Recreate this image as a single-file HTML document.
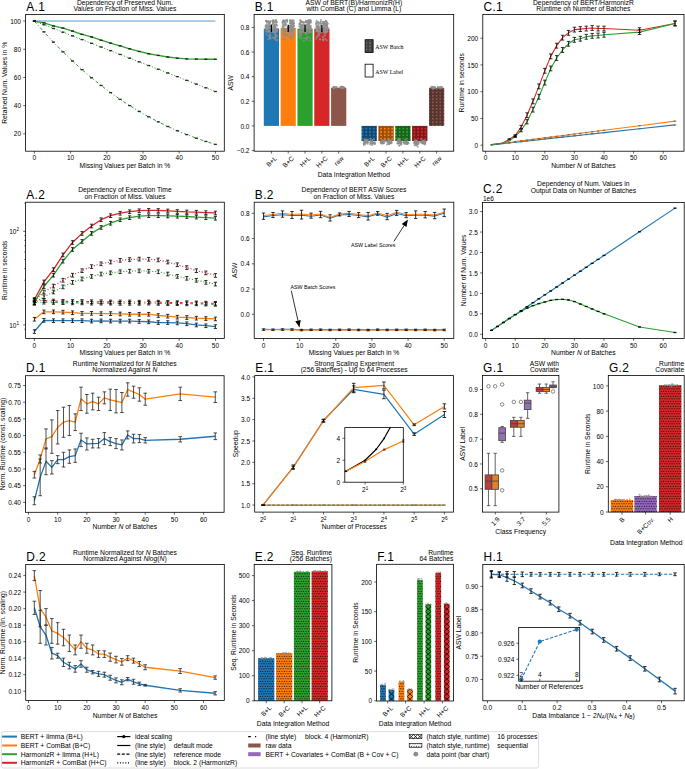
<!DOCTYPE html>
<html><head><meta charset="utf-8"><style>
html,body{margin:0;padding:0;background:#fff;}
svg{display:block;}
text{font-family:"Liberation Sans", sans-serif;}
</style></head><body>
<svg width="685" height="769" viewBox="0 0 685 769">
<defs><clipPath id="c1"><rect x="25.6" y="14.4" width="198.7" height="136.8"/></clipPath><pattern id="ho" patternUnits="userSpaceOnUse" width="3.7" height="3.3"><circle cx="1.85" cy="1.65" r="1.15" fill="none" stroke="#000" stroke-width="0.55"/></pattern><pattern id="hd" patternUnits="userSpaceOnUse" width="2.4" height="5.0"><circle cx="1.2" cy="1.25" r="0.6" fill="#000"/><circle cx="0" cy="3.75" r="0.6" fill="#000"/><circle cx="2.4" cy="3.75" r="0.6" fill="#000"/></pattern><pattern id="hx" patternUnits="userSpaceOnUse" width="2.8" height="2.8"><path d="M0,0L2.8,2.8M2.8,0L0,2.8M-1,1.7999999999999998L1,3.8M1.7999999999999998,-1L3.8,1" stroke="#000" stroke-width="0.45"/></pattern><clipPath id="c2"><rect x="254.1" y="14.4" width="199.6" height="136.8"/></clipPath><clipPath id="c3"><rect x="482.8" y="14.4" width="201.2" height="136.8"/></clipPath><clipPath id="c4"><rect x="25.6" y="202.2" width="198.7" height="136.3"/></clipPath><clipPath id="c5"><rect x="254.2" y="202.2" width="199.6" height="136.3"/></clipPath><clipPath id="c6"><rect x="482.5" y="202.4" width="201.7" height="136"/></clipPath><clipPath id="c7"><rect x="25.5" y="375.7" width="198.6" height="136.6"/></clipPath><clipPath id="c8"><rect x="254.7" y="375.6" width="198.8" height="136.5"/></clipPath><clipPath id="c9"><rect x="344.8" y="427.6" width="58.5" height="54.6"/></clipPath><clipPath id="c10"><rect x="482.5" y="375.5" width="76.4" height="136.6"/></clipPath><clipPath id="c11"><rect x="608.3" y="375.5" width="75.9" height="136.6"/></clipPath><clipPath id="c12"><rect x="25.7" y="564.5" width="198.6" height="136.1"/></clipPath><clipPath id="c13"><rect x="254.2" y="564.4" width="77.7" height="136.4"/></clipPath><clipPath id="c14"><rect x="376.6" y="564.3" width="76.8" height="136.7"/></clipPath><clipPath id="fx1"><rect x="388.6" y="689.81" width="5.7" height="10.99"/></clipPath><clipPath id="fx3"><rect x="407.1" y="689.22" width="5.7" height="11.58"/></clipPath><clipPath id="fx5"><rect x="425.5" y="604.27" width="5.7" height="96.52"/></clipPath><clipPath id="fx7"><rect x="443.9" y="603.8" width="5.7" height="97"/></clipPath><clipPath id="c15"><rect x="482.8" y="564.4" width="201.4" height="136.4"/></clipPath><clipPath id="c16"><rect x="518.7" y="627.5" width="61" height="53.7"/></clipPath></defs>
<rect width="685" height="769" fill="#fff"/>
<polyline points="34.4,21.05 43.93,21.05 53.45,21.05 62.98,21.05 72.51,21.05 82.03,21.05 91.56,21.05 101.08,21.05 110.61,21.05 120.14,21.05 129.66,21.05 139.19,21.05 148.72,21.05 158.24,21.05 167.77,21.05 177.29,21.05 186.82,21.05 196.35,21.05 205.87,21.05 215.4,21.05" fill="none" stroke="#1f77b4" stroke-width="1.5" stroke-opacity="0.5" clip-path="url(#c1)" stroke-linejoin="round" stroke-linecap="butt"/>
<polyline points="34.4,21.05 43.93,22.88 53.45,25.98 62.98,28.1 72.51,31.06 82.03,34.3 91.56,36.98 101.08,40.22 110.61,43.18 120.14,45.85 129.66,48.81 139.19,51.49 148.72,53.75 158.24,55.44 167.77,56.99 177.29,58.12 186.82,58.96 196.35,59.1 205.87,59.24 215.4,59.24" fill="none" stroke="#2ca02c" stroke-width="1.3" clip-path="url(#c1)" stroke-linejoin="round" stroke-linecap="butt"/>
<polyline points="34.4,21.05 43.93,24.76 53.45,28.47 62.98,32.18 72.51,35.89 82.03,39.59 91.56,43.3 101.08,47.01 110.61,50.72 120.14,54.43 129.66,58.14 139.19,61.85 148.72,65.56 158.24,69.27 167.77,72.97 177.29,76.68 186.82,80.39 196.35,84.1 205.87,87.81 215.4,91.52" fill="none" stroke="#2ca02c" stroke-width="1.0" stroke-dasharray="1.1,1.9" clip-path="url(#c1)" stroke-linejoin="round" stroke-linecap="butt"/>
<polyline points="34.4,21.05 43.93,31.89 53.45,42.15 62.98,51.86 72.51,61.04 82.03,69.68 91.56,77.82 101.08,85.47 110.61,92.64 120.14,99.34 129.66,105.6 139.19,111.43 148.72,116.84 158.24,121.86 167.77,126.48 177.29,130.74 186.82,134.64 196.35,138.2 205.87,141.44 215.4,144.37" fill="none" stroke="#2ca02c" stroke-width="1.0" stroke-dasharray="3.2,2.2,1,2.2" clip-path="url(#c1)" stroke-linejoin="round" stroke-linecap="butt"/>
<path d="M34.4,21.22V20.88M32.9,21.22H35.9M32.9,20.88H35.9M43.93,23.05V22.71M42.43,23.05H45.43M42.43,22.71H45.43M53.45,26.15V25.81M51.95,26.15H54.95M51.95,25.81H54.95M62.98,28.27V27.93M61.48,28.27H64.48M61.48,27.93H64.48M72.51,31.23V30.89M71.01,31.23H74.01M71.01,30.89H74.01M82.03,34.47V34.13M80.53,34.47H83.53M80.53,34.13H83.53M91.56,37.15V36.81M90.06,37.15H93.06M90.06,36.81H93.06M101.08,40.39V40.05M99.58,40.39H102.58M99.58,40.05H102.58M110.61,43.35V43.01M109.11,43.35H112.11M109.11,43.01H112.11M120.14,46.02V45.69M118.64,46.02H121.64M118.64,45.69H121.64M129.66,48.98V48.65M128.16,48.98H131.16M128.16,48.65H131.16M139.19,51.66V51.32M137.69,51.66H140.69M137.69,51.32H140.69M148.72,53.92V53.58M147.22,53.92H150.22M147.22,53.58H150.22M158.24,55.61V55.27M156.74,55.61H159.74M156.74,55.27H159.74M167.77,57.16V56.82M166.27,57.16H169.27M166.27,56.82H169.27M177.29,58.29V57.95M175.79,58.29H178.79M175.79,57.95H178.79M186.82,59.13V58.79M185.32,59.13H188.32M185.32,58.79H188.32M196.35,59.27V58.93M194.85,59.27H197.85M194.85,58.93H197.85M205.87,59.41V59.07M204.37,59.41H207.37M204.37,59.07H207.37M215.4,59.41V59.07M213.9,59.41H216.9M213.9,59.07H216.9" stroke="#1a1a1a" stroke-width="0.8" fill="none"/>
<path d="M34.4,21.22V20.88M32.9,21.22H35.9M32.9,20.88H35.9M43.93,24.93V24.59M42.43,24.93H45.43M42.43,24.59H45.43M53.45,28.64V28.3M51.95,28.64H54.95M51.95,28.3H54.95M62.98,32.35V32.01M61.48,32.35H64.48M61.48,32.01H64.48M72.51,36.05V35.72M71.01,36.05H74.01M71.01,35.72H74.01M82.03,39.76V39.43M80.53,39.76H83.53M80.53,39.43H83.53M91.56,43.47V43.13M90.06,43.47H93.06M90.06,43.13H93.06M101.08,47.18V46.84M99.58,47.18H102.58M99.58,46.84H102.58M110.61,50.89V50.55M109.11,50.89H112.11M109.11,50.55H112.11M120.14,54.6V54.26M118.64,54.6H121.64M118.64,54.26H121.64M129.66,58.31V57.97M128.16,58.31H131.16M128.16,57.97H131.16M139.19,62.02V61.68M137.69,62.02H140.69M137.69,61.68H140.69M148.72,65.73V65.39M147.22,65.73H150.22M147.22,65.39H150.22M158.24,69.43V69.1M156.74,69.43H159.74M156.74,69.1H159.74M167.77,73.14V72.81M166.27,73.14H169.27M166.27,72.81H169.27M177.29,76.85V76.51M175.79,76.85H178.79M175.79,76.51H178.79M186.82,80.56V80.22M185.32,80.56H188.32M185.32,80.22H188.32M196.35,84.27V83.93M194.85,84.27H197.85M194.85,83.93H197.85M205.87,87.98V87.64M204.37,87.98H207.37M204.37,87.64H207.37M215.4,91.69V91.35M213.9,91.69H216.9M213.9,91.35H216.9" stroke="#1a1a1a" stroke-width="0.8" fill="none"/>
<path d="M34.4,21.22V20.88M32.9,21.22H35.9M32.9,20.88H35.9M43.93,32.06V31.72M42.43,32.06H45.43M42.43,31.72H45.43M53.45,42.32V41.98M51.95,42.32H54.95M51.95,41.98H54.95M62.98,52.03V51.69M61.48,52.03H64.48M61.48,51.69H64.48M72.51,61.21V60.87M71.01,61.21H74.01M71.01,60.87H74.01M82.03,69.85V69.51M80.53,69.85H83.53M80.53,69.51H83.53M91.56,77.99V77.65M90.06,77.99H93.06M90.06,77.65H93.06M101.08,85.64V85.3M99.58,85.64H102.58M99.58,85.3H102.58M110.61,92.81V92.47M109.11,92.81H112.11M109.11,92.47H112.11M120.14,99.51V99.18M118.64,99.51H121.64M118.64,99.18H121.64M129.66,105.77V105.44M128.16,105.77H131.16M128.16,105.44H131.16M139.19,111.6V111.26M137.69,111.6H140.69M137.69,111.26H140.69M148.72,117.01V116.67M147.22,117.01H150.22M147.22,116.67H150.22M158.24,122.02V121.69M156.74,122.02H159.74M156.74,121.69H159.74M167.77,126.65V126.31M166.27,126.65H169.27M166.27,126.31H169.27M177.29,130.91V130.57M175.79,130.91H178.79M175.79,130.57H178.79M186.82,134.81V134.47M185.32,134.81H188.32M185.32,134.47H188.32M196.35,138.37V138.03M194.85,138.37H197.85M194.85,138.03H197.85M205.87,141.61V141.27M204.37,141.61H207.37M204.37,141.27H207.37M215.4,144.54V144.2M213.9,144.54H216.9M213.9,144.2H216.9" stroke="#1a1a1a" stroke-width="0.8" fill="none"/>
<rect x="25.6" y="14.4" width="198.7" height="136.8" fill="none" stroke="#000" stroke-width="0.8"/>
<line x1="34.4" y1="151.2" x2="34.4" y2="153.6" stroke="#000" stroke-width="0.6"/>
<text x="34.4" y="160.4" font-size="6.5" text-anchor="middle" letter-spacing="0" fill="#000">0</text>
<line x1="70.6" y1="151.2" x2="70.6" y2="153.6" stroke="#000" stroke-width="0.6"/>
<text x="70.6" y="160.4" font-size="6.5" text-anchor="middle" letter-spacing="0" fill="#000">10</text>
<line x1="106.8" y1="151.2" x2="106.8" y2="153.6" stroke="#000" stroke-width="0.6"/>
<text x="106.8" y="160.4" font-size="6.5" text-anchor="middle" letter-spacing="0" fill="#000">20</text>
<line x1="143" y1="151.2" x2="143" y2="153.6" stroke="#000" stroke-width="0.6"/>
<text x="143" y="160.4" font-size="6.5" text-anchor="middle" letter-spacing="0" fill="#000">30</text>
<line x1="179.2" y1="151.2" x2="179.2" y2="153.6" stroke="#000" stroke-width="0.6"/>
<text x="179.2" y="160.4" font-size="6.5" text-anchor="middle" letter-spacing="0" fill="#000">40</text>
<line x1="215.4" y1="151.2" x2="215.4" y2="153.6" stroke="#000" stroke-width="0.6"/>
<text x="215.4" y="160.4" font-size="6.5" text-anchor="middle" letter-spacing="0" fill="#000">50</text>
<line x1="23.2" y1="133.8" x2="25.6" y2="133.8" stroke="#000" stroke-width="0.6"/>
<text x="21" y="136.4" font-size="6.5" text-anchor="end" letter-spacing="0" fill="#000">20</text>
<line x1="23.2" y1="105.61" x2="25.6" y2="105.61" stroke="#000" stroke-width="0.6"/>
<text x="21" y="108.21" font-size="6.5" text-anchor="end" letter-spacing="0" fill="#000">40</text>
<line x1="23.2" y1="77.43" x2="25.6" y2="77.43" stroke="#000" stroke-width="0.6"/>
<text x="21" y="80.03" font-size="6.5" text-anchor="end" letter-spacing="0" fill="#000">60</text>
<line x1="23.2" y1="49.24" x2="25.6" y2="49.24" stroke="#000" stroke-width="0.6"/>
<text x="21" y="51.84" font-size="6.5" text-anchor="end" letter-spacing="0" fill="#000">80</text>
<line x1="23.2" y1="21.05" x2="25.6" y2="21.05" stroke="#000" stroke-width="0.6"/>
<text x="21" y="23.65" font-size="6.5" text-anchor="end" letter-spacing="0" fill="#000">100</text>
<text x="26.2" y="10.9" font-size="11.9" text-anchor="start" fill="#000" letter-spacing="0.4">A.1</text>
<text x="124.95" y="4.6" font-size="6.75" text-anchor="middle" letter-spacing="0" fill="#000">Dependency of Preserved Num.</text>
<text x="124.95" y="10.8" font-size="6.75" text-anchor="middle" letter-spacing="0" fill="#000">Values on Fraction of Miss. Values</text>
<text x="124.95" y="168.1" font-size="6.75" text-anchor="middle" letter-spacing="0" fill="#000">Missing Values per Batch in %</text>
<text x="6.6" y="82.8" font-size="6.75" text-anchor="middle" transform="rotate(-90 6.6 82.8)" letter-spacing="0" fill="#000">Retained Num. Values in %</text>
<rect x="263.8" y="28.63" width="15.2" height="97.27" fill="#1f77b4"/>
<rect x="280.62" y="27.77" width="15.2" height="98.13" fill="#ff7f0e"/>
<rect x="297.44" y="28.63" width="15.2" height="97.27" fill="#2ca02c"/>
<rect x="314.26" y="28.63" width="15.2" height="97.27" fill="#d62728"/>
<rect x="331.08" y="87.73" width="15.2" height="38.17" fill="#8c564b"/>
<rect x="361.6" y="125.9" width="15.2" height="15.14" fill="#1f77b4"/>
<rect x="361.6" y="125.9" width="15.2" height="15.14" fill="url(#ho)"/>
<rect x="378.45" y="125.9" width="15.2" height="15.14" fill="#ff7f0e"/>
<rect x="378.45" y="125.9" width="15.2" height="15.14" fill="url(#ho)"/>
<rect x="395.3" y="125.9" width="15.2" height="15.14" fill="#2ca02c"/>
<rect x="395.3" y="125.9" width="15.2" height="15.14" fill="url(#ho)"/>
<rect x="412.15" y="125.9" width="15.2" height="15.14" fill="#d62728"/>
<rect x="412.15" y="125.9" width="15.2" height="15.14" fill="url(#ho)"/>
<rect x="429" y="87.85" width="15.2" height="38.05" fill="#8c564b"/>
<rect x="429" y="87.85" width="15.2" height="38.05" fill="url(#ho)"/>
<g fill="#8e8e8e" fill-opacity="0.8"><circle cx="268.58" cy="21.05" r="1.0"/><circle cx="275.35" cy="32.16" r="1.0"/><circle cx="273.45" cy="20.07" r="1.0"/><circle cx="274.91" cy="27.44" r="1.0"/><circle cx="266.71" cy="20.93" r="1.0"/><circle cx="275.95" cy="31.54" r="1.0"/><circle cx="267.07" cy="21.67" r="1.0"/><circle cx="275.19" cy="37.13" r="1.0"/><circle cx="274.15" cy="26.85" r="1.0"/><circle cx="270.07" cy="30.65" r="1.0"/><circle cx="266.84" cy="22.73" r="1.0"/><circle cx="274.29" cy="25.26" r="1.0"/><circle cx="275.14" cy="34.23" r="1.0"/><circle cx="269.95" cy="34.33" r="1.0"/><circle cx="269.13" cy="25.65" r="1.0"/><circle cx="269.21" cy="22.09" r="1.0"/><circle cx="273.58" cy="21.81" r="1.0"/><circle cx="272.56" cy="27.27" r="1.0"/><circle cx="265.6" cy="27.21" r="1.0"/><circle cx="265.73" cy="31.77" r="1.0"/><circle cx="274.96" cy="38.19" r="1.0"/><circle cx="270.69" cy="31.38" r="1.0"/><circle cx="270.43" cy="38.07" r="1.0"/><circle cx="272.91" cy="21.64" r="1.0"/><circle cx="273.97" cy="21.72" r="1.0"/><circle cx="274.49" cy="24.4" r="1.0"/><circle cx="268.72" cy="35.95" r="1.0"/><circle cx="275.4" cy="20.8" r="1.0"/><circle cx="277.18" cy="25.57" r="1.0"/><circle cx="269.6" cy="37.84" r="1.0"/><circle cx="275.3" cy="31.59" r="1.0"/><circle cx="274.52" cy="27.98" r="1.0"/><circle cx="275.94" cy="31.58" r="1.0"/><circle cx="270.51" cy="26.71" r="1.0"/><circle cx="273.02" cy="22.99" r="1.0"/><circle cx="273.66" cy="22.82" r="1.0"/><circle cx="270.55" cy="30.71" r="1.0"/><circle cx="268.9" cy="28.29" r="1.0"/><circle cx="275.48" cy="24.93" r="1.0"/><circle cx="275.61" cy="22.35" r="1.0"/><circle cx="265.92" cy="29.64" r="1.0"/><circle cx="273.51" cy="31.91" r="1.0"/><circle cx="267.14" cy="25.25" r="1.0"/><circle cx="273.87" cy="31.27" r="1.0"/><circle cx="275.17" cy="25.94" r="1.0"/><circle cx="274.52" cy="28.75" r="1.0"/><circle cx="272.28" cy="29.87" r="1.0"/><circle cx="277" cy="31.22" r="1.0"/><circle cx="275.01" cy="33.88" r="1.0"/><circle cx="269.38" cy="24.16" r="1.0"/><circle cx="274.93" cy="32.46" r="1.0"/><circle cx="272.72" cy="31.89" r="1.0"/><circle cx="270.16" cy="35.26" r="1.0"/><circle cx="268" cy="26.13" r="1.0"/><circle cx="268.95" cy="27.23" r="1.0"/><circle cx="267.28" cy="21.72" r="1.0"/><circle cx="276.32" cy="29.61" r="1.0"/><circle cx="268.28" cy="30.22" r="1.0"/><circle cx="276.89" cy="22.19" r="1.0"/><circle cx="268.04" cy="27.4" r="1.0"/><circle cx="273.39" cy="25.93" r="1.0"/><circle cx="267.96" cy="32.3" r="1.0"/><circle cx="269.53" cy="31.71" r="1.0"/><circle cx="277.17" cy="40.1" r="1.0"/><circle cx="273.74" cy="28" r="1.0"/><circle cx="275.15" cy="29.97" r="1.0"/><circle cx="274.33" cy="32.28" r="1.0"/><circle cx="276.24" cy="31.8" r="1.0"/><circle cx="275.24" cy="27.64" r="1.0"/><circle cx="268.74" cy="27.74" r="1.0"/><circle cx="276.05" cy="20.62" r="1.0"/><circle cx="274.5" cy="25.73" r="1.0"/><circle cx="269.68" cy="30.72" r="1.0"/><circle cx="270.37" cy="21.27" r="1.0"/><circle cx="272.73" cy="20.76" r="1.0"/><circle cx="275.57" cy="25.38" r="1.0"/><circle cx="269.72" cy="26.49" r="1.0"/><circle cx="269.53" cy="31.19" r="1.0"/><circle cx="268.93" cy="22.24" r="1.0"/><circle cx="276.48" cy="21.93" r="1.0"/><circle cx="276.45" cy="35.24" r="1.0"/><circle cx="265.69" cy="26.03" r="1.0"/><circle cx="266.06" cy="20.82" r="1.0"/><circle cx="268.36" cy="39.17" r="1.0"/><circle cx="266.76" cy="29.25" r="1.0"/><circle cx="273.42" cy="20.77" r="1.0"/><circle cx="277.12" cy="29.43" r="1.0"/><circle cx="276.49" cy="36.85" r="1.0"/><circle cx="272.91" cy="21.4" r="1.0"/><circle cx="266" cy="21.04" r="1.0"/><circle cx="275.15" cy="39.6" r="1.0"/><circle cx="266.26" cy="20.82" r="1.0"/><circle cx="275.59" cy="35.08" r="1.0"/><circle cx="276.72" cy="29.02" r="1.0"/><circle cx="273.14" cy="29.38" r="1.0"/><circle cx="276.13" cy="20.12" r="1.0"/><circle cx="275.75" cy="25.18" r="1.0"/><circle cx="268" cy="21.78" r="1.0"/><circle cx="276.17" cy="40.49" r="1.0"/><circle cx="270.13" cy="22.75" r="1.0"/><circle cx="270.49" cy="38.56" r="1.0"/><circle cx="269.53" cy="24.67" r="1.0"/><circle cx="270.18" cy="21.67" r="1.0"/><circle cx="273.05" cy="22.49" r="1.0"/><circle cx="265.98" cy="28.73" r="1.0"/><circle cx="274.45" cy="28.18" r="1.0"/><circle cx="267.24" cy="26.34" r="1.0"/><circle cx="268.85" cy="26.29" r="1.0"/><circle cx="268.33" cy="28.94" r="1.0"/><circle cx="272.69" cy="31.99" r="1.0"/><circle cx="268.24" cy="23.97" r="1.0"/><circle cx="276.04" cy="24" r="1.0"/><circle cx="272.66" cy="37.61" r="1.0"/><circle cx="268.97" cy="31.59" r="1.0"/><circle cx="275.63" cy="30.08" r="1.0"/><circle cx="266.43" cy="34.49" r="1.0"/><circle cx="266.06" cy="20.99" r="1.0"/><circle cx="274.99" cy="26.69" r="1.0"/><circle cx="276.17" cy="31" r="1.0"/><circle cx="269.42" cy="23.22" r="1.0"/><circle cx="272.62" cy="31.67" r="1.0"/><circle cx="265.72" cy="29.28" r="1.0"/><circle cx="276.65" cy="36.53" r="1.0"/><circle cx="267.33" cy="30.94" r="1.0"/><circle cx="275.17" cy="25.38" r="1.0"/><circle cx="266.46" cy="27.19" r="1.0"/><circle cx="276.34" cy="25.04" r="1.0"/><circle cx="269.97" cy="25.62" r="1.0"/><circle cx="268.46" cy="29.25" r="1.0"/><circle cx="272.26" cy="21.35" r="1.0"/><circle cx="273.74" cy="37.89" r="1.0"/><circle cx="277.18" cy="28.64" r="1.0"/><circle cx="272.26" cy="24.52" r="1.0"/><circle cx="269.51" cy="26.27" r="1.0"/><circle cx="273.13" cy="29.72" r="1.0"/><circle cx="272.68" cy="24.23" r="1.0"/><circle cx="266.21" cy="24.65" r="1.0"/><circle cx="265.63" cy="26.1" r="1.0"/><circle cx="274.9" cy="37.76" r="1.0"/><circle cx="275.71" cy="21.76" r="1.0"/><circle cx="269.22" cy="28.09" r="1.0"/><circle cx="270.35" cy="36.64" r="1.0"/><circle cx="268.02" cy="31.8" r="1.0"/><circle cx="269.9" cy="27.5" r="1.0"/><circle cx="275.74" cy="27.13" r="1.0"/><circle cx="273.68" cy="23" r="1.0"/><circle cx="274.38" cy="31.87" r="1.0"/><circle cx="274.01" cy="25.81" r="1.0"/><circle cx="273.26" cy="29.75" r="1.0"/><circle cx="272.85" cy="29.92" r="1.0"/><circle cx="363.61" cy="143.66" r="1.0"/><circle cx="364.17" cy="143.09" r="1.0"/><circle cx="365.63" cy="141.24" r="1.0"/><circle cx="372.25" cy="139.89" r="1.0"/><circle cx="370.26" cy="142.5" r="1.0"/><circle cx="365.4" cy="143.25" r="1.0"/><circle cx="367.86" cy="141.53" r="1.0"/><circle cx="372.38" cy="142.95" r="1.0"/><circle cx="365.1" cy="140.05" r="1.0"/><circle cx="367.38" cy="140.28" r="1.0"/><circle cx="371.42" cy="141.92" r="1.0"/><circle cx="372.45" cy="143.75" r="1.0"/><circle cx="370.24" cy="144.49" r="1.0"/><circle cx="370.55" cy="138.64" r="1.0"/><circle cx="374.75" cy="142.37" r="1.0"/><circle cx="366.77" cy="142.34" r="1.0"/><circle cx="364.32" cy="141.84" r="1.0"/><circle cx="371.06" cy="142.17" r="1.0"/><circle cx="371.73" cy="143.52" r="1.0"/><circle cx="365.34" cy="142.11" r="1.0"/><circle cx="370.52" cy="142.99" r="1.0"/><circle cx="365.94" cy="139.74" r="1.0"/><circle cx="372.68" cy="142.03" r="1.0"/><circle cx="374.11" cy="143.63" r="1.0"/><circle cx="374.53" cy="143.19" r="1.0"/><circle cx="365.63" cy="141.21" r="1.0"/><circle cx="371.76" cy="141.58" r="1.0"/><circle cx="374.66" cy="143.73" r="1.0"/><circle cx="364.24" cy="142.35" r="1.0"/><circle cx="370.54" cy="142.56" r="1.0"/><circle cx="365.04" cy="144.24" r="1.0"/><circle cx="367.72" cy="143.72" r="1.0"/><circle cx="365.66" cy="140.52" r="1.0"/><circle cx="374.89" cy="143.6" r="1.0"/><circle cx="363.85" cy="145" r="1.0"/><circle cx="365.12" cy="140.28" r="1.0"/><circle cx="370.63" cy="140.56" r="1.0"/><circle cx="366.8" cy="141.32" r="1.0"/><circle cx="367.99" cy="139.83" r="1.0"/><circle cx="364.6" cy="139.2" r="1.0"/><circle cx="364.56" cy="143.58" r="1.0"/><circle cx="373.89" cy="142.82" r="1.0"/><circle cx="365.74" cy="142.56" r="1.0"/><circle cx="366.37" cy="142.55" r="1.0"/><circle cx="364.46" cy="141.83" r="1.0"/><circle cx="372.02" cy="142.63" r="1.0"/><circle cx="366.58" cy="142.08" r="1.0"/><circle cx="372.03" cy="145.01" r="1.0"/><circle cx="373.83" cy="143.12" r="1.0"/><circle cx="374.01" cy="139.13" r="1.0"/><circle cx="364.06" cy="141.13" r="1.0"/><circle cx="365.14" cy="142.22" r="1.0"/><circle cx="365.83" cy="140.73" r="1.0"/><circle cx="372.13" cy="141.53" r="1.0"/><circle cx="366.41" cy="141.99" r="1.0"/><circle cx="365.11" cy="141.05" r="1.0"/><circle cx="372.21" cy="142.28" r="1.0"/><circle cx="366.99" cy="141.08" r="1.0"/><circle cx="374.57" cy="143.65" r="1.0"/><circle cx="367.83" cy="142.59" r="1.0"/><circle cx="291.44" cy="27.31" r="1.0"/><circle cx="283.84" cy="39.13" r="1.0"/><circle cx="282.47" cy="26.13" r="1.0"/><circle cx="285.64" cy="23.15" r="1.0"/><circle cx="291.48" cy="26.56" r="1.0"/><circle cx="286.2" cy="31.05" r="1.0"/><circle cx="293.64" cy="29.79" r="1.0"/><circle cx="292.89" cy="20.3" r="1.0"/><circle cx="293.82" cy="20.75" r="1.0"/><circle cx="291.65" cy="27.9" r="1.0"/><circle cx="290.4" cy="21.41" r="1.0"/><circle cx="292.81" cy="35.83" r="1.0"/><circle cx="283" cy="25.73" r="1.0"/><circle cx="287.26" cy="20.21" r="1.0"/><circle cx="290.77" cy="37.37" r="1.0"/><circle cx="284.87" cy="28.92" r="1.0"/><circle cx="293.26" cy="22.34" r="1.0"/><circle cx="290.54" cy="22.45" r="1.0"/><circle cx="292.68" cy="31.96" r="1.0"/><circle cx="285.58" cy="21.09" r="1.0"/><circle cx="287.28" cy="21.97" r="1.0"/><circle cx="291.57" cy="25.53" r="1.0"/><circle cx="289.01" cy="26.34" r="1.0"/><circle cx="286.98" cy="36.34" r="1.0"/><circle cx="290.85" cy="28.71" r="1.0"/><circle cx="285.88" cy="35.56" r="1.0"/><circle cx="292.95" cy="28.9" r="1.0"/><circle cx="291.27" cy="39.41" r="1.0"/><circle cx="289.65" cy="26.35" r="1.0"/><circle cx="286.62" cy="34.91" r="1.0"/><circle cx="283.97" cy="30.9" r="1.0"/><circle cx="283.78" cy="21.1" r="1.0"/><circle cx="284.58" cy="31.91" r="1.0"/><circle cx="293.58" cy="34.6" r="1.0"/><circle cx="283.94" cy="24.27" r="1.0"/><circle cx="290.56" cy="20.63" r="1.0"/><circle cx="290.57" cy="28.85" r="1.0"/><circle cx="284.49" cy="21.25" r="1.0"/><circle cx="290.11" cy="31.35" r="1.0"/><circle cx="286.18" cy="24.55" r="1.0"/><circle cx="287.22" cy="34.13" r="1.0"/><circle cx="290.31" cy="29.03" r="1.0"/><circle cx="283.23" cy="30.26" r="1.0"/><circle cx="287.03" cy="20.1" r="1.0"/><circle cx="292.28" cy="31.65" r="1.0"/><circle cx="283.94" cy="30.72" r="1.0"/><circle cx="282.57" cy="35.68" r="1.0"/><circle cx="292.97" cy="30.09" r="1.0"/><circle cx="283.78" cy="30.54" r="1.0"/><circle cx="284.31" cy="35" r="1.0"/><circle cx="282.36" cy="30.57" r="1.0"/><circle cx="290.2" cy="20.62" r="1.0"/><circle cx="289.46" cy="26.5" r="1.0"/><circle cx="291.68" cy="36.59" r="1.0"/><circle cx="291.33" cy="26.88" r="1.0"/><circle cx="293.25" cy="25.01" r="1.0"/><circle cx="283.88" cy="31.5" r="1.0"/><circle cx="290.3" cy="31.67" r="1.0"/><circle cx="284.45" cy="39.82" r="1.0"/><circle cx="283.14" cy="27.36" r="1.0"/><circle cx="291.65" cy="31.19" r="1.0"/><circle cx="290.61" cy="29.63" r="1.0"/><circle cx="291.55" cy="28.41" r="1.0"/><circle cx="292.57" cy="23.42" r="1.0"/><circle cx="293.4" cy="28.79" r="1.0"/><circle cx="290.32" cy="26.16" r="1.0"/><circle cx="292.71" cy="26.97" r="1.0"/><circle cx="291.28" cy="25.78" r="1.0"/><circle cx="287.45" cy="26.89" r="1.0"/><circle cx="282.68" cy="21.89" r="1.0"/><circle cx="289.23" cy="37.16" r="1.0"/><circle cx="284.23" cy="25.57" r="1.0"/><circle cx="284.56" cy="33.94" r="1.0"/><circle cx="288.98" cy="27.76" r="1.0"/><circle cx="290.86" cy="21.55" r="1.0"/><circle cx="289.68" cy="27.76" r="1.0"/><circle cx="283.05" cy="28.38" r="1.0"/><circle cx="289.94" cy="23.3" r="1.0"/><circle cx="291.7" cy="22.13" r="1.0"/><circle cx="284.62" cy="30.84" r="1.0"/><circle cx="290.09" cy="28.55" r="1.0"/><circle cx="282.93" cy="21.46" r="1.0"/><circle cx="289.07" cy="32.23" r="1.0"/><circle cx="284.78" cy="29.82" r="1.0"/><circle cx="291.97" cy="38.01" r="1.0"/><circle cx="289.42" cy="34.14" r="1.0"/><circle cx="282.65" cy="33.6" r="1.0"/><circle cx="289.26" cy="26.42" r="1.0"/><circle cx="292.2" cy="24.2" r="1.0"/><circle cx="293.5" cy="28.35" r="1.0"/><circle cx="293.9" cy="25.95" r="1.0"/><circle cx="285.3" cy="29.47" r="1.0"/><circle cx="293.21" cy="37.04" r="1.0"/><circle cx="294.03" cy="25.82" r="1.0"/><circle cx="285.3" cy="25.08" r="1.0"/><circle cx="292.14" cy="22.86" r="1.0"/><circle cx="284.64" cy="21.76" r="1.0"/><circle cx="284.89" cy="39.13" r="1.0"/><circle cx="287.2" cy="21.08" r="1.0"/><circle cx="293.3" cy="23.03" r="1.0"/><circle cx="291.51" cy="21.84" r="1.0"/><circle cx="283.55" cy="29.57" r="1.0"/><circle cx="290.22" cy="23.78" r="1.0"/><circle cx="292.73" cy="28.58" r="1.0"/><circle cx="285.26" cy="23.71" r="1.0"/><circle cx="286.54" cy="29.46" r="1.0"/><circle cx="292.03" cy="30.14" r="1.0"/><circle cx="291.22" cy="22.64" r="1.0"/><circle cx="291.47" cy="29.02" r="1.0"/><circle cx="292.49" cy="22.26" r="1.0"/><circle cx="290.72" cy="36.18" r="1.0"/><circle cx="282.92" cy="21.68" r="1.0"/><circle cx="285.35" cy="25.82" r="1.0"/><circle cx="291.4" cy="21.7" r="1.0"/><circle cx="290.87" cy="28.05" r="1.0"/><circle cx="285.56" cy="20.31" r="1.0"/><circle cx="291.96" cy="28.77" r="1.0"/><circle cx="294.06" cy="23.11" r="1.0"/><circle cx="293.72" cy="25.45" r="1.0"/><circle cx="291.12" cy="30.09" r="1.0"/><circle cx="292.55" cy="27.58" r="1.0"/><circle cx="284.01" cy="21.06" r="1.0"/><circle cx="289.82" cy="29.91" r="1.0"/><circle cx="291.79" cy="23.41" r="1.0"/><circle cx="292.57" cy="24.13" r="1.0"/><circle cx="282.84" cy="20.96" r="1.0"/><circle cx="290.99" cy="28.92" r="1.0"/><circle cx="290.12" cy="29.72" r="1.0"/><circle cx="284.8" cy="29.1" r="1.0"/><circle cx="283.7" cy="20.66" r="1.0"/><circle cx="283.6" cy="28.04" r="1.0"/><circle cx="293.62" cy="23.66" r="1.0"/><circle cx="283.49" cy="20.33" r="1.0"/><circle cx="293.23" cy="31.8" r="1.0"/><circle cx="290.32" cy="27.74" r="1.0"/><circle cx="292.79" cy="23.86" r="1.0"/><circle cx="294.01" cy="28.69" r="1.0"/><circle cx="291.97" cy="31.75" r="1.0"/><circle cx="284.56" cy="22.59" r="1.0"/><circle cx="284.95" cy="32.59" r="1.0"/><circle cx="290.26" cy="25.38" r="1.0"/><circle cx="289.97" cy="20.25" r="1.0"/><circle cx="284.84" cy="30.49" r="1.0"/><circle cx="292.4" cy="30.34" r="1.0"/><circle cx="282.77" cy="23.95" r="1.0"/><circle cx="282.36" cy="22.66" r="1.0"/><circle cx="292.6" cy="24.16" r="1.0"/><circle cx="290.29" cy="32.3" r="1.0"/><circle cx="292.47" cy="32.24" r="1.0"/><circle cx="291.61" cy="20.37" r="1.0"/><circle cx="380.56" cy="142.23" r="1.0"/><circle cx="391.44" cy="142.07" r="1.0"/><circle cx="389.96" cy="143.2" r="1.0"/><circle cx="382.01" cy="141.92" r="1.0"/><circle cx="381.11" cy="143.33" r="1.0"/><circle cx="382.97" cy="141.42" r="1.0"/><circle cx="381.74" cy="141.97" r="1.0"/><circle cx="388.02" cy="142.23" r="1.0"/><circle cx="389.68" cy="142.5" r="1.0"/><circle cx="390.13" cy="139.99" r="1.0"/><circle cx="382.85" cy="143.32" r="1.0"/><circle cx="381.2" cy="141.76" r="1.0"/><circle cx="389.35" cy="139.77" r="1.0"/><circle cx="382.46" cy="140.46" r="1.0"/><circle cx="381.83" cy="143.24" r="1.0"/><circle cx="387.54" cy="142.41" r="1.0"/><circle cx="387.28" cy="141.56" r="1.0"/><circle cx="387.05" cy="144.38" r="1.0"/><circle cx="382.62" cy="140.15" r="1.0"/><circle cx="391.3" cy="142.21" r="1.0"/><circle cx="382" cy="142.99" r="1.0"/><circle cx="388.39" cy="139.89" r="1.0"/><circle cx="390.8" cy="142.91" r="1.0"/><circle cx="391.58" cy="140.65" r="1.0"/><circle cx="380.9" cy="142.7" r="1.0"/><circle cx="383.93" cy="143.18" r="1.0"/><circle cx="383.38" cy="140.52" r="1.0"/><circle cx="382.73" cy="141.27" r="1.0"/><circle cx="390.2" cy="141.01" r="1.0"/><circle cx="389.64" cy="142.91" r="1.0"/><circle cx="389.03" cy="144.04" r="1.0"/><circle cx="388.42" cy="139.62" r="1.0"/><circle cx="390.73" cy="142.29" r="1.0"/><circle cx="383.47" cy="143.19" r="1.0"/><circle cx="391.54" cy="143.18" r="1.0"/><circle cx="389.83" cy="142.14" r="1.0"/><circle cx="385.14" cy="140.97" r="1.0"/><circle cx="387.82" cy="141.86" r="1.0"/><circle cx="383.49" cy="141" r="1.0"/><circle cx="391.19" cy="143.04" r="1.0"/><circle cx="388.76" cy="141.73" r="1.0"/><circle cx="388.7" cy="143.45" r="1.0"/><circle cx="388.26" cy="142.09" r="1.0"/><circle cx="384.03" cy="141.32" r="1.0"/><circle cx="383.43" cy="142.36" r="1.0"/><circle cx="389.25" cy="142.9" r="1.0"/><circle cx="389.36" cy="144.02" r="1.0"/><circle cx="388.85" cy="142.95" r="1.0"/><circle cx="384.74" cy="141.3" r="1.0"/><circle cx="385.05" cy="139.6" r="1.0"/><circle cx="382.25" cy="142.95" r="1.0"/><circle cx="383.2" cy="142.33" r="1.0"/><circle cx="389.59" cy="141.3" r="1.0"/><circle cx="381.11" cy="141.25" r="1.0"/><circle cx="389.34" cy="143.42" r="1.0"/><circle cx="381.57" cy="143.43" r="1.0"/><circle cx="383.19" cy="143.22" r="1.0"/><circle cx="385.03" cy="140.84" r="1.0"/><circle cx="387.9" cy="141.91" r="1.0"/><circle cx="384.54" cy="140.98" r="1.0"/><circle cx="306.93" cy="37.66" r="1.0"/><circle cx="309.76" cy="29.77" r="1.0"/><circle cx="305.75" cy="22.28" r="1.0"/><circle cx="304" cy="22.23" r="1.0"/><circle cx="303.25" cy="28.75" r="1.0"/><circle cx="310.78" cy="31.94" r="1.0"/><circle cx="301.5" cy="25.76" r="1.0"/><circle cx="307.12" cy="20.68" r="1.0"/><circle cx="301.49" cy="28.02" r="1.0"/><circle cx="299.69" cy="37.02" r="1.0"/><circle cx="309.87" cy="29.4" r="1.0"/><circle cx="302.3" cy="30.19" r="1.0"/><circle cx="307.53" cy="28.29" r="1.0"/><circle cx="303.19" cy="31.49" r="1.0"/><circle cx="308.63" cy="26.88" r="1.0"/><circle cx="310.93" cy="32.31" r="1.0"/><circle cx="301.06" cy="38.2" r="1.0"/><circle cx="303.54" cy="27.87" r="1.0"/><circle cx="309.54" cy="37.69" r="1.0"/><circle cx="308.52" cy="31.41" r="1.0"/><circle cx="306.71" cy="39.81" r="1.0"/><circle cx="300.05" cy="29.12" r="1.0"/><circle cx="301.03" cy="29.6" r="1.0"/><circle cx="310.3" cy="40.42" r="1.0"/><circle cx="306.6" cy="26.14" r="1.0"/><circle cx="309.61" cy="20.03" r="1.0"/><circle cx="310.29" cy="31.33" r="1.0"/><circle cx="302.6" cy="31.04" r="1.0"/><circle cx="302.58" cy="29.73" r="1.0"/><circle cx="305.94" cy="20.78" r="1.0"/><circle cx="300.84" cy="20.27" r="1.0"/><circle cx="309.72" cy="32.15" r="1.0"/><circle cx="302.79" cy="32.14" r="1.0"/><circle cx="306.41" cy="26.84" r="1.0"/><circle cx="309.22" cy="23.35" r="1.0"/><circle cx="310.21" cy="29.44" r="1.0"/><circle cx="301.97" cy="22.39" r="1.0"/><circle cx="301.85" cy="28.41" r="1.0"/><circle cx="307.53" cy="30.21" r="1.0"/><circle cx="306.12" cy="33.76" r="1.0"/><circle cx="307.84" cy="36.7" r="1.0"/><circle cx="303.93" cy="32.23" r="1.0"/><circle cx="308.03" cy="24.44" r="1.0"/><circle cx="308.95" cy="25.89" r="1.0"/><circle cx="309.78" cy="21.89" r="1.0"/><circle cx="306.19" cy="22.31" r="1.0"/><circle cx="307.8" cy="21.81" r="1.0"/><circle cx="304.13" cy="38.36" r="1.0"/><circle cx="304.01" cy="29.4" r="1.0"/><circle cx="300.65" cy="22.32" r="1.0"/><circle cx="299.15" cy="26.31" r="1.0"/><circle cx="303.88" cy="22.68" r="1.0"/><circle cx="302.39" cy="26.21" r="1.0"/><circle cx="307.52" cy="25.52" r="1.0"/><circle cx="310.32" cy="22.21" r="1.0"/><circle cx="299.34" cy="31.17" r="1.0"/><circle cx="308.76" cy="23.57" r="1.0"/><circle cx="299.2" cy="23.97" r="1.0"/><circle cx="306.48" cy="29.26" r="1.0"/><circle cx="308.75" cy="27.05" r="1.0"/><circle cx="306.04" cy="32.66" r="1.0"/><circle cx="304.21" cy="28.56" r="1.0"/><circle cx="299.18" cy="33.08" r="1.0"/><circle cx="309.61" cy="21.52" r="1.0"/><circle cx="302.71" cy="31.8" r="1.0"/><circle cx="310.64" cy="21.15" r="1.0"/><circle cx="310.31" cy="20.89" r="1.0"/><circle cx="310.78" cy="20.62" r="1.0"/><circle cx="307.66" cy="24.76" r="1.0"/><circle cx="301.03" cy="29.31" r="1.0"/><circle cx="301.67" cy="25.3" r="1.0"/><circle cx="310.83" cy="25.81" r="1.0"/><circle cx="310.34" cy="22.14" r="1.0"/><circle cx="310.89" cy="27.5" r="1.0"/><circle cx="301.1" cy="21.58" r="1.0"/><circle cx="310.03" cy="28.59" r="1.0"/><circle cx="309.1" cy="30.43" r="1.0"/><circle cx="308.43" cy="20.26" r="1.0"/><circle cx="309.52" cy="23.78" r="1.0"/><circle cx="309.13" cy="23.46" r="1.0"/><circle cx="301.08" cy="26.8" r="1.0"/><circle cx="304.25" cy="25.29" r="1.0"/><circle cx="302.56" cy="21.82" r="1.0"/><circle cx="304.1" cy="25.59" r="1.0"/><circle cx="307.36" cy="23.17" r="1.0"/><circle cx="300.48" cy="33.02" r="1.0"/><circle cx="309.74" cy="29.11" r="1.0"/><circle cx="299.98" cy="33.42" r="1.0"/><circle cx="306.17" cy="32.18" r="1.0"/><circle cx="310.27" cy="27" r="1.0"/><circle cx="302.39" cy="22.3" r="1.0"/><circle cx="309.05" cy="21.79" r="1.0"/><circle cx="310.79" cy="29.21" r="1.0"/><circle cx="300.52" cy="29.43" r="1.0"/><circle cx="307.19" cy="29.27" r="1.0"/><circle cx="310.24" cy="31.4" r="1.0"/><circle cx="299.91" cy="24.27" r="1.0"/><circle cx="300.18" cy="22.9" r="1.0"/><circle cx="301.19" cy="32.04" r="1.0"/><circle cx="303.4" cy="22.65" r="1.0"/><circle cx="309.8" cy="31.24" r="1.0"/><circle cx="302.06" cy="22.07" r="1.0"/><circle cx="300.09" cy="23.84" r="1.0"/><circle cx="303.74" cy="30.43" r="1.0"/><circle cx="300.31" cy="27.35" r="1.0"/><circle cx="303.74" cy="28.62" r="1.0"/><circle cx="310.32" cy="30.36" r="1.0"/><circle cx="301.47" cy="29.41" r="1.0"/><circle cx="303.59" cy="25.49" r="1.0"/><circle cx="309.37" cy="27.08" r="1.0"/><circle cx="300.67" cy="26.14" r="1.0"/><circle cx="299.77" cy="35.27" r="1.0"/><circle cx="300.32" cy="31.51" r="1.0"/><circle cx="306.25" cy="21.68" r="1.0"/><circle cx="305.88" cy="22.08" r="1.0"/><circle cx="310.25" cy="31.38" r="1.0"/><circle cx="305.9" cy="38.61" r="1.0"/><circle cx="308.18" cy="28.73" r="1.0"/><circle cx="303.3" cy="25.28" r="1.0"/><circle cx="304.03" cy="31.49" r="1.0"/><circle cx="306.36" cy="34.18" r="1.0"/><circle cx="309.02" cy="32.84" r="1.0"/><circle cx="306" cy="21.93" r="1.0"/><circle cx="306.8" cy="28.38" r="1.0"/><circle cx="308.58" cy="30.41" r="1.0"/><circle cx="306.17" cy="26.3" r="1.0"/><circle cx="301.16" cy="34.89" r="1.0"/><circle cx="309.29" cy="25.95" r="1.0"/><circle cx="308.15" cy="21.13" r="1.0"/><circle cx="299.94" cy="24.18" r="1.0"/><circle cx="300.39" cy="26.74" r="1.0"/><circle cx="308.82" cy="26.92" r="1.0"/><circle cx="310.86" cy="22.6" r="1.0"/><circle cx="306.15" cy="24.73" r="1.0"/><circle cx="310.31" cy="20.42" r="1.0"/><circle cx="307.09" cy="31.13" r="1.0"/><circle cx="301.5" cy="24.81" r="1.0"/><circle cx="306.58" cy="27.65" r="1.0"/><circle cx="306.84" cy="32.07" r="1.0"/><circle cx="309.27" cy="30.63" r="1.0"/><circle cx="302.9" cy="27.26" r="1.0"/><circle cx="308.93" cy="20.88" r="1.0"/><circle cx="299.94" cy="20.5" r="1.0"/><circle cx="308.08" cy="22.04" r="1.0"/><circle cx="302.49" cy="25.31" r="1.0"/><circle cx="308.99" cy="24.44" r="1.0"/><circle cx="308.29" cy="29.81" r="1.0"/><circle cx="303.72" cy="40.87" r="1.0"/><circle cx="303.39" cy="31.47" r="1.0"/><circle cx="305.78" cy="28.6" r="1.0"/><circle cx="400.4" cy="142.25" r="1.0"/><circle cx="397.53" cy="140.83" r="1.0"/><circle cx="398.39" cy="140.21" r="1.0"/><circle cx="405.94" cy="142.03" r="1.0"/><circle cx="399.18" cy="141.11" r="1.0"/><circle cx="406.94" cy="142.68" r="1.0"/><circle cx="399.03" cy="140.95" r="1.0"/><circle cx="401.48" cy="144.45" r="1.0"/><circle cx="405.59" cy="142.59" r="1.0"/><circle cx="399.32" cy="141.73" r="1.0"/><circle cx="407.82" cy="142.63" r="1.0"/><circle cx="399.45" cy="141.79" r="1.0"/><circle cx="406.8" cy="143.86" r="1.0"/><circle cx="404.12" cy="142.48" r="1.0"/><circle cx="401.14" cy="140.88" r="1.0"/><circle cx="405.32" cy="143.33" r="1.0"/><circle cx="398.03" cy="140.1" r="1.0"/><circle cx="400.57" cy="142.61" r="1.0"/><circle cx="398.14" cy="143.07" r="1.0"/><circle cx="397.56" cy="143.17" r="1.0"/><circle cx="399.12" cy="139.89" r="1.0"/><circle cx="404.03" cy="142.11" r="1.0"/><circle cx="408.58" cy="143.43" r="1.0"/><circle cx="407.54" cy="141.05" r="1.0"/><circle cx="406.52" cy="141.77" r="1.0"/><circle cx="407.19" cy="142.64" r="1.0"/><circle cx="400.55" cy="142.48" r="1.0"/><circle cx="399.92" cy="139.12" r="1.0"/><circle cx="407.21" cy="143.53" r="1.0"/><circle cx="399.49" cy="145.61" r="1.0"/><circle cx="399.65" cy="142.83" r="1.0"/><circle cx="397.44" cy="143.38" r="1.0"/><circle cx="401.2" cy="142.72" r="1.0"/><circle cx="405.57" cy="139.32" r="1.0"/><circle cx="404.66" cy="142.94" r="1.0"/><circle cx="398.71" cy="142.03" r="1.0"/><circle cx="406.66" cy="144.36" r="1.0"/><circle cx="405.84" cy="142.48" r="1.0"/><circle cx="401" cy="141.88" r="1.0"/><circle cx="398.43" cy="138.52" r="1.0"/><circle cx="401.26" cy="143.84" r="1.0"/><circle cx="407.92" cy="142.43" r="1.0"/><circle cx="404.8" cy="144.07" r="1.0"/><circle cx="397.77" cy="140.96" r="1.0"/><circle cx="404.22" cy="143.02" r="1.0"/><circle cx="401.29" cy="142.41" r="1.0"/><circle cx="404.96" cy="142.96" r="1.0"/><circle cx="399.09" cy="141.02" r="1.0"/><circle cx="399.01" cy="143.36" r="1.0"/><circle cx="404.55" cy="142.32" r="1.0"/><circle cx="403.89" cy="142.33" r="1.0"/><circle cx="400.12" cy="143.11" r="1.0"/><circle cx="399.2" cy="145.49" r="1.0"/><circle cx="404.95" cy="141.07" r="1.0"/><circle cx="407.48" cy="143.33" r="1.0"/><circle cx="398.22" cy="143.52" r="1.0"/><circle cx="399.89" cy="141.57" r="1.0"/><circle cx="406.9" cy="143.95" r="1.0"/><circle cx="400.78" cy="144.33" r="1.0"/><circle cx="401.8" cy="142.25" r="1.0"/><circle cx="317.78" cy="26.94" r="1.0"/><circle cx="324.19" cy="31.96" r="1.0"/><circle cx="323.31" cy="40.01" r="1.0"/><circle cx="326.86" cy="31.29" r="1.0"/><circle cx="324.1" cy="28.91" r="1.0"/><circle cx="320.85" cy="30.42" r="1.0"/><circle cx="318.44" cy="31.55" r="1.0"/><circle cx="316.08" cy="27.08" r="1.0"/><circle cx="326.19" cy="27.79" r="1.0"/><circle cx="320.31" cy="31.1" r="1.0"/><circle cx="316.75" cy="31.54" r="1.0"/><circle cx="325.17" cy="29.14" r="1.0"/><circle cx="326.22" cy="32.1" r="1.0"/><circle cx="323.02" cy="28.54" r="1.0"/><circle cx="327.44" cy="23.75" r="1.0"/><circle cx="326.85" cy="30.73" r="1.0"/><circle cx="318.85" cy="24.29" r="1.0"/><circle cx="324.14" cy="25.6" r="1.0"/><circle cx="324.4" cy="32.58" r="1.0"/><circle cx="317.91" cy="28.79" r="1.0"/><circle cx="326.37" cy="27.89" r="1.0"/><circle cx="323.07" cy="36.72" r="1.0"/><circle cx="324.91" cy="35.77" r="1.0"/><circle cx="324.08" cy="31.94" r="1.0"/><circle cx="323.39" cy="40.45" r="1.0"/><circle cx="320.37" cy="25.8" r="1.0"/><circle cx="322.58" cy="21.74" r="1.0"/><circle cx="317.57" cy="28.59" r="1.0"/><circle cx="323.77" cy="27.42" r="1.0"/><circle cx="326.6" cy="23.01" r="1.0"/><circle cx="320.39" cy="22.61" r="1.0"/><circle cx="316.63" cy="20.87" r="1.0"/><circle cx="326.37" cy="24.23" r="1.0"/><circle cx="318.6" cy="30.79" r="1.0"/><circle cx="326.2" cy="31.77" r="1.0"/><circle cx="320.59" cy="29.38" r="1.0"/><circle cx="327.22" cy="30.68" r="1.0"/><circle cx="327.48" cy="23.61" r="1.0"/><circle cx="320.22" cy="22.93" r="1.0"/><circle cx="324.29" cy="30.84" r="1.0"/><circle cx="325.83" cy="20.83" r="1.0"/><circle cx="318.87" cy="33.95" r="1.0"/><circle cx="318.43" cy="27.69" r="1.0"/><circle cx="325.97" cy="32.29" r="1.0"/><circle cx="324.29" cy="27.35" r="1.0"/><circle cx="317.53" cy="29.25" r="1.0"/><circle cx="323.14" cy="22.3" r="1.0"/><circle cx="317.9" cy="21.95" r="1.0"/><circle cx="326.73" cy="21.62" r="1.0"/><circle cx="318.71" cy="31.27" r="1.0"/><circle cx="325.37" cy="24.96" r="1.0"/><circle cx="318.85" cy="27.2" r="1.0"/><circle cx="324.46" cy="21.78" r="1.0"/><circle cx="322.95" cy="36.93" r="1.0"/><circle cx="319.89" cy="29.86" r="1.0"/><circle cx="317.89" cy="22.04" r="1.0"/><circle cx="317.74" cy="25.87" r="1.0"/><circle cx="323.55" cy="25.54" r="1.0"/><circle cx="324.77" cy="34.4" r="1.0"/><circle cx="327.57" cy="29.15" r="1.0"/><circle cx="325.14" cy="28.69" r="1.0"/><circle cx="318.25" cy="31.08" r="1.0"/><circle cx="321.06" cy="20.03" r="1.0"/><circle cx="326.78" cy="31.13" r="1.0"/><circle cx="326.75" cy="25.64" r="1.0"/><circle cx="326.28" cy="21.66" r="1.0"/><circle cx="316.01" cy="24.31" r="1.0"/><circle cx="324.46" cy="26.83" r="1.0"/><circle cx="317.6" cy="27.73" r="1.0"/><circle cx="320.65" cy="26.15" r="1.0"/><circle cx="320.3" cy="27.54" r="1.0"/><circle cx="323.73" cy="27.46" r="1.0"/><circle cx="316.17" cy="22.5" r="1.0"/><circle cx="319.15" cy="35.58" r="1.0"/><circle cx="316.35" cy="23.17" r="1.0"/><circle cx="318.41" cy="34.19" r="1.0"/><circle cx="323.96" cy="21.95" r="1.0"/><circle cx="316.78" cy="25.85" r="1.0"/><circle cx="321.12" cy="31.95" r="1.0"/><circle cx="322.7" cy="30.54" r="1.0"/><circle cx="326.02" cy="24.04" r="1.0"/><circle cx="326.93" cy="25.98" r="1.0"/><circle cx="327.73" cy="31.69" r="1.0"/><circle cx="325.52" cy="25.44" r="1.0"/><circle cx="316.08" cy="29.83" r="1.0"/><circle cx="320.6" cy="23.84" r="1.0"/><circle cx="323.82" cy="24.59" r="1.0"/><circle cx="323.21" cy="30.26" r="1.0"/><circle cx="325.76" cy="32.06" r="1.0"/><circle cx="325.09" cy="38.96" r="1.0"/><circle cx="318.41" cy="26.73" r="1.0"/><circle cx="327.75" cy="28.13" r="1.0"/><circle cx="327.6" cy="27.75" r="1.0"/><circle cx="316.39" cy="31.53" r="1.0"/><circle cx="327.36" cy="29.38" r="1.0"/><circle cx="320.7" cy="28.5" r="1.0"/><circle cx="317.42" cy="36.49" r="1.0"/><circle cx="321.09" cy="23.44" r="1.0"/><circle cx="325.51" cy="21.84" r="1.0"/><circle cx="324.52" cy="24" r="1.0"/><circle cx="317.78" cy="27.35" r="1.0"/><circle cx="316.87" cy="30.69" r="1.0"/><circle cx="322.98" cy="39.21" r="1.0"/><circle cx="319.01" cy="23.02" r="1.0"/><circle cx="317.41" cy="23.02" r="1.0"/><circle cx="325.51" cy="23.82" r="1.0"/><circle cx="326.03" cy="26.68" r="1.0"/><circle cx="317.6" cy="25.32" r="1.0"/><circle cx="323.52" cy="30.9" r="1.0"/><circle cx="324.15" cy="23.06" r="1.0"/><circle cx="317.15" cy="36.29" r="1.0"/><circle cx="316.17" cy="38.69" r="1.0"/><circle cx="324.27" cy="32" r="1.0"/><circle cx="317.46" cy="27.89" r="1.0"/><circle cx="324.51" cy="23.31" r="1.0"/><circle cx="324.64" cy="22.99" r="1.0"/><circle cx="317.79" cy="31.5" r="1.0"/><circle cx="327.61" cy="23.81" r="1.0"/><circle cx="316.69" cy="29.99" r="1.0"/><circle cx="319.72" cy="28.54" r="1.0"/><circle cx="320.1" cy="39.45" r="1.0"/><circle cx="324.3" cy="26.92" r="1.0"/><circle cx="325.19" cy="29.6" r="1.0"/><circle cx="317.3" cy="26.18" r="1.0"/><circle cx="327.22" cy="26.88" r="1.0"/><circle cx="326.02" cy="30.27" r="1.0"/><circle cx="325.01" cy="32.23" r="1.0"/><circle cx="325.38" cy="24.96" r="1.0"/><circle cx="326.39" cy="25.56" r="1.0"/><circle cx="316.85" cy="31.24" r="1.0"/><circle cx="316.7" cy="28.55" r="1.0"/><circle cx="319.89" cy="33" r="1.0"/><circle cx="326.73" cy="40.3" r="1.0"/><circle cx="318.17" cy="28.43" r="1.0"/><circle cx="326.69" cy="27.15" r="1.0"/><circle cx="324.1" cy="32.33" r="1.0"/><circle cx="319.84" cy="39.34" r="1.0"/><circle cx="325.87" cy="32.85" r="1.0"/><circle cx="323.17" cy="23.6" r="1.0"/><circle cx="322.97" cy="23.44" r="1.0"/><circle cx="327.15" cy="25.83" r="1.0"/><circle cx="320.65" cy="21.38" r="1.0"/><circle cx="318.5" cy="31.61" r="1.0"/><circle cx="316.7" cy="36.72" r="1.0"/><circle cx="318.98" cy="33.73" r="1.0"/><circle cx="325.95" cy="28.43" r="1.0"/><circle cx="317.13" cy="26.06" r="1.0"/><circle cx="318.79" cy="31.13" r="1.0"/><circle cx="325.57" cy="31.23" r="1.0"/><circle cx="326.15" cy="24.5" r="1.0"/><circle cx="415.17" cy="140.26" r="1.0"/><circle cx="414.1" cy="142.3" r="1.0"/><circle cx="420.99" cy="142.54" r="1.0"/><circle cx="415.22" cy="141.72" r="1.0"/><circle cx="424.84" cy="143.51" r="1.0"/><circle cx="414.69" cy="141.04" r="1.0"/><circle cx="418.61" cy="142.88" r="1.0"/><circle cx="416.03" cy="145.58" r="1.0"/><circle cx="416.67" cy="141.56" r="1.0"/><circle cx="417.78" cy="141.97" r="1.0"/><circle cx="417.71" cy="146.71" r="1.0"/><circle cx="422.73" cy="143.28" r="1.0"/><circle cx="416.77" cy="140.35" r="1.0"/><circle cx="415.84" cy="141.69" r="1.0"/><circle cx="424.53" cy="140.04" r="1.0"/><circle cx="424.89" cy="142.18" r="1.0"/><circle cx="424.99" cy="144.46" r="1.0"/><circle cx="417.22" cy="143.78" r="1.0"/><circle cx="423.87" cy="141.79" r="1.0"/><circle cx="416.31" cy="144.29" r="1.0"/><circle cx="414.95" cy="142.3" r="1.0"/><circle cx="425.4" cy="141.28" r="1.0"/><circle cx="422.42" cy="143.15" r="1.0"/><circle cx="423.37" cy="140.42" r="1.0"/><circle cx="416.1" cy="143.45" r="1.0"/><circle cx="422.1" cy="141.36" r="1.0"/><circle cx="423.58" cy="142.97" r="1.0"/><circle cx="425.15" cy="141.84" r="1.0"/><circle cx="423.36" cy="143.47" r="1.0"/><circle cx="420.68" cy="141.79" r="1.0"/><circle cx="414.99" cy="144.02" r="1.0"/><circle cx="414.13" cy="142.88" r="1.0"/><circle cx="414.83" cy="142.71" r="1.0"/><circle cx="423.47" cy="142.8" r="1.0"/><circle cx="418.15" cy="143.51" r="1.0"/><circle cx="417.26" cy="144.78" r="1.0"/><circle cx="418.29" cy="144.1" r="1.0"/><circle cx="414.88" cy="142.32" r="1.0"/><circle cx="423.1" cy="141.05" r="1.0"/><circle cx="414.62" cy="145.29" r="1.0"/><circle cx="416.06" cy="143.41" r="1.0"/><circle cx="425.39" cy="142.32" r="1.0"/><circle cx="424.08" cy="143.8" r="1.0"/><circle cx="421.21" cy="139.09" r="1.0"/><circle cx="418.77" cy="141.85" r="1.0"/><circle cx="416.36" cy="143" r="1.0"/><circle cx="416.47" cy="141.11" r="1.0"/><circle cx="415.82" cy="141.39" r="1.0"/><circle cx="420.85" cy="141.51" r="1.0"/><circle cx="418.21" cy="141.91" r="1.0"/><circle cx="424.82" cy="142.28" r="1.0"/><circle cx="422.57" cy="143.11" r="1.0"/><circle cx="415.76" cy="143.11" r="1.0"/><circle cx="422.25" cy="142.69" r="1.0"/><circle cx="422.7" cy="141.32" r="1.0"/><circle cx="416.09" cy="144.2" r="1.0"/><circle cx="422.79" cy="142.7" r="1.0"/><circle cx="424.89" cy="142.9" r="1.0"/><circle cx="416.26" cy="141.27" r="1.0"/><circle cx="424.4" cy="142.81" r="1.0"/><circle cx="343.67" cy="87.5" r="1.0"/><circle cx="341.29" cy="87.89" r="1.0"/><circle cx="343.99" cy="87.69" r="1.0"/><circle cx="340.78" cy="87.41" r="1.0"/><circle cx="339.81" cy="87.53" r="1.0"/><circle cx="334.58" cy="87.15" r="1.0"/><circle cx="340.94" cy="86.82" r="1.0"/><circle cx="334.31" cy="87" r="1.0"/><circle cx="343.69" cy="87.94" r="1.0"/><circle cx="334.81" cy="87.54" r="1.0"/><circle cx="343.7" cy="87.37" r="1.0"/><circle cx="333.31" cy="87.77" r="1.0"/><circle cx="342.81" cy="86.78" r="1.0"/><circle cx="342.28" cy="87.3" r="1.0"/><circle cx="333.38" cy="87.1" r="1.0"/><circle cx="341.75" cy="87.4" r="1.0"/><circle cx="336.31" cy="87.56" r="1.0"/><circle cx="341.9" cy="86.96" r="1.0"/><circle cx="333.83" cy="88.06" r="1.0"/><circle cx="343.4" cy="87.34" r="1.0"/><circle cx="341.81" cy="86.82" r="1.0"/><circle cx="341.8" cy="86.73" r="1.0"/><circle cx="342.4" cy="87.91" r="1.0"/><circle cx="334.79" cy="86.98" r="1.0"/><circle cx="334.1" cy="88.24" r="1.0"/><circle cx="334.51" cy="87.37" r="1.0"/><circle cx="334.25" cy="87.27" r="1.0"/><circle cx="342.03" cy="87.44" r="1.0"/><circle cx="342.42" cy="87.65" r="1.0"/><circle cx="336.87" cy="86.98" r="1.0"/><circle cx="433.36" cy="87.52" r="1.0"/><circle cx="435.11" cy="87.88" r="1.0"/><circle cx="433" cy="87.57" r="1.0"/><circle cx="439.74" cy="87.57" r="1.0"/><circle cx="432.84" cy="88.52" r="1.0"/><circle cx="431.33" cy="87.05" r="1.0"/><circle cx="433.21" cy="88.21" r="1.0"/><circle cx="434.68" cy="87.44" r="1.0"/><circle cx="438.23" cy="87.38" r="1.0"/><circle cx="441.73" cy="88.34" r="1.0"/><circle cx="435.08" cy="87.83" r="1.0"/><circle cx="432.25" cy="87.63" r="1.0"/><circle cx="438.21" cy="87.44" r="1.0"/><circle cx="441.08" cy="86.69" r="1.0"/><circle cx="431.82" cy="87.46" r="1.0"/><circle cx="433.8" cy="88.07" r="1.0"/><circle cx="432.99" cy="88.32" r="1.0"/><circle cx="441.98" cy="87.12" r="1.0"/><circle cx="431.61" cy="87.14" r="1.0"/><circle cx="434.63" cy="87.68" r="1.0"/><circle cx="431.37" cy="87.81" r="1.0"/><circle cx="439.56" cy="87.52" r="1.0"/><circle cx="434.92" cy="87.39" r="1.0"/><circle cx="440.17" cy="87.58" r="1.0"/><circle cx="434.66" cy="87.56" r="1.0"/><circle cx="437.84" cy="86.98" r="1.0"/><circle cx="433.55" cy="86.98" r="1.0"/><circle cx="432.5" cy="87.16" r="1.0"/><circle cx="432.51" cy="86.82" r="1.0"/><circle cx="438.28" cy="87.68" r="1.0"/></g>
<line x1="271.4" y1="24.69" x2="271.4" y2="31.96" stroke="#000" stroke-width="1.3"/>
<line x1="288.22" y1="24.69" x2="288.22" y2="31.96" stroke="#000" stroke-width="1.3"/>
<line x1="305.04" y1="24.69" x2="305.04" y2="31.96" stroke="#000" stroke-width="1.3"/>
<line x1="321.86" y1="24.69" x2="321.86" y2="31.96" stroke="#000" stroke-width="1.3"/>
<rect x="365.1" y="39.7" width="8" height="12.8" fill="#6a6a6a"/>
<rect x="365.1" y="39.7" width="8" height="12.8" fill="url(#ho)" stroke="#000" stroke-width="0.8"/>
<rect x="365.1" y="64.2" width="8" height="12.8" fill="none" stroke="#000" stroke-width="0.8"/>
<text x="375.3" y="49.4" font-size="5.9" text-anchor="start" style="font-family:'Liberation Serif'" letter-spacing="0" fill="#000">ASW Batch</text>
<text x="375.3" y="73.5" font-size="5.9" text-anchor="start" style="font-family:'Liberation Serif'" letter-spacing="0" fill="#000">ASW Label</text>
<rect x="254.1" y="14.4" width="199.6" height="136.8" fill="none" stroke="#000" stroke-width="0.8"/>
<line x1="251.7" y1="150.53" x2="254.1" y2="150.53" stroke="#000" stroke-width="0.6"/>
<text x="249.5" y="153.12" font-size="6.5" text-anchor="end" letter-spacing="0" fill="#000">−0.2</text>
<line x1="251.7" y1="125.9" x2="254.1" y2="125.9" stroke="#000" stroke-width="0.6"/>
<text x="249.5" y="128.5" font-size="6.5" text-anchor="end" letter-spacing="0" fill="#000">0.0</text>
<line x1="251.7" y1="101.28" x2="254.1" y2="101.28" stroke="#000" stroke-width="0.6"/>
<text x="249.5" y="103.88" font-size="6.5" text-anchor="end" letter-spacing="0" fill="#000">0.2</text>
<line x1="251.7" y1="76.65" x2="254.1" y2="76.65" stroke="#000" stroke-width="0.6"/>
<text x="249.5" y="79.25" font-size="6.5" text-anchor="end" letter-spacing="0" fill="#000">0.4</text>
<line x1="251.7" y1="52.03" x2="254.1" y2="52.03" stroke="#000" stroke-width="0.6"/>
<text x="249.5" y="54.63" font-size="6.5" text-anchor="end" letter-spacing="0" fill="#000">0.6</text>
<line x1="251.7" y1="27.4" x2="254.1" y2="27.4" stroke="#000" stroke-width="0.6"/>
<text x="249.5" y="30" font-size="6.5" text-anchor="end" letter-spacing="0" fill="#000">0.8</text>
<line x1="271.4" y1="151.2" x2="271.4" y2="153.6" stroke="#000" stroke-width="0.6"/>
<line x1="288.22" y1="151.2" x2="288.22" y2="153.6" stroke="#000" stroke-width="0.6"/>
<line x1="305.04" y1="151.2" x2="305.04" y2="153.6" stroke="#000" stroke-width="0.6"/>
<line x1="321.86" y1="151.2" x2="321.86" y2="153.6" stroke="#000" stroke-width="0.6"/>
<line x1="338.68" y1="151.2" x2="338.68" y2="153.6" stroke="#000" stroke-width="0.6"/>
<line x1="369.2" y1="151.2" x2="369.2" y2="153.6" stroke="#000" stroke-width="0.6"/>
<line x1="386.05" y1="151.2" x2="386.05" y2="153.6" stroke="#000" stroke-width="0.6"/>
<line x1="402.9" y1="151.2" x2="402.9" y2="153.6" stroke="#000" stroke-width="0.6"/>
<line x1="419.75" y1="151.2" x2="419.75" y2="153.6" stroke="#000" stroke-width="0.6"/>
<line x1="436.6" y1="151.2" x2="436.6" y2="153.6" stroke="#000" stroke-width="0.6"/>
<text transform="translate(271.4 161.41) rotate(-45)" x="0" y="2.34" font-size="6.5" letter-spacing="0" text-anchor="middle">B+L</text>
<text transform="translate(288.22 161.79) rotate(-45)" x="0" y="2.34" font-size="6.5" letter-spacing="0" text-anchor="middle">B+C</text>
<text transform="translate(305.04 161.53) rotate(-45)" x="0" y="2.34" font-size="6.5" letter-spacing="0" text-anchor="middle">H+L</text>
<text transform="translate(321.86 161.92) rotate(-45)" x="0" y="2.34" font-size="6.5" letter-spacing="0" text-anchor="middle">H+C</text>
<text transform="translate(338.68 160.96) rotate(-45)" x="0" y="2.34" font-size="6.5" letter-spacing="0" text-anchor="middle">raw</text>
<text transform="translate(369.2 161.41) rotate(-45)" x="0" y="2.34" font-size="6.5" letter-spacing="0" text-anchor="middle">B+L</text>
<text transform="translate(386.05 161.79) rotate(-45)" x="0" y="2.34" font-size="6.5" letter-spacing="0" text-anchor="middle">B+C</text>
<text transform="translate(402.9 161.53) rotate(-45)" x="0" y="2.34" font-size="6.5" letter-spacing="0" text-anchor="middle">H+L</text>
<text transform="translate(419.75 161.92) rotate(-45)" x="0" y="2.34" font-size="6.5" letter-spacing="0" text-anchor="middle">H+C</text>
<text transform="translate(436.6 160.96) rotate(-45)" x="0" y="2.34" font-size="6.5" letter-spacing="0" text-anchor="middle">raw</text>
<text x="254.7" y="10.9" font-size="11.9" text-anchor="start" fill="#000" letter-spacing="0.4">B.1</text>
<text x="353.9" y="4.6" font-size="6.75" text-anchor="middle" letter-spacing="0" fill="#000">ASW of BERT(B)/HarmonizR(H)</text>
<text x="353.9" y="10.8" font-size="6.75" text-anchor="middle" letter-spacing="0" fill="#000">with ComBat (C) and Limma (L)</text>
<text x="353.9" y="176.6" font-size="6.75" text-anchor="middle" letter-spacing="0" fill="#000">Data Integration Method</text>
<text x="233.2" y="82.8" font-size="6.75" text-anchor="middle" transform="rotate(-90 233.2 82.8)" letter-spacing="0" fill="#000">ASW</text>
<polyline points="491.52,144.83 497.44,144.18 503.36,143.54 509.28,142.9 515.2,142.26 521.12,141.62 527.04,140.97 532.96,140.33 538.88,139.69 544.8,139.05 550.72,138.41 556.64,137.76 562.56,137.12 568.48,136.48 574.4,135.84 580.32,135.2 586.24,134.55 592.16,133.91 598.08,133.27 604,132.63 639.52,128.78 675.04,124.92" fill="none" stroke="#1f77b4" stroke-width="1.1" clip-path="url(#c3)" stroke-linejoin="round" stroke-linecap="butt"/>
<polyline points="491.52,144.71 497.44,143.95 503.36,143.19 509.28,142.43 515.2,141.67 521.12,140.91 527.04,140.15 532.96,139.39 538.88,138.63 544.8,137.87 550.72,137.11 556.64,136.35 562.56,135.59 568.48,134.83 574.4,134.07 580.32,133.31 586.24,132.55 592.16,131.79 598.08,131.03 604,130.27 639.52,125.72 675.04,121.16" fill="none" stroke="#ff7f0e" stroke-width="1.1" clip-path="url(#c3)" stroke-linejoin="round" stroke-linecap="butt"/>
<polyline points="491.52,144.66 497.44,143.86 503.36,142.79 509.28,139.31 515.2,135.57 521.12,127.01 527.04,115.24 532.96,101.33 538.88,86.35 544.8,70.83 550.72,56.39 556.64,45.69 562.56,37.67 568.48,32.85 574.4,29.64 580.32,29.11 586.24,28.57 592.16,28.04 598.08,28.57 604,28.57 639.52,30.18 675.04,23.43" fill="none" stroke="#d62728" stroke-width="1.1" clip-path="url(#c3)" stroke-linejoin="round" stroke-linecap="butt"/>
<polyline points="491.52,144.66 497.44,144.13 503.36,143.33 509.28,140.92 515.2,136.64 521.12,130.43 527.04,121.77 532.96,109.62 538.88,96.73 544.8,82.6 550.72,68.43 556.64,58 562.56,49.97 568.48,43.82 574.4,39.81 580.32,38.73 586.24,36.81 592.16,35.85 598.08,35.53 604,34.72 639.52,32.1 675.04,23.43" fill="none" stroke="#2ca02c" stroke-width="1.1" clip-path="url(#c3)" stroke-linejoin="round" stroke-linecap="butt"/>
<path d="M509.28,139.84V138.79M507.58,139.84H510.98M507.58,138.79H510.98M515.2,136.44V134.7M513.5,136.44H516.9M513.5,134.7H516.9M521.12,128.65V125.37M519.42,128.65H522.82M519.42,125.37H522.82M527.04,117.65V112.83M525.34,117.65H528.74M525.34,112.83H528.74M532.96,103.74V98.92M531.26,103.74H534.66M531.26,98.92H534.66M538.88,88.76V83.94M537.18,88.76H540.58M537.18,83.94H540.58M544.8,73.24V68.43M543.1,73.24H546.5M543.1,68.43H546.5M550.72,58.8V53.98M549.02,58.8H552.42M549.02,53.98H552.42M556.64,48.1V43.28M554.94,48.1H558.34M554.94,43.28H558.34M562.56,40.07V35.26M560.86,40.07H564.26M560.86,35.26H564.26M568.48,35.26V30.44M566.78,35.26H570.18M566.78,30.44H570.18M574.4,32.05V27.23M572.7,32.05H576.1M572.7,27.23H576.1M580.32,31.51V26.7M578.62,31.51H582.02M578.62,26.7H582.02M586.24,30.98V26.16M584.54,30.98H587.94M584.54,26.16H587.94M592.16,30.44V25.63M590.46,30.44H593.86M590.46,25.63H593.86M598.08,30.98V26.16M596.38,30.98H599.78M596.38,26.16H599.78M604,30.98V26.16M602.3,30.98H605.7M602.3,26.16H605.7M639.52,32.58V27.77M637.82,32.58H641.22M637.82,27.77H641.22M675.04,25.84V21.03M673.34,25.84H676.74M673.34,21.03H676.74" stroke="#000" stroke-width="0.8" fill="none"/>
<path d="M515.2,137.41V135.87M513.5,137.41H516.9M513.5,135.87H516.9M521.12,131.76V129.11M519.42,131.76H522.82M519.42,129.11H522.82M527.04,123.88V119.66M525.34,123.88H528.74M525.34,119.66H528.74M532.96,112.03V107.22M531.26,112.03H534.66M531.26,107.22H534.66M538.88,99.14V94.32M537.18,99.14H540.58M537.18,94.32H540.58M544.8,85.01V80.2M543.1,85.01H546.5M543.1,80.2H546.5M550.72,70.83V66.02M549.02,70.83H552.42M549.02,66.02H552.42M556.64,60.4V55.59M554.94,60.4H558.34M554.94,55.59H558.34M562.56,52.38V47.56M560.86,52.38H564.26M560.86,47.56H564.26M568.48,46.23V41.41M566.78,46.23H570.18M566.78,41.41H570.18M574.4,42.21V37.4M572.7,42.21H576.1M572.7,37.4H576.1M580.32,41.14V36.33M578.62,41.14H582.02M578.62,36.33H582.02M586.24,39.22V34.4M584.54,39.22H587.94M584.54,34.4H587.94M592.16,38.25V33.44M590.46,38.25H593.86M590.46,33.44H593.86M598.08,37.93V33.12M596.38,37.93H599.78M596.38,33.12H599.78M604,37.13V32.32M602.3,37.13H605.7M602.3,32.32H605.7M639.52,34.51V29.69M637.82,34.51H641.22M637.82,29.69H641.22M675.04,25.84V21.03M673.34,25.84H676.74M673.34,21.03H676.74" stroke="#000" stroke-width="0.8" fill="none"/>
<path d="M491.52,145.04V144.61M490.32,145.04H492.72M490.32,144.61H492.72M497.44,144.4V143.97M496.24,144.4H498.64M496.24,143.97H498.64M503.36,143.76V143.33M502.16,143.76H504.56M502.16,143.33H504.56M509.28,143.11V142.69M508.08,143.11H510.48M508.08,142.69H510.48M515.2,142.47V142.04M514,142.47H516.4M514,142.04H516.4M521.12,141.83V141.4M519.92,141.83H522.32M519.92,141.4H522.32M527.04,141.19V140.76M525.84,141.19H528.24M525.84,140.76H528.24M532.96,140.55V140.12M531.76,140.55H534.16M531.76,140.12H534.16M538.88,139.9V139.48M537.68,139.9H540.08M537.68,139.48H540.08M544.8,139.26V138.83M543.6,139.26H546M543.6,138.83H546M550.72,138.62V138.19M549.52,138.62H551.92M549.52,138.19H551.92M556.64,137.98V137.55M555.44,137.98H557.84M555.44,137.55H557.84M562.56,137.34V136.91M561.36,137.34H563.76M561.36,136.91H563.76M568.48,136.69V136.27M567.28,136.69H569.68M567.28,136.27H569.68M574.4,136.05V135.62M573.2,136.05H575.6M573.2,135.62H575.6M580.32,135.41V134.98M579.12,135.41H581.52M579.12,134.98H581.52M586.24,134.77V134.34M585.04,134.77H587.44M585.04,134.34H587.44M592.16,134.13V133.7M590.96,134.13H593.36M590.96,133.7H593.36M598.08,133.48V133.06M596.88,133.48H599.28M596.88,133.06H599.28M604,132.84V132.41M602.8,132.84H605.2M602.8,132.41H605.2M639.52,128.99V128.56M638.32,128.99H640.72M638.32,128.56H640.72M675.04,125.14V124.71M673.84,125.14H676.24M673.84,124.71H676.24" stroke="#666" stroke-width="0.6" fill="none"/>
<path d="M491.52,144.92V144.49M490.32,144.92H492.72M490.32,144.49H492.72M497.44,144.16V143.73M496.24,144.16H498.64M496.24,143.73H498.64M503.36,143.4V142.97M502.16,143.4H504.56M502.16,142.97H504.56M509.28,142.64V142.21M508.08,142.64H510.48M508.08,142.21H510.48M515.2,141.88V141.45M514,141.88H516.4M514,141.45H516.4M521.12,141.12V140.7M519.92,141.12H522.32M519.92,140.7H522.32M527.04,140.36V139.94M525.84,140.36H528.24M525.84,139.94H528.24M532.96,139.6V139.18M531.76,139.6H534.16M531.76,139.18H534.16M538.88,138.84V138.42M537.68,138.84H540.08M537.68,138.42H540.08M544.8,138.08V137.66M543.6,138.08H546M543.6,137.66H546M550.72,137.32V136.9M549.52,137.32H551.92M549.52,136.9H551.92M556.64,136.57V136.14M555.44,136.57H557.84M555.44,136.14H557.84M562.56,135.81V135.38M561.36,135.81H563.76M561.36,135.38H563.76M568.48,135.05V134.62M567.28,135.05H569.68M567.28,134.62H569.68M574.4,134.29V133.86M573.2,134.29H575.6M573.2,133.86H575.6M580.32,133.53V133.1M579.12,133.53H581.52M579.12,133.1H581.52M586.24,132.77V132.34M585.04,132.77H587.44M585.04,132.34H587.44M592.16,132.01V131.58M590.96,132.01H593.36M590.96,131.58H593.36M598.08,131.25V130.82M596.88,131.25H599.28M596.88,130.82H599.28M604,130.49V130.06M602.8,130.49H605.2M602.8,130.06H605.2M639.52,125.93V125.5M638.32,125.93H640.72M638.32,125.5H640.72M675.04,121.37V120.94M673.84,121.37H676.24M673.84,120.94H676.24" stroke="#666" stroke-width="0.6" fill="none"/>
<rect x="482.8" y="14.4" width="201.2" height="136.8" fill="none" stroke="#000" stroke-width="0.8"/>
<line x1="485.6" y1="151.2" x2="485.6" y2="153.6" stroke="#000" stroke-width="0.6"/>
<text x="485.6" y="160.4" font-size="6.5" text-anchor="middle" letter-spacing="0" fill="#000">0</text>
<line x1="515.2" y1="151.2" x2="515.2" y2="153.6" stroke="#000" stroke-width="0.6"/>
<text x="515.2" y="160.4" font-size="6.5" text-anchor="middle" letter-spacing="0" fill="#000">10</text>
<line x1="544.8" y1="151.2" x2="544.8" y2="153.6" stroke="#000" stroke-width="0.6"/>
<text x="544.8" y="160.4" font-size="6.5" text-anchor="middle" letter-spacing="0" fill="#000">20</text>
<line x1="574.4" y1="151.2" x2="574.4" y2="153.6" stroke="#000" stroke-width="0.6"/>
<text x="574.4" y="160.4" font-size="6.5" text-anchor="middle" letter-spacing="0" fill="#000">30</text>
<line x1="604" y1="151.2" x2="604" y2="153.6" stroke="#000" stroke-width="0.6"/>
<text x="604" y="160.4" font-size="6.5" text-anchor="middle" letter-spacing="0" fill="#000">40</text>
<line x1="633.6" y1="151.2" x2="633.6" y2="153.6" stroke="#000" stroke-width="0.6"/>
<text x="633.6" y="160.4" font-size="6.5" text-anchor="middle" letter-spacing="0" fill="#000">50</text>
<line x1="663.2" y1="151.2" x2="663.2" y2="153.6" stroke="#000" stroke-width="0.6"/>
<text x="663.2" y="160.4" font-size="6.5" text-anchor="middle" letter-spacing="0" fill="#000">60</text>
<line x1="480.4" y1="145.2" x2="482.8" y2="145.2" stroke="#000" stroke-width="0.6"/>
<text x="478.2" y="147.8" font-size="6.5" text-anchor="end" letter-spacing="0" fill="#000">0</text>
<line x1="480.4" y1="118.45" x2="482.8" y2="118.45" stroke="#000" stroke-width="0.6"/>
<text x="478.2" y="121.05" font-size="6.5" text-anchor="end" letter-spacing="0" fill="#000">50</text>
<line x1="480.4" y1="91.7" x2="482.8" y2="91.7" stroke="#000" stroke-width="0.6"/>
<text x="478.2" y="94.3" font-size="6.5" text-anchor="end" letter-spacing="0" fill="#000">100</text>
<line x1="480.4" y1="64.95" x2="482.8" y2="64.95" stroke="#000" stroke-width="0.6"/>
<text x="478.2" y="67.55" font-size="6.5" text-anchor="end" letter-spacing="0" fill="#000">150</text>
<line x1="480.4" y1="38.2" x2="482.8" y2="38.2" stroke="#000" stroke-width="0.6"/>
<text x="478.2" y="40.8" font-size="6.5" text-anchor="end" letter-spacing="0" fill="#000">200</text>
<text x="483.4" y="10.9" font-size="11.9" text-anchor="start" fill="#000" letter-spacing="0.4">C.1</text>
<text x="583.4" y="4.6" font-size="6.75" text-anchor="middle" letter-spacing="0" fill="#000">Dependency of BERT/HarmonizR</text>
<text x="583.4" y="10.8" font-size="6.75" text-anchor="middle" letter-spacing="0" fill="#000">Runtime on Number of Batches</text>
<text x="583.4" y="168.1" font-size="6.75" text-anchor="middle" letter-spacing="0" fill="#000">Number <tspan font-style="italic">N</tspan> of Batches</text>
<text x="463.9" y="82.8" font-size="6.75" text-anchor="middle" transform="rotate(-90 463.9 82.8)" letter-spacing="0" fill="#000">Runtime in seconds</text>
<polyline points="34.4,331.51 43.93,320.29 53.45,320.66 62.98,320.66 72.51,320.66 82.03,320.66 91.56,321.03 101.08,320.84 110.61,321.03 120.14,321.03 129.66,321.03 139.19,321.4 148.72,321.77 158.24,322.53 167.77,322.53 177.29,322.92 186.82,323.7 196.35,324.9 205.87,325.72 215.4,326.56" fill="none" stroke="#1f77b4" stroke-width="1.3" clip-path="url(#c4)" stroke-linejoin="round" stroke-linecap="butt"/>
<polyline points="34.4,319.22 43.93,311.81 53.45,311.81 62.98,312.1 72.51,312.7 82.03,313.31 91.56,313.31 101.08,313.61 110.61,313.61 120.14,313.92 129.66,314.23 139.19,314.23 148.72,314.23 158.24,315.51 167.77,316.16 177.29,317.15 186.82,317.49 196.35,318.17 205.87,318.52 215.4,318.87" fill="none" stroke="#ff7f0e" stroke-width="1.3" clip-path="url(#c4)" stroke-linejoin="round" stroke-linecap="butt"/>
<polyline points="34.4,302.62 43.93,302.15 53.45,302.38 62.98,302.62 72.51,302.85 82.03,302.85 91.56,303.09 101.08,303.09 110.61,303.09 120.14,303.33 129.66,303.33 139.19,303.33 148.72,303.09 158.24,303.33 167.77,303.57 177.29,303.57 186.82,303.81 196.35,303.81 205.87,304.05 215.4,304.3" fill="none" stroke="#2ca02c" stroke-width="1.1" stroke-dasharray="2.6,3.4,1,3.4" clip-path="url(#c4)" stroke-linejoin="round" stroke-linecap="butt"/>
<polyline points="34.4,300.33 43.93,300.56 53.45,301.01 62.98,301.23 72.51,301.46 82.03,301.46 91.56,301.69 101.08,301.69 110.61,301.92 120.14,301.92 129.66,301.92 139.19,302.15 148.72,301.92 158.24,302.15 167.77,302.38 177.29,302.62 186.82,302.62 196.35,302.85 205.87,303.09 215.4,303.33" fill="none" stroke="#d62728" stroke-width="1.1" stroke-dasharray="2.6,3.4,1,3.4" clip-path="url(#c4)" stroke-linejoin="round" stroke-linecap="butt"/>
<polyline points="34.4,303.33 43.93,296.72 53.45,291.94 62.98,286.85 72.51,282.33 82.03,278.91 91.56,276.37 101.08,273.98 110.61,272.83 120.14,271.72 129.66,271.17 139.19,270.85 148.72,271.17 158.24,271.72 167.77,273.98 177.29,276.37 186.82,278.26 196.35,280.24 205.87,282.33 215.4,284.08" fill="none" stroke="#2ca02c" stroke-width="1.1" stroke-dasharray="1.1,1.8" clip-path="url(#c4)" stroke-linejoin="round" stroke-linecap="butt"/>
<polyline points="34.4,301.01 43.93,291.94 53.45,286.06 62.98,280.24 72.51,275.15 82.03,270.63 91.56,266.56 101.08,263.76 110.61,261.99 120.14,260.3 129.66,259.48 139.19,259.07 148.72,259.23 158.24,259.88 167.77,261.99 177.29,264.67 186.82,267.54 196.35,270.63 205.87,272.83 215.4,275.39" fill="none" stroke="#d62728" stroke-width="1.1" stroke-dasharray="1.1,1.8" clip-path="url(#c4)" stroke-linejoin="round" stroke-linecap="butt"/>
<polyline points="34.4,302.38 43.93,286.53 53.45,275.15 62.98,261.14 72.51,249.44 82.03,241.4 91.56,233.39 101.08,227.43 110.61,223.22 120.14,219.71 129.66,217.62 139.19,216.2 148.72,215.64 158.24,215.64 167.77,215.92 177.29,216.2 186.82,216.48 196.35,217.05 205.87,217.62 215.4,218.21" fill="none" stroke="#2ca02c" stroke-width="1.3" clip-path="url(#c4)" stroke-linejoin="round" stroke-linecap="butt"/>
<polyline points="34.4,299.46 43.93,281.9 53.45,269.58 62.98,254.87 72.51,242.46 82.03,233.39 91.56,225.97 101.08,219.71 110.61,215.64 120.14,213.22 129.66,211.69 139.19,210.7 148.72,210.31 158.24,210.45 167.77,210.94 177.29,211.44 186.82,211.94 196.35,212.19 205.87,212.58 215.4,212.96" fill="none" stroke="#d62728" stroke-width="1.3" clip-path="url(#c4)" stroke-linejoin="round" stroke-linecap="butt"/>
<path d="M34.4,301.33V297.67M32.8,301.33H36M32.8,297.67H36M43.93,283.77V280.11M42.33,283.77H45.53M42.33,280.11H45.53M53.45,271.45V267.79M51.85,271.45H55.05M51.85,267.79H55.05M62.98,256.74V253.08M61.38,256.74H64.58M61.38,253.08H64.58M72.51,244.33V240.67M70.91,244.33H74.11M70.91,240.67H74.11M82.03,235.26V231.6M80.43,235.26H83.63M80.43,231.6H83.63M91.56,227.85V224.18M89.96,227.85H93.16M89.96,224.18H93.16M101.08,221.58V217.92M99.48,221.58H102.68M99.48,217.92H102.68M110.61,217.51V213.85M109.01,217.51H112.21M109.01,213.85H112.21M120.14,215.1V211.43M118.54,215.1H121.74M118.54,211.43H121.74M129.66,213.56V209.9M128.06,213.56H131.26M128.06,209.9H131.26M139.19,212.57V208.91M137.59,212.57H140.79M137.59,208.91H140.79M148.72,212.18V208.52M147.12,212.18H150.32M147.12,208.52H150.32M158.24,212.33V208.66M156.64,212.33H159.84M156.64,208.66H159.84M167.77,212.82V209.15M166.17,212.82H169.37M166.17,209.15H169.37M177.29,213.31V209.65M175.69,213.31H178.89M175.69,209.65H178.89M186.82,213.81V210.15M185.22,213.81H188.42M185.22,210.15H188.42M196.35,214.07V210.41M194.75,214.07H197.95M194.75,210.41H197.95M205.87,214.45V210.79M204.27,214.45H207.47M204.27,210.79H207.47M215.4,214.84V211.17M213.8,214.84H217M213.8,211.17H217" stroke="#000" stroke-width="0.8" fill="none"/>
<path d="M34.4,304.26V300.6M32.8,304.26H36M32.8,300.6H36M43.93,288.4V284.74M42.33,288.4H45.53M42.33,284.74H45.53M53.45,277.03V273.36M51.85,277.03H55.05M51.85,273.36H55.05M62.98,263.01V259.35M61.38,263.01H64.58M61.38,259.35H64.58M72.51,251.31V247.65M70.91,251.31H74.11M70.91,247.65H74.11M82.03,243.27V239.61M80.43,243.27H83.63M80.43,239.61H83.63M91.56,235.26V231.6M89.96,235.26H93.16M89.96,231.6H93.16M101.08,229.3V225.64M99.48,229.3H102.68M99.48,225.64H102.68M110.61,225.09V221.43M109.01,225.09H112.21M109.01,221.43H112.21M120.14,221.58V217.92M118.54,221.58H121.74M118.54,217.92H121.74M129.66,219.49V215.83M128.06,219.49H131.26M128.06,215.83H131.26M139.19,218.07V214.41M137.59,218.07H140.79M137.59,214.41H140.79M148.72,217.51V213.85M147.12,217.51H150.32M147.12,213.85H150.32M158.24,217.51V213.85M156.64,217.51H159.84M156.64,213.85H159.84M167.77,217.79V214.13M166.17,217.79H169.37M166.17,214.13H169.37M177.29,218.07V214.41M175.69,218.07H178.89M175.69,214.41H178.89M186.82,218.35V214.69M185.22,218.35H188.42M185.22,214.69H188.42M196.35,218.92V215.26M194.75,218.92H197.95M194.75,215.26H197.95M205.87,219.49V215.83M204.27,219.49H207.47M204.27,215.83H207.47M215.4,220.08V216.42M213.8,220.08H217M213.8,216.42H217" stroke="#000" stroke-width="0.8" fill="none"/>
<path d="M34.4,302.88V299.22M32.8,302.88H36M32.8,299.22H36M43.93,293.81V290.15M42.33,293.81H45.53M42.33,290.15H45.53M53.45,287.93V284.27M51.85,287.93H55.05M51.85,284.27H55.05M62.98,282.11V278.45M61.38,282.11H64.58M61.38,278.45H64.58M72.51,277.03V273.36M70.91,277.03H74.11M70.91,273.36H74.11M82.03,272.5V268.84M80.43,272.5H83.63M80.43,268.84H83.63M91.56,268.44V264.77M89.96,268.44H93.16M89.96,264.77H93.16M101.08,265.63V261.97M99.48,265.63H102.68M99.48,261.97H102.68M110.61,263.86V260.2M109.01,263.86H112.21M109.01,260.2H112.21M120.14,262.17V258.51M118.54,262.17H121.74M118.54,258.51H121.74M129.66,261.35V257.69M128.06,261.35H131.26M128.06,257.69H131.26M139.19,260.94V257.28M137.59,260.94H140.79M137.59,257.28H140.79M148.72,261.1V257.44M147.12,261.1H150.32M147.12,257.44H150.32M158.24,261.76V258.1M156.64,261.76H159.84M156.64,258.1H159.84M167.77,263.86V260.2M166.17,263.86H169.37M166.17,260.2H169.37M177.29,266.54V262.88M175.69,266.54H178.89M175.69,262.88H178.89M186.82,269.42V265.75M185.22,269.42H188.42M185.22,265.75H188.42M196.35,272.5V268.84M194.75,272.5H197.95M194.75,268.84H197.95M205.87,274.7V271.04M204.27,274.7H207.47M204.27,271.04H207.47M215.4,277.27V273.6M213.8,277.27H217M213.8,273.6H217" stroke="#000" stroke-width="0.8" fill="none"/>
<path d="M34.4,305.2V301.54M32.8,305.2H36M32.8,301.54H36M43.93,298.6V294.93M42.33,298.6H45.53M42.33,294.93H45.53M53.45,293.81V290.15M51.85,293.81H55.05M51.85,290.15H55.05M62.98,288.72V285.06M61.38,288.72H64.58M61.38,285.06H64.58M72.51,284.2V280.54M70.91,284.2H74.11M70.91,280.54H74.11M82.03,280.78V277.12M80.43,280.78H83.63M80.43,277.12H83.63M91.56,278.24V274.58M89.96,278.24H93.16M89.96,274.58H93.16M101.08,275.85V272.19M99.48,275.85H102.68M99.48,272.19H102.68M110.61,274.7V271.04M109.01,274.7H112.21M109.01,271.04H112.21M120.14,273.59V269.93M118.54,273.59H121.74M118.54,269.93H121.74M129.66,273.04V269.38M128.06,273.04H131.26M128.06,269.38H131.26M139.19,272.72V269.06M137.59,272.72H140.79M137.59,269.06H140.79M148.72,273.04V269.38M147.12,273.04H150.32M147.12,269.38H150.32M158.24,273.59V269.93M156.64,273.59H159.84M156.64,269.93H159.84M167.77,275.85V272.19M166.17,275.85H169.37M166.17,272.19H169.37M177.29,278.24V274.58M175.69,278.24H178.89M175.69,274.58H178.89M186.82,280.13V276.47M185.22,280.13H188.42M185.22,276.47H188.42M196.35,282.11V278.45M194.75,282.11H197.95M194.75,278.45H197.95M205.87,284.2V280.54M204.27,284.2H207.47M204.27,280.54H207.47M215.4,285.95V282.29M213.8,285.95H217M213.8,282.29H217" stroke="#000" stroke-width="0.8" fill="none"/>
<path d="M34.4,302.21V298.55M32.8,302.21H36M32.8,298.55H36M43.93,302.43V298.77M42.33,302.43H45.53M42.33,298.77H45.53M53.45,302.88V299.22M51.85,302.88H55.05M51.85,299.22H55.05M62.98,303.1V299.44M61.38,303.1H64.58M61.38,299.44H64.58M72.51,303.33V299.67M70.91,303.33H74.11M70.91,299.67H74.11M82.03,303.33V299.67M80.43,303.33H83.63M80.43,299.67H83.63M91.56,303.56V299.9M89.96,303.56H93.16M89.96,299.9H93.16M101.08,303.56V299.9M99.48,303.56H102.68M99.48,299.9H102.68M110.61,303.79V300.13M109.01,303.79H112.21M109.01,300.13H112.21M120.14,303.79V300.13M118.54,303.79H121.74M118.54,300.13H121.74M129.66,303.79V300.13M128.06,303.79H131.26M128.06,300.13H131.26M139.19,304.02V300.36M137.59,304.02H140.79M137.59,300.36H140.79M148.72,303.79V300.13M147.12,303.79H150.32M147.12,300.13H150.32M158.24,304.02V300.36M156.64,304.02H159.84M156.64,300.36H159.84M167.77,304.26V300.6M166.17,304.26H169.37M166.17,300.6H169.37M177.29,304.49V300.83M175.69,304.49H178.89M175.69,300.83H178.89M186.82,304.49V300.83M185.22,304.49H188.42M185.22,300.83H188.42M196.35,304.73V301.07M194.75,304.73H197.95M194.75,301.07H197.95M205.87,304.96V301.3M204.27,304.96H207.47M204.27,301.3H207.47M215.4,305.2V301.54M213.8,305.2H217M213.8,301.54H217" stroke="#000" stroke-width="0.8" fill="none"/>
<path d="M34.4,304.49V300.83M32.8,304.49H36M32.8,300.83H36M43.93,304.02V300.36M42.33,304.02H45.53M42.33,300.36H45.53M53.45,304.26V300.6M51.85,304.26H55.05M51.85,300.6H55.05M62.98,304.49V300.83M61.38,304.49H64.58M61.38,300.83H64.58M72.51,304.73V301.07M70.91,304.73H74.11M70.91,301.07H74.11M82.03,304.73V301.07M80.43,304.73H83.63M80.43,301.07H83.63M91.56,304.96V301.3M89.96,304.96H93.16M89.96,301.3H93.16M101.08,304.96V301.3M99.48,304.96H102.68M99.48,301.3H102.68M110.61,304.96V301.3M109.01,304.96H112.21M109.01,301.3H112.21M120.14,305.2V301.54M118.54,305.2H121.74M118.54,301.54H121.74M129.66,305.2V301.54M128.06,305.2H131.26M128.06,301.54H131.26M139.19,305.2V301.54M137.59,305.2H140.79M137.59,301.54H140.79M148.72,304.96V301.3M147.12,304.96H150.32M147.12,301.3H150.32M158.24,305.2V301.54M156.64,305.2H159.84M156.64,301.54H159.84M167.77,305.44V301.78M166.17,305.44H169.37M166.17,301.78H169.37M177.29,305.44V301.78M175.69,305.44H178.89M175.69,301.78H178.89M186.82,305.68V302.02M185.22,305.68H188.42M185.22,302.02H188.42M196.35,305.68V302.02M194.75,305.68H197.95M194.75,302.02H197.95M205.87,305.93V302.26M204.27,305.93H207.47M204.27,302.26H207.47M215.4,306.17V302.51M213.8,306.17H217M213.8,302.51H217" stroke="#000" stroke-width="0.8" fill="none"/>
<path d="M34.4,321.09V317.43M32.8,321.09H36M32.8,317.43H36M43.93,313.68V310.02M42.33,313.68H45.53M42.33,310.02H45.53M53.45,313.68V310.02M51.85,313.68H55.05M51.85,310.02H55.05M62.98,313.97V310.31M61.38,313.97H64.58M61.38,310.31H64.58M72.51,314.57V310.91M70.91,314.57H74.11M70.91,310.91H74.11M82.03,315.18V311.52M80.43,315.18H83.63M80.43,311.52H83.63M91.56,315.18V311.52M89.96,315.18H93.16M89.96,311.52H93.16M101.08,315.49V311.82M99.48,315.49H102.68M99.48,311.82H102.68M110.61,315.49V311.82M109.01,315.49H112.21M109.01,311.82H112.21M120.14,315.8V312.13M118.54,315.8H121.74M118.54,312.13H121.74M129.66,316.11V312.45M128.06,316.11H131.26M128.06,312.45H131.26M139.19,316.11V312.45M137.59,316.11H140.79M137.59,312.45H140.79M148.72,316.11V312.45M147.12,316.11H150.32M147.12,312.45H150.32M158.24,317.38V313.72M156.64,317.38H159.84M156.64,313.72H159.84M167.77,318.03V314.37M166.17,318.03H169.37M166.17,314.37H169.37M177.29,319.02V315.36M175.69,319.02H178.89M175.69,315.36H178.89M186.82,319.36V315.7M185.22,319.36H188.42M185.22,315.7H188.42M196.35,320.04V316.38M194.75,320.04H197.95M194.75,316.38H197.95M205.87,320.39V316.73M204.27,320.39H207.47M204.27,316.73H207.47M215.4,320.74V317.08M213.8,320.74H217M213.8,317.08H217" stroke="#000" stroke-width="0.8" fill="none"/>
<path d="M34.4,333.38V329.72M32.8,333.38H36M32.8,329.72H36M43.93,322.16V318.5M42.33,322.16H45.53M42.33,318.5H45.53M53.45,322.53V318.87M51.85,322.53H55.05M51.85,318.87H55.05M62.98,322.53V318.87M61.38,322.53H64.58M61.38,318.87H64.58M72.51,322.53V318.87M70.91,322.53H74.11M70.91,318.87H74.11M82.03,322.53V318.87M80.43,322.53H83.63M80.43,318.87H83.63M91.56,322.9V319.24M89.96,322.9H93.16M89.96,319.24H93.16M101.08,322.71V319.05M99.48,322.71H102.68M99.48,319.05H102.68M110.61,322.9V319.24M109.01,322.9H112.21M109.01,319.24H112.21M120.14,322.9V319.24M118.54,322.9H121.74M118.54,319.24H121.74M129.66,322.9V319.24M128.06,322.9H131.26M128.06,319.24H131.26M139.19,323.27V319.61M137.59,323.27H140.79M137.59,319.61H140.79M148.72,323.64V319.98M147.12,323.64H150.32M147.12,319.98H150.32M158.24,324.4V320.74M156.64,324.4H159.84M156.64,320.74H159.84M167.77,324.4V320.74M166.17,324.4H169.37M166.17,320.74H169.37M177.29,324.79V321.13M175.69,324.79H178.89M175.69,321.13H178.89M186.82,325.57V321.91M185.22,325.57H188.42M185.22,321.91H188.42M196.35,326.77V323.11M194.75,326.77H197.95M194.75,323.11H197.95M205.87,327.59V323.93M204.27,327.59H207.47M204.27,323.93H207.47M215.4,328.43V324.77M213.8,328.43H217M213.8,324.77H217" stroke="#000" stroke-width="0.8" fill="none"/>
<rect x="25.6" y="202.2" width="198.7" height="136.3" fill="none" stroke="#000" stroke-width="0.8"/>
<line x1="34.4" y1="338.5" x2="34.4" y2="340.9" stroke="#000" stroke-width="0.6"/>
<text x="34.4" y="347.7" font-size="6.5" text-anchor="middle" letter-spacing="0" fill="#000">0</text>
<line x1="70.6" y1="338.5" x2="70.6" y2="340.9" stroke="#000" stroke-width="0.6"/>
<text x="70.6" y="347.7" font-size="6.5" text-anchor="middle" letter-spacing="0" fill="#000">10</text>
<line x1="106.8" y1="338.5" x2="106.8" y2="340.9" stroke="#000" stroke-width="0.6"/>
<text x="106.8" y="347.7" font-size="6.5" text-anchor="middle" letter-spacing="0" fill="#000">20</text>
<line x1="143" y1="338.5" x2="143" y2="340.9" stroke="#000" stroke-width="0.6"/>
<text x="143" y="347.7" font-size="6.5" text-anchor="middle" letter-spacing="0" fill="#000">30</text>
<line x1="179.2" y1="338.5" x2="179.2" y2="340.9" stroke="#000" stroke-width="0.6"/>
<text x="179.2" y="347.7" font-size="6.5" text-anchor="middle" letter-spacing="0" fill="#000">40</text>
<line x1="215.4" y1="338.5" x2="215.4" y2="340.9" stroke="#000" stroke-width="0.6"/>
<text x="215.4" y="347.7" font-size="6.5" text-anchor="middle" letter-spacing="0" fill="#000">50</text>
<line x1="23.2" y1="324.9" x2="25.6" y2="324.9" stroke="#000" stroke-width="0.6"/>
<text x="19" y="327.5" font-size="6.5" text-anchor="end" letter-spacing="0" fill="#000">10<tspan dy="-2.6" font-size="4.6">1</tspan></text>
<line x1="23.2" y1="231.3" x2="25.6" y2="231.3" stroke="#000" stroke-width="0.6"/>
<text x="19" y="233.9" font-size="6.5" text-anchor="end" letter-spacing="0" fill="#000">10<tspan dy="-2.6" font-size="4.6">2</tspan></text>
<line x1="24.2" y1="329.18" x2="25.6" y2="329.18" stroke="#000" stroke-width="0.5"/>
<line x1="24.2" y1="296.72" x2="25.6" y2="296.72" stroke="#000" stroke-width="0.5"/>
<line x1="24.2" y1="280.24" x2="25.6" y2="280.24" stroke="#000" stroke-width="0.5"/>
<line x1="24.2" y1="268.55" x2="25.6" y2="268.55" stroke="#000" stroke-width="0.5"/>
<line x1="24.2" y1="259.48" x2="25.6" y2="259.48" stroke="#000" stroke-width="0.5"/>
<line x1="24.2" y1="252.07" x2="25.6" y2="252.07" stroke="#000" stroke-width="0.5"/>
<line x1="24.2" y1="245.8" x2="25.6" y2="245.8" stroke="#000" stroke-width="0.5"/>
<line x1="24.2" y1="240.37" x2="25.6" y2="240.37" stroke="#000" stroke-width="0.5"/>
<line x1="24.2" y1="235.58" x2="25.6" y2="235.58" stroke="#000" stroke-width="0.5"/>
<line x1="24.2" y1="203.12" x2="25.6" y2="203.12" stroke="#000" stroke-width="0.5"/>
<text x="26.2" y="198.7" font-size="11.9" text-anchor="start" fill="#000" letter-spacing="0.4">A.2</text>
<text x="124.95" y="192.4" font-size="6.75" text-anchor="middle" letter-spacing="0" fill="#000">Dependency of Execution Time</text>
<text x="124.95" y="198.6" font-size="6.75" text-anchor="middle" letter-spacing="0" fill="#000">on Fraction of Miss. Values</text>
<text x="124.95" y="355.4" font-size="6.75" text-anchor="middle" letter-spacing="0" fill="#000">Missing Values per Batch in %</text>
<text x="6.6" y="270.35" font-size="6.75" text-anchor="middle" transform="rotate(-90 6.6 270.35)" letter-spacing="0" fill="#000">Runtime in seconds</text>
<polyline points="263.5,216.84 273.01,215.57 282.52,214.82 292.03,215.57 301.54,215.32 311.05,216.2 320.56,215.07 330.07,218.35 339.58,214.94 349.09,214.56 358.61,215.57 368.12,216.84 377.63,213.93 387.14,217.34 396.65,213.55 406.16,215.7 415.67,215.19 425.18,215.19 434.69,216.08 444.2,213.3" fill="none" stroke="#1f77b4" stroke-width="1.1" clip-path="url(#c5)" stroke-linejoin="round" stroke-linecap="butt"/>
<polyline points="263.5,215.57 273.01,214.44 282.52,213.3 292.03,214.44 301.54,213.93 311.05,215.07 320.56,213.93 330.07,217.47 339.58,213.93 349.09,213.3 358.61,214.56 368.12,215.7 377.63,212.92 387.14,215.7 396.65,212.29 406.16,214.56 415.67,214.18 425.18,214.18 434.69,215.07 444.2,212.29" fill="none" stroke="#ff7f0e" stroke-width="1.1" clip-path="url(#c5)" stroke-linejoin="round" stroke-linecap="butt"/>
<polyline points="263.5,329.32 273.01,329.45 282.52,329.32 292.03,329.32 301.54,329.83 311.05,329.58 320.56,329.45 330.07,329.7 339.58,329.58 349.09,329.45 358.61,329.7 368.12,329.83 377.63,329.45 387.14,329.7 396.65,329.58 406.16,329.58 415.67,329.7 425.18,329.58 434.69,329.83 444.2,329.7" fill="none" stroke="#1f77b4" stroke-width="1.1" clip-path="url(#c5)" stroke-linejoin="round" stroke-linecap="butt"/>
<polyline points="263.5,329.58 273.01,329.7 282.52,329.58 292.03,329.58 301.54,330.08 311.05,329.83 320.56,329.7 330.07,329.96 339.58,329.83 349.09,329.7 358.61,329.96 368.12,330.08 377.63,329.7 387.14,329.96 396.65,329.83 406.16,329.83 415.67,329.96 425.18,329.83 434.69,330.08 444.2,329.96" fill="none" stroke="#ff7f0e" stroke-width="1.1" clip-path="url(#c5)" stroke-linejoin="round" stroke-linecap="butt"/>
<path d="M263.5,219.36V213.05M261.8,219.36H265.2M261.8,213.05H265.2M273.01,217.53V212.48M271.31,217.53H274.71M271.31,212.48H274.71M282.52,217.21V210.9M280.82,217.21H284.22M280.82,210.9H284.22M292.03,218.54V211.47M290.33,218.54H293.73M290.33,211.47H293.73M301.54,219.04V210.21M299.84,219.04H303.24M299.84,210.21H303.24M311.05,218.16V213.11M309.35,218.16H312.75M309.35,213.11H312.75M320.56,217.66V211.34M318.86,217.66H322.26M318.86,211.34H322.26M330.07,221.06V214.75M328.37,221.06H331.77M328.37,214.75H331.77M339.58,215.95V212.92M337.88,215.95H341.28M337.88,212.92H341.28M349.09,216.46V211.41M347.39,216.46H350.79M347.39,211.41H350.79M358.61,217.59V212.54M356.91,217.59H360.31M356.91,212.54H360.31M368.12,220.05V212.48M366.42,220.05H369.82M366.42,212.48H369.82M377.63,215.32V211.53M375.93,215.32H379.33M375.93,211.53H379.33M387.14,219.68V213.36M385.44,219.68H388.84M385.44,213.36H388.84M396.65,215.45V210.4M394.95,215.45H398.35M394.95,210.4H398.35M406.16,217.66V212.61M404.46,217.66H407.86M404.46,212.61H407.86M415.67,218.48V210.9M413.97,218.48H417.37M413.97,210.9H417.37M425.18,217.85V211.53M423.48,217.85H426.88M423.48,211.53H426.88M434.69,218.73V212.42M432.99,218.73H436.39M432.99,212.42H436.39M444.2,216.58V209.01M442.5,216.58H445.9M442.5,209.01H445.9" stroke="#000" stroke-width="0.8" fill="none"/>
<path d="M263.5,330.33V328.82M261.8,330.33H265.2M261.8,328.82H265.2M273.01,330.46V328.95M271.31,330.46H274.71M271.31,328.95H274.71M282.52,330.33V328.82M280.82,330.33H284.22M280.82,328.82H284.22M292.03,330.33V328.82M290.33,330.33H293.73M290.33,328.82H293.73M301.54,330.84V329.32M299.84,330.84H303.24M299.84,329.32H303.24M311.05,330.59V329.07M309.35,330.59H312.75M309.35,329.07H312.75M320.56,330.46V328.95M318.86,330.46H322.26M318.86,328.95H322.26M330.07,330.71V329.2M328.37,330.71H331.77M328.37,329.2H331.77M339.58,330.59V329.07M337.88,330.59H341.28M337.88,329.07H341.28M349.09,330.46V328.95M347.39,330.46H350.79M347.39,328.95H350.79M358.61,330.71V329.2M356.91,330.71H360.31M356.91,329.2H360.31M368.12,330.84V329.32M366.42,330.84H369.82M366.42,329.32H369.82M377.63,330.46V328.95M375.93,330.46H379.33M375.93,328.95H379.33M387.14,330.71V329.2M385.44,330.71H388.84M385.44,329.2H388.84M396.65,330.59V329.07M394.95,330.59H398.35M394.95,329.07H398.35M406.16,330.59V329.07M404.46,330.59H407.86M404.46,329.07H407.86M415.67,330.71V329.2M413.97,330.71H417.37M413.97,329.2H417.37M425.18,330.59V329.07M423.48,330.59H426.88M423.48,329.07H426.88M434.69,330.84V329.32M432.99,330.84H436.39M432.99,329.32H436.39M444.2,330.71V329.2M442.5,330.71H445.9M442.5,329.2H445.9" stroke="#000" stroke-width="0.8" fill="none"/>
<rect x="254.2" y="202.2" width="199.6" height="136.3" fill="none" stroke="#000" stroke-width="0.8"/>
<line x1="263.5" y1="338.5" x2="263.5" y2="340.9" stroke="#000" stroke-width="0.6"/>
<text x="263.5" y="347.7" font-size="6.5" text-anchor="middle" letter-spacing="0" fill="#000">0</text>
<line x1="299.64" y1="338.5" x2="299.64" y2="340.9" stroke="#000" stroke-width="0.6"/>
<text x="299.64" y="347.7" font-size="6.5" text-anchor="middle" letter-spacing="0" fill="#000">10</text>
<line x1="335.78" y1="338.5" x2="335.78" y2="340.9" stroke="#000" stroke-width="0.6"/>
<text x="335.78" y="347.7" font-size="6.5" text-anchor="middle" letter-spacing="0" fill="#000">20</text>
<line x1="371.92" y1="338.5" x2="371.92" y2="340.9" stroke="#000" stroke-width="0.6"/>
<text x="371.92" y="347.7" font-size="6.5" text-anchor="middle" letter-spacing="0" fill="#000">30</text>
<line x1="408.06" y1="338.5" x2="408.06" y2="340.9" stroke="#000" stroke-width="0.6"/>
<text x="408.06" y="347.7" font-size="6.5" text-anchor="middle" letter-spacing="0" fill="#000">40</text>
<line x1="444.2" y1="338.5" x2="444.2" y2="340.9" stroke="#000" stroke-width="0.6"/>
<text x="444.2" y="347.7" font-size="6.5" text-anchor="middle" letter-spacing="0" fill="#000">50</text>
<line x1="251.8" y1="314.3" x2="254.2" y2="314.3" stroke="#000" stroke-width="0.6"/>
<text x="249.6" y="316.9" font-size="6.5" text-anchor="end" letter-spacing="0" fill="#000">0.0</text>
<line x1="251.8" y1="289.05" x2="254.2" y2="289.05" stroke="#000" stroke-width="0.6"/>
<text x="249.6" y="291.65" font-size="6.5" text-anchor="end" letter-spacing="0" fill="#000">0.2</text>
<line x1="251.8" y1="263.8" x2="254.2" y2="263.8" stroke="#000" stroke-width="0.6"/>
<text x="249.6" y="266.4" font-size="6.5" text-anchor="end" letter-spacing="0" fill="#000">0.4</text>
<line x1="251.8" y1="238.55" x2="254.2" y2="238.55" stroke="#000" stroke-width="0.6"/>
<text x="249.6" y="241.15" font-size="6.5" text-anchor="end" letter-spacing="0" fill="#000">0.6</text>
<line x1="251.8" y1="213.3" x2="254.2" y2="213.3" stroke="#000" stroke-width="0.6"/>
<text x="249.6" y="215.9" font-size="6.5" text-anchor="end" letter-spacing="0" fill="#000">0.8</text>
<text x="290.4" y="288.6" font-size="5.3" text-anchor="start" letter-spacing="0" fill="#000">ASW Batch Scores</text>
<text x="351" y="247.3" font-size="5.3" text-anchor="start" letter-spacing="0" fill="#000">ASW Label Scores</text>
<line x1="291.3" y1="290.8" x2="297.97" y2="320.57" stroke="#000" stroke-width="0.8"/>
<path d="M299.5,327.4L295.24,321.18L300.7,319.96Z" fill="#000"/>
<line x1="393.9" y1="241.4" x2="404.12" y2="225.49" stroke="#000" stroke-width="0.8"/>
<path d="M407.9,219.6L406.47,227L401.76,223.98Z" fill="#000"/>
<text x="254.8" y="198.7" font-size="11.9" text-anchor="start" fill="#000" letter-spacing="0.4">B.2</text>
<text x="354" y="192.4" font-size="6.75" text-anchor="middle" letter-spacing="0" fill="#000">Dependency of BERT ASW Scores</text>
<text x="354" y="198.6" font-size="6.75" text-anchor="middle" letter-spacing="0" fill="#000">on Fraction of Miss. Values</text>
<text x="354" y="355.4" font-size="6.75" text-anchor="middle" letter-spacing="0" fill="#000">Missing Values per Batch in %</text>
<text x="237.5" y="270.35" font-size="6.75" text-anchor="middle" transform="rotate(-90 237.5 270.35)" letter-spacing="0" fill="#000">ASW</text>
<polyline points="491.52,330.36 497.44,326.41 503.36,322.47 509.28,318.53 515.2,314.59 521.12,310.64 527.04,306.7 532.96,302.76 538.88,298.82 544.8,294.87 550.72,290.93 556.64,286.99 562.56,283.04 568.48,279.1 574.4,275.16 580.32,271.22 586.24,267.27 592.16,263.33 598.08,259.39 604,255.44 639.52,231.79 675.04,208.13" fill="none" stroke="#1f77b4" stroke-width="1.1" clip-path="url(#c6)" stroke-linejoin="round" stroke-linecap="butt"/>
<polyline points="491.52,330.37 497.44,326.53 503.36,322.44 509.28,318.55 515.2,314.67 521.12,311.4 527.04,308.12 532.96,305.67 538.88,303.62 544.8,301.99 550.72,300.35 556.64,299.54 562.56,299.33 568.48,299.94 574.4,301.58 580.32,304.03 586.24,306.49 592.16,308.94 598.08,311.4 604,313.85 639.52,326.94 675.04,332.5" fill="none" stroke="#2ca02c" stroke-width="1.1" clip-path="url(#c6)" stroke-linejoin="round" stroke-linecap="butt"/>
<path d="M491.52,330.52V330.19M490.12,330.52H492.92M490.12,330.19H492.92M497.44,326.58V326.25M496.04,326.58H498.84M496.04,326.25H498.84M503.36,322.64V322.31M501.96,322.64H504.76M501.96,322.31H504.76M509.28,318.69V318.37M507.88,318.69H510.68M507.88,318.37H510.68M515.2,314.75V314.42M513.8,314.75H516.6M513.8,314.42H516.6M521.12,310.81V310.48M519.72,310.81H522.52M519.72,310.48H522.52M527.04,306.86V306.54M525.64,306.86H528.44M525.64,306.54H528.44M532.96,302.92V302.59M531.56,302.92H534.36M531.56,302.59H534.36M538.88,298.98V298.65M537.48,298.98H540.28M537.48,298.65H540.28M544.8,295.04V294.71M543.4,295.04H546.2M543.4,294.71H546.2M550.72,291.09V290.77M549.32,291.09H552.12M549.32,290.77H552.12M556.64,287.15V286.82M555.24,287.15H558.04M555.24,286.82H558.04M562.56,283.21V282.88M561.16,283.21H563.96M561.16,282.88H563.96M568.48,279.26V278.94M567.08,279.26H569.88M567.08,278.94H569.88M574.4,275.32V275M573,275.32H575.8M573,275H575.8M580.32,271.38V271.05M578.92,271.38H581.72M578.92,271.05H581.72M586.24,267.44V267.11M584.84,267.44H587.64M584.84,267.11H587.64M592.16,263.49V263.17M590.76,263.49H593.56M590.76,263.17H593.56M598.08,259.55V259.22M596.68,259.55H599.48M596.68,259.22H599.48M604,255.61V255.28M602.6,255.61H605.4M602.6,255.28H605.4M639.52,231.95V231.62M638.12,231.95H640.92M638.12,231.62H640.92M675.04,208.3V207.97M673.64,208.3H676.44M673.64,207.97H676.44" stroke="#000" stroke-width="0.8" fill="none"/>
<path d="M491.52,330.54V330.21M490.12,330.54H492.92M490.12,330.21H492.92M497.44,326.69V326.37M496.04,326.69H498.84M496.04,326.37H498.84M503.36,322.6V322.28M501.96,322.6H504.76M501.96,322.28H504.76M509.28,318.72V318.39M507.88,318.72H510.68M507.88,318.39H510.68M515.2,314.83V314.5M513.8,314.83H516.6M513.8,314.5H516.6M521.12,311.56V311.23M519.72,311.56H522.52M519.72,311.23H522.52M527.04,308.29V307.96M525.64,308.29H528.44M525.64,307.96H528.44M532.96,305.83V305.51M531.56,305.83H534.36M531.56,305.51H534.36M538.88,303.79V303.46M537.48,303.79H540.28M537.48,303.46H540.28M544.8,302.15V301.83M543.4,302.15H546.2M543.4,301.83H546.2M550.72,300.52V300.19M549.32,300.52H552.12M549.32,300.19H552.12M556.64,299.7V299.37M555.24,299.7H558.04M555.24,299.37H558.04M562.56,299.49V299.17M561.16,299.49H563.96M561.16,299.17H563.96M568.48,300.11V299.78M567.08,300.11H569.88M567.08,299.78H569.88M574.4,301.74V301.42M573,301.74H575.8M573,301.42H575.8M580.32,304.2V303.87M578.92,304.2H581.72M578.92,303.87H581.72M586.24,306.65V306.32M584.84,306.65H587.64M584.84,306.32H587.64M592.16,309.11V308.78M590.76,309.11H593.56M590.76,308.78H593.56M598.08,311.56V311.23M596.68,311.56H599.48M596.68,311.23H599.48M604,314.01V313.69M602.6,314.01H605.4M602.6,313.69H605.4M639.52,327.1V326.77M638.12,327.1H640.92M638.12,326.77H640.92M675.04,332.66V332.34M673.64,332.66H676.44M673.64,332.34H676.44" stroke="#000" stroke-width="0.8" fill="none"/>
<rect x="482.5" y="202.4" width="201.7" height="136" fill="none" stroke="#000" stroke-width="0.8"/>
<line x1="485.6" y1="338.4" x2="485.6" y2="340.8" stroke="#000" stroke-width="0.6"/>
<text x="485.6" y="347.6" font-size="6.5" text-anchor="middle" letter-spacing="0" fill="#000">0</text>
<line x1="515.2" y1="338.4" x2="515.2" y2="340.8" stroke="#000" stroke-width="0.6"/>
<text x="515.2" y="347.6" font-size="6.5" text-anchor="middle" letter-spacing="0" fill="#000">10</text>
<line x1="544.8" y1="338.4" x2="544.8" y2="340.8" stroke="#000" stroke-width="0.6"/>
<text x="544.8" y="347.6" font-size="6.5" text-anchor="middle" letter-spacing="0" fill="#000">20</text>
<line x1="574.4" y1="338.4" x2="574.4" y2="340.8" stroke="#000" stroke-width="0.6"/>
<text x="574.4" y="347.6" font-size="6.5" text-anchor="middle" letter-spacing="0" fill="#000">30</text>
<line x1="604" y1="338.4" x2="604" y2="340.8" stroke="#000" stroke-width="0.6"/>
<text x="604" y="347.6" font-size="6.5" text-anchor="middle" letter-spacing="0" fill="#000">40</text>
<line x1="633.6" y1="338.4" x2="633.6" y2="340.8" stroke="#000" stroke-width="0.6"/>
<text x="633.6" y="347.6" font-size="6.5" text-anchor="middle" letter-spacing="0" fill="#000">50</text>
<line x1="663.2" y1="338.4" x2="663.2" y2="340.8" stroke="#000" stroke-width="0.6"/>
<text x="663.2" y="347.6" font-size="6.5" text-anchor="middle" letter-spacing="0" fill="#000">60</text>
<line x1="480.1" y1="334.3" x2="482.5" y2="334.3" stroke="#000" stroke-width="0.6"/>
<text x="477.9" y="336.9" font-size="6.5" text-anchor="end" letter-spacing="0" fill="#000">0.0</text>
<line x1="480.1" y1="313.85" x2="482.5" y2="313.85" stroke="#000" stroke-width="0.6"/>
<text x="477.9" y="316.45" font-size="6.5" text-anchor="end" letter-spacing="0" fill="#000">0.5</text>
<line x1="480.1" y1="293.4" x2="482.5" y2="293.4" stroke="#000" stroke-width="0.6"/>
<text x="477.9" y="296" font-size="6.5" text-anchor="end" letter-spacing="0" fill="#000">1.0</text>
<line x1="480.1" y1="272.95" x2="482.5" y2="272.95" stroke="#000" stroke-width="0.6"/>
<text x="477.9" y="275.55" font-size="6.5" text-anchor="end" letter-spacing="0" fill="#000">1.5</text>
<line x1="480.1" y1="252.5" x2="482.5" y2="252.5" stroke="#000" stroke-width="0.6"/>
<text x="477.9" y="255.1" font-size="6.5" text-anchor="end" letter-spacing="0" fill="#000">2.0</text>
<line x1="480.1" y1="232.05" x2="482.5" y2="232.05" stroke="#000" stroke-width="0.6"/>
<text x="477.9" y="234.65" font-size="6.5" text-anchor="end" letter-spacing="0" fill="#000">2.5</text>
<line x1="480.1" y1="211.6" x2="482.5" y2="211.6" stroke="#000" stroke-width="0.6"/>
<text x="477.9" y="214.2" font-size="6.5" text-anchor="end" letter-spacing="0" fill="#000">3.0</text>
<text x="483" y="200.6" font-size="6.5" text-anchor="start" letter-spacing="0" fill="#000">1e6</text>
<text x="483.1" y="192.7" font-size="11.9" text-anchor="start" fill="#000" letter-spacing="0.4">C.2</text>
<text x="583.35" y="186.4" font-size="6.75" text-anchor="middle" letter-spacing="0" fill="#000">Dependency of Num. Values in</text>
<text x="583.35" y="192.6" font-size="6.75" text-anchor="middle" letter-spacing="0" fill="#000">Output Data on Number of Batches</text>
<text x="583.35" y="355.3" font-size="6.75" text-anchor="middle" letter-spacing="0" fill="#000">Number <tspan font-style="italic">N</tspan> of Batches</text>
<text x="465.6" y="270.4" font-size="6.75" text-anchor="middle" transform="rotate(-90 465.6 270.4)" letter-spacing="0" fill="#000">Number of Num. Values</text>
<polyline points="34.34,500.73 40.17,477.35 46.01,461.32 51.85,467.33 57.68,459.65 63.52,459.65 69.36,456.64 75.19,455.64 81.03,439.94 86.87,443.95 92.7,443.62 98.54,443.28 104.38,438.61 110.21,441.61 116.05,443.62 121.89,444.95 127.72,434.93 133.56,438.61 139.4,438.61 145.23,440.28 180.25,439.27 215.27,436.27" fill="none" stroke="#1f77b4" stroke-width="1.3" clip-path="url(#c7)" stroke-linejoin="round" stroke-linecap="butt"/>
<polyline points="34.34,474.68 40.17,458.98 46.01,438.94 51.85,436.6 57.68,427.25 63.52,422.24 69.36,420.57 75.19,422.24 81.03,398.86 86.87,403.87 92.7,401.53 98.54,403.87 104.38,397.86 110.21,399.86 116.05,401.2 121.89,402.53 127.72,389.51 133.56,392.18 139.4,394.52 145.23,399.19 180.25,393.85 215.27,397.19" fill="none" stroke="#ff7f0e" stroke-width="1.3" clip-path="url(#c7)" stroke-linejoin="round" stroke-linecap="butt"/>
<path d="M34.34,478.02V471.34M32.54,478.02H36.14M32.54,471.34H36.14M40.17,462.99V454.97M38.37,462.99H41.97M38.37,454.97H41.97M46.01,448.96V428.92M44.21,448.96H47.81M44.21,428.92H47.81M51.85,453.3V419.9M50.05,453.3H53.65M50.05,419.9H53.65M57.68,443.95V410.55M55.88,443.95H59.48M55.88,410.55H59.48M63.52,437.27V407.21M61.72,437.27H65.32M61.72,407.21H65.32M69.36,435.6V405.54M67.56,435.6H71.16M67.56,405.54H71.16M75.19,430.59V413.89M73.39,430.59H76.99M73.39,413.89H76.99M81.03,410.55V387.17M79.23,410.55H82.83M79.23,387.17H82.83M86.87,413.22V394.52M85.07,413.22H88.67M85.07,394.52H88.67M92.7,409.88V393.18M90.9,409.88H94.5M90.9,393.18H94.5M98.54,410.55V397.19M96.74,410.55H100.34M96.74,397.19H100.34M104.38,403.87V391.85M102.58,403.87H106.18M102.58,391.85H106.18M110.21,410.55V389.17M108.41,410.55H112.01M108.41,389.17H112.01M116.05,412.89V389.51M114.25,412.89H117.85M114.25,389.51H117.85M121.89,412.55V392.51M120.09,412.55H123.69M120.09,392.51H123.69M127.72,396.19V382.83M125.92,396.19H129.52M125.92,382.83H129.52M133.56,398.19V386.17M131.76,398.19H135.36M131.76,386.17H135.36M139.4,401.2V387.84M137.6,401.2H141.2M137.6,387.84H141.2M145.23,405.21V393.18M143.43,405.21H147.03M143.43,393.18H147.03M180.25,400.53V387.17M178.45,400.53H182.05M178.45,387.17H182.05M215.27,402.53V391.85M213.47,402.53H217.07M213.47,391.85H217.07" stroke="#222" stroke-width="0.8" fill="none"/>
<path d="M34.34,504.74V496.72M32.54,504.74H36.14M32.54,496.72H36.14M40.17,495.72V458.98M38.37,495.72H41.97M38.37,458.98H41.97M46.01,474.68V447.96M44.21,474.68H47.81M44.21,447.96H47.81M51.85,474.01V460.65M50.05,474.01H53.65M50.05,460.65H53.65M57.68,463.66V455.64M55.88,463.66H59.48M55.88,455.64H59.48M63.52,467V452.3M61.72,467H65.32M61.72,452.3H65.32M69.36,463.32V449.96M67.56,463.32H71.16M67.56,449.96H71.16M75.19,462.32V448.96M73.39,462.32H76.99M73.39,448.96H76.99M81.03,446.62V433.26M79.23,446.62H82.83M79.23,433.26H82.83M86.87,449.96V437.94M85.07,449.96H88.67M85.07,437.94H88.67M92.7,447.96V439.27M90.9,447.96H94.5M90.9,439.27H94.5M98.54,447.96V438.61M96.74,447.96H100.34M96.74,438.61H100.34M104.38,444.62V432.59M102.58,444.62H106.18M102.58,432.59H106.18M110.21,445.62V437.6M108.41,445.62H112.01M108.41,437.6H112.01M116.05,448.63V438.61M114.25,448.63H117.85M114.25,438.61H117.85M121.89,449.96V439.94M120.09,449.96H123.69M120.09,439.94H123.69M127.72,438.94V430.92M125.92,438.94H129.52M125.92,430.92H129.52M133.56,442.95V434.26M131.76,442.95H135.36M131.76,434.26H135.36M139.4,442.61V434.6M137.6,442.61H141.2M137.6,434.6H141.2M145.23,442.95V437.6M143.43,442.95H147.03M143.43,437.6H147.03M180.25,441.95V436.6M178.45,441.95H182.05M178.45,436.6H182.05M215.27,439.61V432.93M213.47,439.61H217.07M213.47,432.93H217.07" stroke="#222" stroke-width="0.8" fill="none"/>
<rect x="25.5" y="375.7" width="198.6" height="136.6" fill="none" stroke="#000" stroke-width="0.8"/>
<line x1="28.5" y1="512.3" x2="28.5" y2="514.7" stroke="#000" stroke-width="0.6"/>
<text x="28.5" y="521.5" font-size="6.5" text-anchor="middle" letter-spacing="0" fill="#000">0</text>
<line x1="57.68" y1="512.3" x2="57.68" y2="514.7" stroke="#000" stroke-width="0.6"/>
<text x="57.68" y="521.5" font-size="6.5" text-anchor="middle" letter-spacing="0" fill="#000">10</text>
<line x1="86.87" y1="512.3" x2="86.87" y2="514.7" stroke="#000" stroke-width="0.6"/>
<text x="86.87" y="521.5" font-size="6.5" text-anchor="middle" letter-spacing="0" fill="#000">20</text>
<line x1="116.05" y1="512.3" x2="116.05" y2="514.7" stroke="#000" stroke-width="0.6"/>
<text x="116.05" y="521.5" font-size="6.5" text-anchor="middle" letter-spacing="0" fill="#000">30</text>
<line x1="145.23" y1="512.3" x2="145.23" y2="514.7" stroke="#000" stroke-width="0.6"/>
<text x="145.23" y="521.5" font-size="6.5" text-anchor="middle" letter-spacing="0" fill="#000">40</text>
<line x1="174.42" y1="512.3" x2="174.42" y2="514.7" stroke="#000" stroke-width="0.6"/>
<text x="174.42" y="521.5" font-size="6.5" text-anchor="middle" letter-spacing="0" fill="#000">50</text>
<line x1="203.6" y1="512.3" x2="203.6" y2="514.7" stroke="#000" stroke-width="0.6"/>
<text x="203.6" y="521.5" font-size="6.5" text-anchor="middle" letter-spacing="0" fill="#000">60</text>
<line x1="23.1" y1="502.4" x2="25.5" y2="502.4" stroke="#000" stroke-width="0.6"/>
<text x="20.9" y="505" font-size="6.5" text-anchor="end" letter-spacing="0" fill="#000">0.40</text>
<line x1="23.1" y1="485.7" x2="25.5" y2="485.7" stroke="#000" stroke-width="0.6"/>
<text x="20.9" y="488.3" font-size="6.5" text-anchor="end" letter-spacing="0" fill="#000">0.45</text>
<line x1="23.1" y1="469" x2="25.5" y2="469" stroke="#000" stroke-width="0.6"/>
<text x="20.9" y="471.6" font-size="6.5" text-anchor="end" letter-spacing="0" fill="#000">0.50</text>
<line x1="23.1" y1="452.3" x2="25.5" y2="452.3" stroke="#000" stroke-width="0.6"/>
<text x="20.9" y="454.9" font-size="6.5" text-anchor="end" letter-spacing="0" fill="#000">0.55</text>
<line x1="23.1" y1="435.6" x2="25.5" y2="435.6" stroke="#000" stroke-width="0.6"/>
<text x="20.9" y="438.2" font-size="6.5" text-anchor="end" letter-spacing="0" fill="#000">0.60</text>
<line x1="23.1" y1="418.9" x2="25.5" y2="418.9" stroke="#000" stroke-width="0.6"/>
<text x="20.9" y="421.5" font-size="6.5" text-anchor="end" letter-spacing="0" fill="#000">0.65</text>
<line x1="23.1" y1="402.2" x2="25.5" y2="402.2" stroke="#000" stroke-width="0.6"/>
<text x="20.9" y="404.8" font-size="6.5" text-anchor="end" letter-spacing="0" fill="#000">0.70</text>
<line x1="23.1" y1="385.5" x2="25.5" y2="385.5" stroke="#000" stroke-width="0.6"/>
<text x="20.9" y="388.1" font-size="6.5" text-anchor="end" letter-spacing="0" fill="#000">0.75</text>
<text x="26.1" y="372.2" font-size="11.9" text-anchor="start" fill="#000" letter-spacing="0.4">D.1</text>
<text x="124.8" y="365.9" font-size="6.75" text-anchor="middle" letter-spacing="0" fill="#000">Runtime Normalized for <tspan font-style="italic">N</tspan> Batches</text>
<text x="124.8" y="372.1" font-size="6.75" text-anchor="middle" letter-spacing="0" fill="#000">Normalized Against <tspan font-style="italic">N</tspan></text>
<text x="124.8" y="529.2" font-size="6.75" text-anchor="middle" letter-spacing="0" fill="#000">Number <tspan font-style="italic">N</tspan> of Batches</text>
<text x="4.6" y="444" font-size="6.75" text-anchor="middle" transform="rotate(-90 4.6 444)" letter-spacing="0" fill="#000">Norm. Runtime (const. scaling)</text>
<polyline points="263,505.1 293.23,505.1 323.47,505.1 353.7,505.1 383.93,505.1 414.17,505.1 444.4,505.1" fill="none" stroke="#2ca02c" stroke-width="1.0" clip-path="url(#c8)" stroke-linejoin="round" stroke-linecap="butt"/>
<polyline points="263,505.1 293.23,505.1 323.47,505.1 353.7,505.1 383.93,505.1 414.17,505.1 444.4,505.1" fill="none" stroke="#d62728" stroke-width="1.0" stroke-dasharray="3,1.6" clip-path="url(#c8)" stroke-linejoin="round" stroke-linecap="butt"/>
<polyline points="263,505.1 293.23,467.07 323.47,420.49 353.7,389.29 383.93,394.42 414.17,434.16 444.4,414.51" fill="none" stroke="#1f77b4" stroke-width="1.2" clip-path="url(#c8)" stroke-linejoin="round" stroke-linecap="butt"/>
<polyline points="263,505.1 293.23,467.49 323.47,420.92 353.7,387.58 383.93,385.45 414.17,424.76 444.4,406.39" fill="none" stroke="#ff7f0e" stroke-width="1.2" clip-path="url(#c8)" stroke-linejoin="round" stroke-linecap="butt"/>
<path d="M263,505.1V505.1M261.2,505.1H264.8M261.2,505.1H264.8M293.23,468.78V466.21M291.43,468.78H295.03M291.43,466.21H295.03M323.47,422.2V419.63M321.67,422.2H325.27M321.67,419.63H325.27M353.7,391.86V383.31M351.9,391.86H355.5M351.9,383.31H355.5M383.93,388.87V382.03M382.13,388.87H385.73M382.13,382.03H385.73M414.17,425.62V423.91M412.37,425.62H415.97M412.37,423.91H415.97M444.4,408.95V403.82M442.6,408.95H446.2M442.6,403.82H446.2" stroke="#000" stroke-width="0.8" fill="none"/>
<path d="M263,505.1V505.1M261.2,505.1H264.8M261.2,505.1H264.8M293.23,469.2V464.93M291.43,469.2H295.03M291.43,464.93H295.03M323.47,421.77V419.21M321.67,421.77H325.27M321.67,419.21H325.27M353.7,392.71V385.87M351.9,392.71H355.5M351.9,385.87H355.5M383.93,398.69V390.15M382.13,398.69H385.73M382.13,390.15H385.73M414.17,435.44V432.88M412.37,435.44H415.97M412.37,432.88H415.97M444.4,417.5V411.51M442.6,417.5H446.2M442.6,411.51H446.2" stroke="#000" stroke-width="0.8" fill="none"/>
<path d="M293.23,505.23V504.97M291.83,505.23H294.63M291.83,504.97H294.63M323.47,505.23V504.97M322.07,505.23H324.87M322.07,504.97H324.87M353.7,505.23V504.97M352.3,505.23H355.1M352.3,504.97H355.1M383.93,505.23V504.97M382.53,505.23H385.33M382.53,504.97H385.33M414.17,505.23V504.97M412.77,505.23H415.57M412.77,504.97H415.57M444.4,505.23V504.97M443,505.23H445.8M443,504.97H445.8" stroke="#777" stroke-width="0.6" fill="none"/>
<rect x="254.7" y="375.6" width="198.8" height="136.5" fill="none" stroke="#000" stroke-width="0.8"/>
<line x1="263" y1="512.1" x2="263" y2="514.5" stroke="#000" stroke-width="0.6"/>
<text x="263" y="522.3" font-size="6.5" text-anchor="middle" letter-spacing="0" fill="#000">2<tspan dy="-2.6" font-size="4.6">0</tspan></text>
<line x1="293.23" y1="512.1" x2="293.23" y2="514.5" stroke="#000" stroke-width="0.6"/>
<text x="293.23" y="522.3" font-size="6.5" text-anchor="middle" letter-spacing="0" fill="#000">2<tspan dy="-2.6" font-size="4.6">1</tspan></text>
<line x1="323.47" y1="512.1" x2="323.47" y2="514.5" stroke="#000" stroke-width="0.6"/>
<text x="323.47" y="522.3" font-size="6.5" text-anchor="middle" letter-spacing="0" fill="#000">2<tspan dy="-2.6" font-size="4.6">2</tspan></text>
<line x1="353.7" y1="512.1" x2="353.7" y2="514.5" stroke="#000" stroke-width="0.6"/>
<text x="353.7" y="522.3" font-size="6.5" text-anchor="middle" letter-spacing="0" fill="#000">2<tspan dy="-2.6" font-size="4.6">3</tspan></text>
<line x1="383.93" y1="512.1" x2="383.93" y2="514.5" stroke="#000" stroke-width="0.6"/>
<text x="383.93" y="522.3" font-size="6.5" text-anchor="middle" letter-spacing="0" fill="#000">2<tspan dy="-2.6" font-size="4.6">4</tspan></text>
<line x1="414.17" y1="512.1" x2="414.17" y2="514.5" stroke="#000" stroke-width="0.6"/>
<text x="414.17" y="522.3" font-size="6.5" text-anchor="middle" letter-spacing="0" fill="#000">2<tspan dy="-2.6" font-size="4.6">5</tspan></text>
<line x1="444.4" y1="512.1" x2="444.4" y2="514.5" stroke="#000" stroke-width="0.6"/>
<text x="444.4" y="522.3" font-size="6.5" text-anchor="middle" letter-spacing="0" fill="#000">2<tspan dy="-2.6" font-size="4.6">6</tspan></text>
<line x1="252.3" y1="505.1" x2="254.7" y2="505.1" stroke="#000" stroke-width="0.6"/>
<text x="250.1" y="507.7" font-size="6.5" text-anchor="end" letter-spacing="0" fill="#000">1.0</text>
<line x1="252.3" y1="483.73" x2="254.7" y2="483.73" stroke="#000" stroke-width="0.6"/>
<text x="250.1" y="486.33" font-size="6.5" text-anchor="end" letter-spacing="0" fill="#000">1.5</text>
<line x1="252.3" y1="462.37" x2="254.7" y2="462.37" stroke="#000" stroke-width="0.6"/>
<text x="250.1" y="464.97" font-size="6.5" text-anchor="end" letter-spacing="0" fill="#000">2.0</text>
<line x1="252.3" y1="441" x2="254.7" y2="441" stroke="#000" stroke-width="0.6"/>
<text x="250.1" y="443.6" font-size="6.5" text-anchor="end" letter-spacing="0" fill="#000">2.5</text>
<line x1="252.3" y1="419.63" x2="254.7" y2="419.63" stroke="#000" stroke-width="0.6"/>
<text x="250.1" y="422.23" font-size="6.5" text-anchor="end" letter-spacing="0" fill="#000">3.0</text>
<line x1="252.3" y1="398.27" x2="254.7" y2="398.27" stroke="#000" stroke-width="0.6"/>
<text x="250.1" y="400.87" font-size="6.5" text-anchor="end" letter-spacing="0" fill="#000">3.5</text>
<line x1="252.3" y1="376.9" x2="254.7" y2="376.9" stroke="#000" stroke-width="0.6"/>
<text x="250.1" y="379.5" font-size="6.5" text-anchor="end" letter-spacing="0" fill="#000">4.0</text>
<rect x="344.8" y="427.6" width="58.5" height="54.6" fill="#fff"/>
<polyline points="346,471.23 365.1,460.25 376.27,449.27 384.2,438.3 390.35,427.33 395.37,416.35 399.62,405.38 403.3,394.4" fill="none" stroke="#000" stroke-width="1.2" clip-path="url(#c9)" stroke-linejoin="round" stroke-linecap="butt"/>
<circle cx="346" cy="471.23" r="0.9" fill="#000" clip-path="url(#c9)"/><circle cx="365.1" cy="460.25" r="0.9" fill="#000" clip-path="url(#c9)"/><circle cx="376.27" cy="449.27" r="0.9" fill="#000" clip-path="url(#c9)"/><circle cx="384.2" cy="438.3" r="0.9" fill="#000" clip-path="url(#c9)"/><circle cx="390.35" cy="427.33" r="0.9" fill="#000" clip-path="url(#c9)"/>
<polyline points="346,471.23 365.1,461.57 384.2,449.6 403.3,441.04" fill="none" stroke="#ff7f0e" stroke-width="1.2" clip-path="url(#c9)" stroke-linejoin="round" stroke-linecap="butt"/>
<path d="M346,471.44V471.01M344.7,471.44H347.3M344.7,471.01H347.3M365.1,462.23V460.91M363.8,462.23H366.4M363.8,460.91H366.4M384.2,450.15V449.06M382.9,450.15H385.5M382.9,449.06H385.5M403.3,442.14V439.95M402,442.14H404.6M402,439.95H404.6" stroke="#000" stroke-width="0.6" fill="none"/>
<rect x="344.8" y="427.6" width="58.5" height="54.6" fill="none" stroke="#000" stroke-width="0.8"/>
<line x1="365.1" y1="482.2" x2="365.1" y2="484.6" stroke="#000" stroke-width="0.6"/>
<text x="365.1" y="492.4" font-size="6.5" text-anchor="middle" letter-spacing="0" fill="#000">2<tspan dy="-2.6" font-size="4.6">1</tspan></text>
<line x1="403.3" y1="482.2" x2="403.3" y2="484.6" stroke="#000" stroke-width="0.6"/>
<text x="403.3" y="492.4" font-size="6.5" text-anchor="middle" letter-spacing="0" fill="#000">2<tspan dy="-2.6" font-size="4.6">3</tspan></text>
<line x1="342.4" y1="482.2" x2="344.8" y2="482.2" stroke="#000" stroke-width="0.6"/>
<text x="340.2" y="484.8" font-size="6.5" text-anchor="end" letter-spacing="0" fill="#000">0</text>
<line x1="342.4" y1="460.25" x2="344.8" y2="460.25" stroke="#000" stroke-width="0.6"/>
<text x="340.2" y="462.85" font-size="6.5" text-anchor="end" letter-spacing="0" fill="#000">2</text>
<line x1="342.4" y1="438.3" x2="344.8" y2="438.3" stroke="#000" stroke-width="0.6"/>
<text x="340.2" y="440.9" font-size="6.5" text-anchor="end" letter-spacing="0" fill="#000">4</text>
<text x="255.3" y="372.1" font-size="11.9" text-anchor="start" fill="#000" letter-spacing="0.4">E.1</text>
<text x="354.1" y="365.8" font-size="6.75" text-anchor="middle" letter-spacing="0" fill="#000">Strong Scaling Experiment</text>
<text x="354.1" y="372" font-size="6.75" text-anchor="middle" letter-spacing="0" fill="#000">(256 Batches) - Up to 64 Processes</text>
<text x="354.1" y="529.3" font-size="6.75" text-anchor="middle" letter-spacing="0" fill="#000">Number of Processes</text>
<text x="237.6" y="443.85" font-size="6.75" text-anchor="middle" transform="rotate(-90 237.6 443.85)" letter-spacing="0" fill="#000">Speedup</text>
<path d="M488.45,474.9V453.3M488.45,489.3V505.68M486.77,453.3H490.12M486.77,505.68H490.12" stroke="#3f3f3f" stroke-width="0.8" fill="none"/>
<rect x="485.1" y="474.9" width="6.7" height="14.4" fill="#c03d3e" stroke="#3f3f3f" stroke-width="0.8"/>
<line x1="485.1" y1="481.1" x2="491.8" y2="481.1" stroke="#3f3f3f" stroke-width="0.8"/>
<circle cx="488.45" cy="386.27" r="1.75" fill="none" stroke="#3f3f3f" stroke-width="0.6"/>
<path d="M495.2,474.9V453.3M495.2,489.3V505.68M493.52,453.3H496.88M493.52,505.68H496.88" stroke="#3f3f3f" stroke-width="0.8" fill="none"/>
<rect x="491.85" y="474.9" width="6.7" height="14.4" fill="#e1812c" stroke="#3f3f3f" stroke-width="0.8"/>
<line x1="491.85" y1="481.1" x2="498.55" y2="481.1" stroke="#3f3f3f" stroke-width="0.8"/>
<circle cx="495.2" cy="386.27" r="1.75" fill="none" stroke="#3f3f3f" stroke-width="0.6"/>
<path d="M502.15,427.73V426.49M502.15,440.64V442.38M500.47,426.49H503.82M500.47,442.38H503.82" stroke="#3f3f3f" stroke-width="0.8" fill="none"/>
<rect x="498.8" y="427.73" width="6.7" height="12.91" fill="#9372b2" stroke="#3f3f3f" stroke-width="0.8"/>
<line x1="498.8" y1="433.19" x2="505.5" y2="433.19" stroke="#3f3f3f" stroke-width="0.8"/>
<circle cx="502.15" cy="384.53" r="1.75" fill="none" stroke="#3f3f3f" stroke-width="0.6"/>
<circle cx="502.15" cy="404.4" r="1.75" fill="none" stroke="#3f3f3f" stroke-width="0.6"/>
<circle cx="502.15" cy="470.43" r="1.75" fill="none" stroke="#3f3f3f" stroke-width="0.6"/>
<circle cx="502.15" cy="490.29" r="1.75" fill="none" stroke="#3f3f3f" stroke-width="0.6"/>
<path d="M513.8,420.53V417.3M513.8,427.23V436.42M512.12,417.3H515.47M512.12,436.42H515.47" stroke="#3f3f3f" stroke-width="0.8" fill="none"/>
<rect x="510.45" y="420.53" width="6.7" height="6.7" fill="#c03d3e" stroke="#3f3f3f" stroke-width="0.8"/>
<line x1="510.45" y1="423.76" x2="517.15" y2="423.76" stroke="#3f3f3f" stroke-width="0.8"/>
<circle cx="513.8" cy="401.91" r="1.75" fill="none" stroke="#3f3f3f" stroke-width="0.6"/>
<path d="M520.9,420.53V417.3M520.9,427.23V436.42M519.23,417.3H522.57M519.23,436.42H522.57" stroke="#3f3f3f" stroke-width="0.8" fill="none"/>
<rect x="517.55" y="420.53" width="6.7" height="6.7" fill="#e1812c" stroke="#3f3f3f" stroke-width="0.8"/>
<line x1="517.55" y1="423.76" x2="524.25" y2="423.76" stroke="#3f3f3f" stroke-width="0.8"/>
<circle cx="520.9" cy="401.91" r="1.75" fill="none" stroke="#3f3f3f" stroke-width="0.6"/>
<path d="M527.65,400.17V392.73M527.65,409.61V418.3M525.98,392.73H529.32M525.98,418.3H529.32" stroke="#3f3f3f" stroke-width="0.8" fill="none"/>
<rect x="524.3" y="400.17" width="6.7" height="9.43" fill="#9372b2" stroke="#3f3f3f" stroke-width="0.8"/>
<line x1="524.3" y1="403.15" x2="531" y2="403.15" stroke="#3f3f3f" stroke-width="0.8"/>
<path d="M539.5,387.51V384.04M539.5,391.49V393.22M537.83,384.04H541.17M537.83,393.22H541.17" stroke="#3f3f3f" stroke-width="0.8" fill="none"/>
<rect x="536.15" y="387.51" width="6.7" height="3.97" fill="#c03d3e" stroke="#3f3f3f" stroke-width="0.8"/>
<line x1="536.15" y1="389.5" x2="542.85" y2="389.5" stroke="#3f3f3f" stroke-width="0.8"/>
<path d="M546.25,387.51V384.04M546.25,391.49V393.22M544.58,384.04H547.92M544.58,393.22H547.92" stroke="#3f3f3f" stroke-width="0.8" fill="none"/>
<rect x="542.9" y="387.51" width="6.7" height="3.97" fill="#e1812c" stroke="#3f3f3f" stroke-width="0.8"/>
<line x1="542.9" y1="389.5" x2="549.6" y2="389.5" stroke="#3f3f3f" stroke-width="0.8"/>
<path d="M553.05,385.03V381.8M553.05,387.51V387.76M551.38,381.8H554.72M551.38,387.76H554.72" stroke="#3f3f3f" stroke-width="0.8" fill="none"/>
<rect x="549.7" y="385.03" width="6.7" height="2.48" fill="#9372b2" stroke="#3f3f3f" stroke-width="0.8"/>
<line x1="549.7" y1="386.27" x2="556.4" y2="386.27" stroke="#3f3f3f" stroke-width="0.8"/>
<circle cx="553.05" cy="391.49" r="1.75" fill="none" stroke="#3f3f3f" stroke-width="0.6"/>
<rect x="482.5" y="375.5" width="76.4" height="136.6" fill="none" stroke="#000" stroke-width="0.8"/>
<line x1="480.1" y1="488.8" x2="482.5" y2="488.8" stroke="#000" stroke-width="0.6"/>
<text x="477.9" y="491.4" font-size="6.5" text-anchor="end" letter-spacing="0" fill="#000">0.5</text>
<line x1="480.1" y1="463.98" x2="482.5" y2="463.98" stroke="#000" stroke-width="0.6"/>
<text x="477.9" y="466.58" font-size="6.5" text-anchor="end" letter-spacing="0" fill="#000">0.6</text>
<line x1="480.1" y1="439.15" x2="482.5" y2="439.15" stroke="#000" stroke-width="0.6"/>
<text x="477.9" y="441.75" font-size="6.5" text-anchor="end" letter-spacing="0" fill="#000">0.7</text>
<line x1="480.1" y1="414.32" x2="482.5" y2="414.32" stroke="#000" stroke-width="0.6"/>
<text x="477.9" y="416.93" font-size="6.5" text-anchor="end" letter-spacing="0" fill="#000">0.8</text>
<line x1="480.1" y1="389.5" x2="482.5" y2="389.5" stroke="#000" stroke-width="0.6"/>
<text x="477.9" y="392.1" font-size="6.5" text-anchor="end" letter-spacing="0" fill="#000">0.9</text>
<line x1="495.3" y1="512.1" x2="495.3" y2="514.5" stroke="#000" stroke-width="0.6"/>
<text transform="translate(495.3 521.35) rotate(-45)" x="0" y="2.34" font-size="6.5" letter-spacing="0" text-anchor="middle">1:9</text>
<line x1="520.9" y1="512.1" x2="520.9" y2="514.5" stroke="#000" stroke-width="0.6"/>
<text transform="translate(520.9 521.35) rotate(-45)" x="0" y="2.34" font-size="6.5" letter-spacing="0" text-anchor="middle">3:7</text>
<line x1="546.3" y1="512.1" x2="546.3" y2="514.5" stroke="#000" stroke-width="0.6"/>
<text transform="translate(546.3 521.35) rotate(-45)" x="0" y="2.34" font-size="6.5" letter-spacing="0" text-anchor="middle">5:5</text>
<text x="483.1" y="372" font-size="11.9" text-anchor="start" fill="#000" letter-spacing="0.4">G.1</text>
<text x="558.9" y="365.7" font-size="6.75" text-anchor="end" letter-spacing="0" fill="#000">ASW with</text>
<text x="558.9" y="371.9" font-size="6.75" text-anchor="end" letter-spacing="0" fill="#000">Covariate</text>
<text x="520.7" y="534.4" font-size="6.75" text-anchor="middle" letter-spacing="0" fill="#000">Class Frequency</text>
<text x="464.9" y="443.8" font-size="6.75" text-anchor="middle" transform="rotate(-90 464.9 443.8)" letter-spacing="0" fill="#000">ASW Label</text>
<rect x="610.8" y="500.02" width="22.4" height="11.98" fill="#ff7f0e"/>
<rect x="610.8" y="500.02" width="22.4" height="11.98" fill="url(#hd)"/>
<rect x="634.4" y="496.11" width="22.4" height="15.89" fill="#9467bd"/>
<rect x="634.4" y="496.11" width="22.4" height="15.89" fill="url(#hd)"/>
<rect x="659" y="385.14" width="22.4" height="126.86" fill="#d62728"/>
<rect x="659" y="385.14" width="22.4" height="126.86" fill="url(#hd)"/>
<g fill="#8c8c8c" fill-opacity="0.75"><circle cx="619.18" cy="499.59" r="0.9"/><circle cx="615.16" cy="499.43" r="0.9"/><circle cx="622.57" cy="500.14" r="0.9"/><circle cx="622.12" cy="499.89" r="0.9"/><circle cx="614.6" cy="500.2" r="0.9"/><circle cx="615.45" cy="499.94" r="0.9"/><circle cx="620.79" cy="499.9" r="0.9"/><circle cx="617.57" cy="500.25" r="0.9"/><circle cx="624.04" cy="499.39" r="0.9"/><circle cx="620.35" cy="500.23" r="0.9"/><circle cx="629.62" cy="499.07" r="0.9"/><circle cx="618.63" cy="499.73" r="0.9"/><circle cx="616.31" cy="499.7" r="0.9"/><circle cx="627.06" cy="499.73" r="0.9"/><circle cx="640.49" cy="496.74" r="0.9"/><circle cx="643.56" cy="496.46" r="0.9"/><circle cx="646.36" cy="495.95" r="0.9"/><circle cx="640.9" cy="496.04" r="0.9"/><circle cx="648.49" cy="496.5" r="0.9"/><circle cx="646.97" cy="495.92" r="0.9"/><circle cx="644.85" cy="496.39" r="0.9"/><circle cx="648.78" cy="495.26" r="0.9"/><circle cx="641.51" cy="496.66" r="0.9"/><circle cx="651.6" cy="496.39" r="0.9"/><circle cx="649.27" cy="496.44" r="0.9"/><circle cx="639.49" cy="494.74" r="0.9"/><circle cx="644.29" cy="496.1" r="0.9"/><circle cx="645.42" cy="496.4" r="0.9"/><circle cx="662.83" cy="385.57" r="0.9"/><circle cx="671.37" cy="385.89" r="0.9"/><circle cx="676.21" cy="385.45" r="0.9"/><circle cx="671.71" cy="384.43" r="0.9"/><circle cx="671.48" cy="386.07" r="0.9"/><circle cx="677.31" cy="384.88" r="0.9"/><circle cx="669.79" cy="385.24" r="0.9"/><circle cx="673.42" cy="385.3" r="0.9"/><circle cx="672.55" cy="384.21" r="0.9"/><circle cx="666.75" cy="385.18" r="0.9"/><circle cx="668.37" cy="385.2" r="0.9"/><circle cx="669.59" cy="385.24" r="0.9"/><circle cx="664.89" cy="385.01" r="0.9"/><circle cx="674.49" cy="385.03" r="0.9"/></g>
<rect x="608.3" y="375.5" width="75.9" height="136.6" fill="none" stroke="#000" stroke-width="0.8"/>
<line x1="605.9" y1="512" x2="608.3" y2="512" stroke="#000" stroke-width="0.6"/>
<text x="603.7" y="514.6" font-size="6.5" text-anchor="end" letter-spacing="0" fill="#000">0</text>
<line x1="605.9" y1="486.78" x2="608.3" y2="486.78" stroke="#000" stroke-width="0.6"/>
<text x="603.7" y="489.38" font-size="6.5" text-anchor="end" letter-spacing="0" fill="#000">20</text>
<line x1="605.9" y1="461.56" x2="608.3" y2="461.56" stroke="#000" stroke-width="0.6"/>
<text x="603.7" y="464.16" font-size="6.5" text-anchor="end" letter-spacing="0" fill="#000">40</text>
<line x1="605.9" y1="436.34" x2="608.3" y2="436.34" stroke="#000" stroke-width="0.6"/>
<text x="603.7" y="438.94" font-size="6.5" text-anchor="end" letter-spacing="0" fill="#000">60</text>
<line x1="605.9" y1="411.12" x2="608.3" y2="411.12" stroke="#000" stroke-width="0.6"/>
<text x="603.7" y="413.72" font-size="6.5" text-anchor="end" letter-spacing="0" fill="#000">80</text>
<line x1="605.9" y1="385.9" x2="608.3" y2="385.9" stroke="#000" stroke-width="0.6"/>
<text x="603.7" y="388.5" font-size="6.5" text-anchor="end" letter-spacing="0" fill="#000">100</text>
<line x1="622" y1="512.1" x2="622" y2="514.5" stroke="#000" stroke-width="0.6"/>
<text transform="translate(622 519.69) rotate(-45)" x="0" y="2.34" font-size="6.5" letter-spacing="0" text-anchor="middle">B</text>
<line x1="645.6" y1="512.1" x2="645.6" y2="514.5" stroke="#000" stroke-width="0.6"/>
<text transform="translate(645.6 525.58) rotate(-45)" x="0" y="2.34" font-size="6.5" letter-spacing="0" text-anchor="middle">B+Cov.</text>
<line x1="670.2" y1="512.1" x2="670.2" y2="514.5" stroke="#000" stroke-width="0.6"/>
<text transform="translate(670.2 519.81) rotate(-45)" x="0" y="2.34" font-size="6.5" letter-spacing="0" text-anchor="middle">H</text>
<text x="608.9" y="372" font-size="11.9" text-anchor="start" fill="#000" letter-spacing="0.4">G.2</text>
<text x="684.2" y="365.7" font-size="6.75" text-anchor="end" letter-spacing="0" fill="#000">Runtime</text>
<text x="684.2" y="371.9" font-size="6.75" text-anchor="end" letter-spacing="0" fill="#000">Covariate</text>
<text x="646.25" y="544.6" font-size="6.75" text-anchor="middle" letter-spacing="0" fill="#000">Data Integration Method</text>
<text x="590" y="443.8" font-size="6.75" text-anchor="middle" transform="rotate(-90 590 443.8)" letter-spacing="0" fill="#000">Runtime in Seconds</text>
<polyline points="34.33,607.8 40.17,626.79 46,635.05 51.83,653.22 57.67,655.69 63.5,662.3 69.33,665.6 75.17,668.91 81,663.95 86.83,669.73 92.67,672.21 98.5,673.86 104.33,674.69 110.17,677.74 116,680.38 121.83,682.28 127.67,679.14 133.5,681.79 139.33,683.77 145.17,685.25 180.17,690.37 215.17,693.26" fill="none" stroke="#1f77b4" stroke-width="1.3" clip-path="url(#c12)" stroke-linejoin="round" stroke-linecap="butt"/>
<polyline points="34.33,575.6 40.17,608.63 46,616.89 51.83,630.92 57.67,633.4 63.5,637.53 69.33,643.31 75.17,649.91 81,641.66 86.83,648.26 92.67,649.91 98.5,654.04 104.33,654.13 110.17,657.18 116,659.58 121.83,661.89 127.67,658.17 133.5,660.65 139.33,663.95 145.17,667.25 180.17,671.05 215.17,677.58" fill="none" stroke="#ff7f0e" stroke-width="1.3" clip-path="url(#c12)" stroke-linejoin="round" stroke-linecap="butt"/>
<path d="M34.33,580.55V570.65M32.53,580.55H36.13M32.53,570.65H36.13M40.17,626.79V590.46M38.37,626.79H41.97M38.37,590.46H41.97M46,625.14V608.63M44.2,625.14H47.8M44.2,608.63H47.8M51.83,643.31V618.54M50.03,643.31H53.63M50.03,618.54H53.63M57.67,644.13V622.67M55.87,644.13H59.47M55.87,622.67H59.47M63.5,645.79V629.27M61.7,645.79H65.3M61.7,629.27H65.3M69.33,651.57V635.05M67.53,651.57H71.13M67.53,635.05H71.13M75.17,654.87V644.96M73.37,654.87H76.97M73.37,644.96H76.97M81,648.26V635.05M79.2,648.26H82.8M79.2,635.05H82.8M86.83,653.22V643.31M85.03,653.22H88.63M85.03,643.31H88.63M92.67,654.87V644.96M90.87,654.87H94.47M90.87,644.96H94.47M98.5,657.35V650.74M96.7,657.35H100.3M96.7,650.74H100.3M104.33,657.43V650.82M102.53,657.43H106.13M102.53,650.82H106.13M110.17,661.31V653.05M108.37,661.31H111.97M108.37,653.05H111.97M116,662.88V656.27M114.2,662.88H117.8M114.2,656.27H117.8M121.83,665.19V658.58M120.03,665.19H123.63M120.03,658.58H123.63M127.67,660.65V655.69M125.87,660.65H129.47M125.87,655.69H129.47M133.5,663.13V658.17M131.7,663.13H135.3M131.7,658.17H135.3M139.33,666.43V661.47M137.53,666.43H141.13M137.53,661.47H141.13M145.17,669.73V664.78M143.37,669.73H146.97M143.37,664.78H146.97M180.17,673.53V668.58M178.37,673.53H181.97M178.37,668.58H181.97M215.17,679.23V675.92M213.37,679.23H216.97M213.37,675.92H216.97" stroke="#222" stroke-width="0.8" fill="none"/>
<path d="M34.33,614.41V601.2M32.53,614.41H36.13M32.53,601.2H36.13M40.17,643.31V610.28M38.37,643.31H41.97M38.37,610.28H41.97M46,644.96V625.14M44.2,644.96H47.8M44.2,625.14H47.8M51.83,659V647.44M50.03,659H53.63M50.03,647.44H53.63M57.67,658.17V653.22M55.87,658.17H59.47M55.87,653.22H59.47M63.5,666.43V658.17M61.7,666.43H65.3M61.7,658.17H65.3M69.33,668.91V662.3M67.53,668.91H71.13M67.53,662.3H71.13M75.17,672.21V665.6M73.37,672.21H76.97M73.37,665.6H76.97M81,667.25V660.65M79.2,667.25H82.8M79.2,660.65H82.8M86.83,672.21V667.25M85.03,672.21H88.63M85.03,667.25H88.63M92.67,673.86V670.56M90.87,673.86H94.47M90.87,670.56H94.47M98.5,676.34V671.38M96.7,676.34H100.3M96.7,671.38H100.3M104.33,677.16V672.21M102.53,677.16H106.13M102.53,672.21H106.13M110.17,680.22V675.26M108.37,680.22H111.97M108.37,675.26H111.97M116,682.86V677.91M114.2,682.86H117.8M114.2,677.91H117.8M121.83,684.76V679.81M120.03,684.76H123.63M120.03,679.81H123.63M127.67,680.8V677.49M125.87,680.8H129.47M125.87,677.49H129.47M133.5,684.26V679.31M131.7,684.26H135.3M131.7,679.31H135.3M139.33,685.42V682.12M137.53,685.42H141.13M137.53,682.12H141.13M145.17,686.08V684.43M143.37,686.08H146.97M143.37,684.43H146.97M180.17,692.03V688.72M178.37,692.03H181.97M178.37,688.72H181.97M215.17,694.92V691.61M213.37,694.92H216.97M213.37,691.61H216.97" stroke="#222" stroke-width="0.8" fill="none"/>
<rect x="25.7" y="564.5" width="198.6" height="136.1" fill="none" stroke="#000" stroke-width="0.8"/>
<line x1="28.5" y1="700.6" x2="28.5" y2="703" stroke="#000" stroke-width="0.6"/>
<text x="28.5" y="709.8" font-size="6.5" text-anchor="middle" letter-spacing="0" fill="#000">0</text>
<line x1="57.67" y1="700.6" x2="57.67" y2="703" stroke="#000" stroke-width="0.6"/>
<text x="57.67" y="709.8" font-size="6.5" text-anchor="middle" letter-spacing="0" fill="#000">10</text>
<line x1="86.83" y1="700.6" x2="86.83" y2="703" stroke="#000" stroke-width="0.6"/>
<text x="86.83" y="709.8" font-size="6.5" text-anchor="middle" letter-spacing="0" fill="#000">20</text>
<line x1="116" y1="700.6" x2="116" y2="703" stroke="#000" stroke-width="0.6"/>
<text x="116" y="709.8" font-size="6.5" text-anchor="middle" letter-spacing="0" fill="#000">30</text>
<line x1="145.17" y1="700.6" x2="145.17" y2="703" stroke="#000" stroke-width="0.6"/>
<text x="145.17" y="709.8" font-size="6.5" text-anchor="middle" letter-spacing="0" fill="#000">40</text>
<line x1="174.33" y1="700.6" x2="174.33" y2="703" stroke="#000" stroke-width="0.6"/>
<text x="174.33" y="709.8" font-size="6.5" text-anchor="middle" letter-spacing="0" fill="#000">50</text>
<line x1="203.5" y1="700.6" x2="203.5" y2="703" stroke="#000" stroke-width="0.6"/>
<text x="203.5" y="709.8" font-size="6.5" text-anchor="middle" letter-spacing="0" fill="#000">60</text>
<line x1="23.3" y1="691.2" x2="25.7" y2="691.2" stroke="#000" stroke-width="0.6"/>
<text x="21.1" y="693.8" font-size="6.5" text-anchor="end" letter-spacing="0" fill="#000">0.10</text>
<line x1="23.3" y1="674.69" x2="25.7" y2="674.69" stroke="#000" stroke-width="0.6"/>
<text x="21.1" y="677.29" font-size="6.5" text-anchor="end" letter-spacing="0" fill="#000">0.12</text>
<line x1="23.3" y1="658.17" x2="25.7" y2="658.17" stroke="#000" stroke-width="0.6"/>
<text x="21.1" y="660.77" font-size="6.5" text-anchor="end" letter-spacing="0" fill="#000">0.14</text>
<line x1="23.3" y1="641.66" x2="25.7" y2="641.66" stroke="#000" stroke-width="0.6"/>
<text x="21.1" y="644.26" font-size="6.5" text-anchor="end" letter-spacing="0" fill="#000">0.16</text>
<line x1="23.3" y1="625.14" x2="25.7" y2="625.14" stroke="#000" stroke-width="0.6"/>
<text x="21.1" y="627.74" font-size="6.5" text-anchor="end" letter-spacing="0" fill="#000">0.18</text>
<line x1="23.3" y1="608.63" x2="25.7" y2="608.63" stroke="#000" stroke-width="0.6"/>
<text x="21.1" y="611.23" font-size="6.5" text-anchor="end" letter-spacing="0" fill="#000">0.20</text>
<line x1="23.3" y1="592.11" x2="25.7" y2="592.11" stroke="#000" stroke-width="0.6"/>
<text x="21.1" y="594.71" font-size="6.5" text-anchor="end" letter-spacing="0" fill="#000">0.22</text>
<line x1="23.3" y1="575.6" x2="25.7" y2="575.6" stroke="#000" stroke-width="0.6"/>
<text x="21.1" y="578.2" font-size="6.5" text-anchor="end" letter-spacing="0" fill="#000">0.24</text>
<text x="26.3" y="561" font-size="11.9" text-anchor="start" fill="#000" letter-spacing="0.4">D.2</text>
<text x="125" y="554.7" font-size="6.75" text-anchor="middle" letter-spacing="0" fill="#000">Runtime Normalized for <tspan font-style="italic">N</tspan> Batches</text>
<text x="125" y="560.9" font-size="6.75" text-anchor="middle" letter-spacing="0" fill="#000">Normalized Against <tspan font-style="italic">Nlog</tspan>(<tspan font-style="italic">N</tspan>)</text>
<text x="125" y="717.5" font-size="6.75" text-anchor="middle" letter-spacing="0" fill="#000">Number <tspan font-style="italic">N</tspan> of Batches</text>
<text x="4.6" y="632.55" font-size="6.75" text-anchor="middle" transform="rotate(-90 4.6 632.55)" letter-spacing="0" fill="#000">Norm. Runtime (lin. scaling)</text>
<rect x="258.1" y="658.23" width="16.2" height="42.57" fill="#1f77b4"/>
<rect x="258.1" y="658.23" width="16.2" height="42.57" fill="url(#hd)"/>
<rect x="276.1" y="653.22" width="16.2" height="47.58" fill="#ff7f0e"/>
<rect x="276.1" y="653.22" width="16.2" height="47.58" fill="url(#hd)"/>
<rect x="293.9" y="571.84" width="16.2" height="128.96" fill="#2ca02c"/>
<rect x="293.9" y="571.84" width="16.2" height="128.96" fill="url(#hd)"/>
<rect x="311.6" y="571.34" width="16.2" height="129.46" fill="#d62728"/>
<rect x="311.6" y="571.34" width="16.2" height="129.46" fill="url(#hd)"/>
<g fill="#8c8c8c" fill-opacity="0.7"><circle cx="261.75" cy="657.98" r="0.8"/><circle cx="270.66" cy="657.73" r="0.8"/><circle cx="261.17" cy="658.28" r="0.8"/><circle cx="270.8" cy="657.88" r="0.8"/><circle cx="270.03" cy="657.85" r="0.8"/><circle cx="265.18" cy="658.13" r="0.8"/><circle cx="264.51" cy="657.51" r="0.8"/><circle cx="262.01" cy="658.4" r="0.8"/><circle cx="262.31" cy="657.96" r="0.8"/><circle cx="266.02" cy="657.8" r="0.8"/><circle cx="285.27" cy="652.98" r="0.8"/><circle cx="283.23" cy="652.95" r="0.8"/><circle cx="282.63" cy="653.54" r="0.8"/><circle cx="286.49" cy="653.22" r="0.8"/><circle cx="284.39" cy="653.25" r="0.8"/><circle cx="278.85" cy="653.23" r="0.8"/><circle cx="288.99" cy="652.88" r="0.8"/><circle cx="287.77" cy="653.47" r="0.8"/><circle cx="282.91" cy="653.07" r="0.8"/><circle cx="285.81" cy="652.9" r="0.8"/><circle cx="296.75" cy="571.44" r="0.8"/><circle cx="297.95" cy="571.52" r="0.8"/><circle cx="300.08" cy="571.59" r="0.8"/><circle cx="297.82" cy="571.59" r="0.8"/><circle cx="297.22" cy="571.63" r="0.8"/><circle cx="306.49" cy="571.55" r="0.8"/><circle cx="303.37" cy="571.48" r="0.8"/><circle cx="300.17" cy="571.44" r="0.8"/><circle cx="300.37" cy="571.24" r="0.8"/><circle cx="307.92" cy="571.25" r="0.8"/><circle cx="319.29" cy="571.2" r="0.8"/><circle cx="314.93" cy="571.08" r="0.8"/><circle cx="317.81" cy="571.14" r="0.8"/><circle cx="315.64" cy="570.62" r="0.8"/><circle cx="313.98" cy="570.8" r="0.8"/><circle cx="315.46" cy="571.19" r="0.8"/><circle cx="320.22" cy="570.79" r="0.8"/><circle cx="325.44" cy="571.04" r="0.8"/><circle cx="324.06" cy="571.16" r="0.8"/><circle cx="318.1" cy="571.28" r="0.8"/></g>
<rect x="254.2" y="564.4" width="77.7" height="136.4" fill="none" stroke="#000" stroke-width="0.8"/>
<line x1="251.8" y1="700.8" x2="254.2" y2="700.8" stroke="#000" stroke-width="0.6"/>
<text x="249.6" y="703.4" font-size="6.5" text-anchor="end" letter-spacing="0" fill="#000">0</text>
<line x1="251.8" y1="675.76" x2="254.2" y2="675.76" stroke="#000" stroke-width="0.6"/>
<text x="249.6" y="678.36" font-size="6.5" text-anchor="end" letter-spacing="0" fill="#000">100</text>
<line x1="251.8" y1="650.72" x2="254.2" y2="650.72" stroke="#000" stroke-width="0.6"/>
<text x="249.6" y="653.32" font-size="6.5" text-anchor="end" letter-spacing="0" fill="#000">200</text>
<line x1="251.8" y1="625.68" x2="254.2" y2="625.68" stroke="#000" stroke-width="0.6"/>
<text x="249.6" y="628.28" font-size="6.5" text-anchor="end" letter-spacing="0" fill="#000">300</text>
<line x1="251.8" y1="600.64" x2="254.2" y2="600.64" stroke="#000" stroke-width="0.6"/>
<text x="249.6" y="603.24" font-size="6.5" text-anchor="end" letter-spacing="0" fill="#000">400</text>
<line x1="251.8" y1="575.6" x2="254.2" y2="575.6" stroke="#000" stroke-width="0.6"/>
<text x="249.6" y="578.2" font-size="6.5" text-anchor="end" letter-spacing="0" fill="#000">500</text>
<line x1="266.2" y1="700.8" x2="266.2" y2="703.2" stroke="#000" stroke-width="0.6"/>
<line x1="284.2" y1="700.8" x2="284.2" y2="703.2" stroke="#000" stroke-width="0.6"/>
<line x1="302" y1="700.8" x2="302" y2="703.2" stroke="#000" stroke-width="0.6"/>
<line x1="319.7" y1="700.8" x2="319.7" y2="703.2" stroke="#000" stroke-width="0.6"/>
<text transform="translate(266.2 711.01) rotate(-45)" x="0" y="2.34" font-size="6.5" letter-spacing="0" text-anchor="middle">B+L</text>
<text transform="translate(284.2 711.39) rotate(-45)" x="0" y="2.34" font-size="6.5" letter-spacing="0" text-anchor="middle">B+C</text>
<text transform="translate(302 711.13) rotate(-45)" x="0" y="2.34" font-size="6.5" letter-spacing="0" text-anchor="middle">H+L</text>
<text transform="translate(319.7 711.52) rotate(-45)" x="0" y="2.34" font-size="6.5" letter-spacing="0" text-anchor="middle">H+C</text>
<text x="254.8" y="560.9" font-size="11.9" text-anchor="start" fill="#000" letter-spacing="0.4">E.2</text>
<text x="331.9" y="554.6" font-size="6.75" text-anchor="end" letter-spacing="0" fill="#000">Seq. Runtime</text>
<text x="331.9" y="560.8" font-size="6.75" text-anchor="end" letter-spacing="0" fill="#000">(256 Batches)</text>
<text x="293.05" y="726" font-size="6.75" text-anchor="middle" letter-spacing="0" fill="#000">Data Integration Method</text>
<text x="236.3" y="632.6" font-size="6.75" text-anchor="middle" transform="rotate(-90 236.3 632.6)" letter-spacing="0" fill="#000">Seq. Runtime in Seconds</text>
<rect x="380.15" y="684.88" width="5.7" height="15.92" fill="#1f77b4"/>
<rect x="380.15" y="684.88" width="5.7" height="15.92" fill="url(#hd)"/>
<rect x="388.6" y="689.81" width="5.7" height="10.99" fill="#1f77b4"/>
<path d="M388.6,701.6L394.3,696.6M388.6,696.6L394.3,701.6M388.6,696.6L394.3,691.6M388.6,691.6L394.3,696.6M388.6,691.6L394.3,686.6M388.6,686.6L394.3,691.6M388.6,686.6L394.3,681.6M388.6,681.6L394.3,686.6" stroke="#000" stroke-width="0.75" fill="none" clip-path="url(#fx1)"/>
<rect x="398.6" y="681.67" width="5.7" height="19.13" fill="#ff7f0e"/>
<rect x="398.6" y="681.67" width="5.7" height="19.13" fill="url(#hd)"/>
<rect x="407.1" y="689.22" width="5.7" height="11.58" fill="#ff7f0e"/>
<path d="M407.1,701.6L412.8,696.6M407.1,696.6L412.8,701.6M407.1,696.6L412.8,691.6M407.1,691.6L412.8,696.6M407.1,691.6L412.8,686.6M407.1,686.6L412.8,691.6M407.1,686.6L412.8,681.6M407.1,681.6L412.8,686.6" stroke="#000" stroke-width="0.75" fill="none" clip-path="url(#fx3)"/>
<rect x="417.1" y="579.8" width="5.7" height="121" fill="#2ca02c"/>
<rect x="417.1" y="579.8" width="5.7" height="121" fill="url(#hd)"/>
<rect x="425.5" y="604.27" width="5.7" height="96.52" fill="#2ca02c"/>
<path d="M425.5,701.6L431.2,696.6M425.5,696.6L431.2,701.6M425.5,696.6L431.2,691.6M425.5,691.6L431.2,696.6M425.5,691.6L431.2,686.6M425.5,686.6L431.2,691.6M425.5,686.6L431.2,681.6M425.5,681.6L431.2,686.6M425.5,681.6L431.2,676.6M425.5,676.6L431.2,681.6M425.5,676.6L431.2,671.6M425.5,671.6L431.2,676.6M425.5,671.6L431.2,666.6M425.5,666.6L431.2,671.6M425.5,666.6L431.2,661.6M425.5,661.6L431.2,666.6M425.5,661.6L431.2,656.6M425.5,656.6L431.2,661.6M425.5,656.6L431.2,651.6M425.5,651.6L431.2,656.6M425.5,651.6L431.2,646.6M425.5,646.6L431.2,651.6M425.5,646.6L431.2,641.6M425.5,641.6L431.2,646.6M425.5,641.6L431.2,636.6M425.5,636.6L431.2,641.6M425.5,636.6L431.2,631.6M425.5,631.6L431.2,636.6M425.5,631.6L431.2,626.6M425.5,626.6L431.2,631.6M425.5,626.6L431.2,621.6M425.5,621.6L431.2,626.6M425.5,621.6L431.2,616.6M425.5,616.6L431.2,621.6M425.5,616.6L431.2,611.6M425.5,611.6L431.2,616.6M425.5,611.6L431.2,606.6M425.5,606.6L431.2,611.6M425.5,606.6L431.2,601.6M425.5,601.6L431.2,606.6M425.5,601.6L431.2,596.6M425.5,596.6L431.2,601.6" stroke="#000" stroke-width="0.75" fill="none" clip-path="url(#fx5)"/>
<rect x="435.4" y="572.79" width="5.7" height="128.01" fill="#d62728"/>
<rect x="435.4" y="572.79" width="5.7" height="128.01" fill="url(#hd)"/>
<rect x="443.9" y="603.8" width="5.7" height="97" fill="#d62728"/>
<path d="M443.9,701.6L449.6,696.6M443.9,696.6L449.6,701.6M443.9,696.6L449.6,691.6M443.9,691.6L449.6,696.6M443.9,691.6L449.6,686.6M443.9,686.6L449.6,691.6M443.9,686.6L449.6,681.6M443.9,681.6L449.6,686.6M443.9,681.6L449.6,676.6M443.9,676.6L449.6,681.6M443.9,676.6L449.6,671.6M443.9,671.6L449.6,676.6M443.9,671.6L449.6,666.6M443.9,666.6L449.6,671.6M443.9,666.6L449.6,661.6M443.9,661.6L449.6,666.6M443.9,661.6L449.6,656.6M443.9,656.6L449.6,661.6M443.9,656.6L449.6,651.6M443.9,651.6L449.6,656.6M443.9,651.6L449.6,646.6M443.9,646.6L449.6,651.6M443.9,646.6L449.6,641.6M443.9,641.6L449.6,646.6M443.9,641.6L449.6,636.6M443.9,636.6L449.6,641.6M443.9,636.6L449.6,631.6M443.9,631.6L449.6,636.6M443.9,631.6L449.6,626.6M443.9,626.6L449.6,631.6M443.9,626.6L449.6,621.6M443.9,621.6L449.6,626.6M443.9,621.6L449.6,616.6M443.9,616.6L449.6,621.6M443.9,616.6L449.6,611.6M443.9,611.6L449.6,616.6M443.9,611.6L449.6,606.6M443.9,606.6L449.6,611.6M443.9,606.6L449.6,601.6M443.9,601.6L449.6,606.6M443.9,601.6L449.6,596.6M443.9,596.6L449.6,601.6" stroke="#000" stroke-width="0.75" fill="none" clip-path="url(#fx7)"/>
<g fill="#8c8c8c" fill-opacity="0.7"><circle cx="381.34" cy="684.48" r="0.7"/><circle cx="384.4" cy="685.31" r="0.7"/><circle cx="382.15" cy="684.4" r="0.7"/><circle cx="385.42" cy="683.51" r="0.7"/><circle cx="384.76" cy="684.21" r="0.7"/><circle cx="384.2" cy="685.61" r="0.7"/><circle cx="390.08" cy="690.07" r="0.7"/><circle cx="389.09" cy="689.58" r="0.7"/><circle cx="389.09" cy="689.6" r="0.7"/><circle cx="392.41" cy="689.06" r="0.7"/><circle cx="393.73" cy="690.83" r="0.7"/><circle cx="393.89" cy="689.06" r="0.7"/><circle cx="403.73" cy="681.65" r="0.7"/><circle cx="400.08" cy="681.06" r="0.7"/><circle cx="399.93" cy="681.14" r="0.7"/><circle cx="403.45" cy="680.58" r="0.7"/><circle cx="403.15" cy="682.23" r="0.7"/><circle cx="402.95" cy="681.27" r="0.7"/><circle cx="407.87" cy="689.61" r="0.7"/><circle cx="411.36" cy="690.02" r="0.7"/><circle cx="411.2" cy="689.29" r="0.7"/><circle cx="411.4" cy="688.87" r="0.7"/><circle cx="409.11" cy="688.42" r="0.7"/><circle cx="409.43" cy="690.43" r="0.7"/><circle cx="419.46" cy="578.6" r="0.7"/><circle cx="418.3" cy="579.82" r="0.7"/><circle cx="418.09" cy="578.76" r="0.7"/><circle cx="421.48" cy="578.46" r="0.7"/><circle cx="418.18" cy="578.74" r="0.7"/><circle cx="420.74" cy="580.98" r="0.7"/><circle cx="427.6" cy="604.28" r="0.7"/><circle cx="425.92" cy="604.07" r="0.7"/><circle cx="430.7" cy="604.41" r="0.7"/><circle cx="430.52" cy="604.56" r="0.7"/><circle cx="428.02" cy="603.21" r="0.7"/><circle cx="426.91" cy="604.78" r="0.7"/><circle cx="437.01" cy="572.61" r="0.7"/><circle cx="438.68" cy="572.07" r="0.7"/><circle cx="437.05" cy="572.77" r="0.7"/><circle cx="440.3" cy="572.34" r="0.7"/><circle cx="437.52" cy="573.26" r="0.7"/><circle cx="440.27" cy="572.29" r="0.7"/><circle cx="446.35" cy="602.89" r="0.7"/><circle cx="446.91" cy="603.85" r="0.7"/><circle cx="446.87" cy="602.87" r="0.7"/><circle cx="445.17" cy="603.43" r="0.7"/><circle cx="444.27" cy="603.39" r="0.7"/><circle cx="446.62" cy="603.85" r="0.7"/></g>
<rect x="376.6" y="564.3" width="76.8" height="136.7" fill="none" stroke="#000" stroke-width="0.8"/>
<line x1="374.2" y1="700.8" x2="376.6" y2="700.8" stroke="#000" stroke-width="0.6"/>
<text x="372" y="703.4" font-size="6.5" text-anchor="end" letter-spacing="0" fill="#000">0</text>
<line x1="374.2" y1="671.1" x2="376.6" y2="671.1" stroke="#000" stroke-width="0.6"/>
<text x="372" y="673.7" font-size="6.5" text-anchor="end" letter-spacing="0" fill="#000">50</text>
<line x1="374.2" y1="641.4" x2="376.6" y2="641.4" stroke="#000" stroke-width="0.6"/>
<text x="372" y="644" font-size="6.5" text-anchor="end" letter-spacing="0" fill="#000">100</text>
<line x1="374.2" y1="611.7" x2="376.6" y2="611.7" stroke="#000" stroke-width="0.6"/>
<text x="372" y="614.3" font-size="6.5" text-anchor="end" letter-spacing="0" fill="#000">150</text>
<line x1="374.2" y1="582" x2="376.6" y2="582" stroke="#000" stroke-width="0.6"/>
<text x="372" y="584.6" font-size="6.5" text-anchor="end" letter-spacing="0" fill="#000">200</text>
<line x1="387.7" y1="701" x2="387.7" y2="703.4" stroke="#000" stroke-width="0.6"/>
<text transform="translate(387.7 711.21) rotate(-45)" x="0" y="2.34" font-size="6.5" letter-spacing="0" text-anchor="middle">B+L</text>
<line x1="405.6" y1="701" x2="405.6" y2="703.4" stroke="#000" stroke-width="0.6"/>
<text transform="translate(405.6 711.59) rotate(-45)" x="0" y="2.34" font-size="6.5" letter-spacing="0" text-anchor="middle">B+C</text>
<line x1="424.1" y1="701" x2="424.1" y2="703.4" stroke="#000" stroke-width="0.6"/>
<text transform="translate(424.1 711.33) rotate(-45)" x="0" y="2.34" font-size="6.5" letter-spacing="0" text-anchor="middle">H+L</text>
<line x1="442.4" y1="701" x2="442.4" y2="703.4" stroke="#000" stroke-width="0.6"/>
<text transform="translate(442.4 711.72) rotate(-45)" x="0" y="2.34" font-size="6.5" letter-spacing="0" text-anchor="middle">H+C</text>
<text x="377.2" y="560.8" font-size="11.9" text-anchor="start" fill="#000" letter-spacing="0.4">F.1</text>
<text x="453.4" y="554.5" font-size="6.75" text-anchor="end" letter-spacing="0" fill="#000">Runtime</text>
<text x="453.4" y="560.7" font-size="6.75" text-anchor="end" letter-spacing="0" fill="#000">64 Batches</text>
<text x="415" y="726" font-size="6.75" text-anchor="middle" letter-spacing="0" fill="#000">Data Integration Method</text>
<text x="357.8" y="632.65" font-size="6.75" text-anchor="middle" transform="rotate(-90 357.8 632.65)" letter-spacing="0" fill="#000">Runtime in Seconds</text>
<polyline points="491.33,574.3 499.33,574.3 506.99,574.3 514.3,574.3 522.3,574.3 531,574.3 540.05,574.3 550.14,574.3 558.84,574.3 569.98,574.3 580.07,574.3 592.25,574.3 603.73,574.3 616.61,574.3 630.18,574.3 644.8,574.3 659.41,574.3 675.07,574.3" fill="none" stroke="#1f77b4" stroke-width="1.1" stroke-dasharray="3.2,1.6" clip-path="url(#c15)" stroke-linejoin="round" stroke-linecap="butt"/>
<polyline points="491.33,574.3 499.33,574.76 506.99,577.56 514.3,580.81 522.3,585.47 531,591.05 540.05,596.64 550.14,602.69 558.84,609.21 569.98,615.73 580.07,622.71 592.25,631.55 603.73,639.93 616.61,648.78 630.18,658.09 644.8,668.79 659.41,679.5 675.07,691.14" fill="none" stroke="#1f77b4" stroke-width="1.3" clip-path="url(#c15)" stroke-linejoin="round" stroke-linecap="butt"/>
<path d="M491.33,577.09V571.5M489.63,577.09H493.03M489.63,571.5H493.03M499.33,576.62V571.97M497.63,576.62H501.03M497.63,571.97H501.03M506.99,577.09V571.5M505.29,577.09H508.69M505.29,571.5H508.69M514.3,577.09V571.5M512.6,577.09H516M512.6,571.5H516M522.3,576.62V571.97M520.6,576.62H524M520.6,571.97H524M531,576.16V572.43M529.3,576.16H532.7M529.3,572.43H532.7M540.05,576.16V572.43M538.35,576.16H541.75M538.35,572.43H541.75M550.14,576.16V572.43M548.44,576.16H551.84M548.44,572.43H551.84M558.84,576.16V572.43M557.14,576.16H560.54M557.14,572.43H560.54M569.98,576.16V572.43M568.28,576.16H571.68M568.28,572.43H571.68M580.07,576.16V572.43M578.37,576.16H581.77M578.37,572.43H581.77M592.25,576.16V572.43M590.55,576.16H593.95M590.55,572.43H593.95M603.73,576.16V572.43M602.03,576.16H605.43M602.03,572.43H605.43M616.61,576.16V572.43M614.91,576.16H618.31M614.91,572.43H618.31M630.18,576.16V572.43M628.48,576.16H631.88M628.48,572.43H631.88M644.8,576.16V572.43M643.1,576.16H646.5M643.1,572.43H646.5M659.41,575.69V572.9M657.71,575.69H661.11M657.71,572.9H661.11M675.07,575.69V572.9M673.37,575.69H676.77M673.37,572.9H676.77" stroke="#000" stroke-width="0.8" fill="none"/>
<path d="M491.33,578.02V570.57M489.63,578.02H493.03M489.63,570.57H493.03M499.33,577.56V571.97M497.63,577.56H501.03M497.63,571.97H501.03M506.99,581.28V573.83M505.29,581.28H508.69M505.29,573.83H508.69M514.3,584.54V577.09M512.6,584.54H516M512.6,577.09H516M522.3,587.8V583.14M520.6,587.8H524M520.6,583.14H524M531,593.38V588.73M529.3,593.38H532.7M529.3,588.73H532.7M540.05,598.97V594.31M538.35,598.97H541.75M538.35,594.31H541.75M550.14,605.02V600.37M548.44,605.02H551.84M548.44,600.37H551.84M558.84,611.54V606.88M557.14,611.54H560.54M557.14,606.88H560.54M569.98,618.05V613.4M568.28,618.05H571.68M568.28,613.4H571.68M580.07,625.04V620.38M578.37,625.04H581.77M578.37,620.38H581.77M592.25,633.88V629.23M590.55,633.88H593.95M590.55,629.23H593.95M603.73,642.26V637.61M602.03,642.26H605.43M602.03,637.61H605.43M616.61,651.1V646.45M614.91,651.1H618.31M614.91,646.45H618.31M630.18,660.41V655.76M628.48,660.41H631.88M628.48,655.76H631.88M644.8,671.12V666.47M643.1,671.12H646.5M643.1,666.47H646.5M659.41,681.83V677.17M657.71,681.83H661.11M657.71,677.17H661.11M675.07,693.93V688.34M673.37,693.93H676.77M673.37,688.34H676.77" stroke="#000" stroke-width="0.8" fill="none"/>
<rect x="518.7" y="627.5" width="61" height="53.7" fill="#fff"/>
<polyline points="521.3,679.31 539.77,641.6 576.7,629.56" fill="none" stroke="#1f77b4" stroke-width="1.1" stroke-dasharray="3.2,1.6" stroke-linejoin="round" stroke-linecap="butt"/>
<circle cx="521.3" cy="679.31" r="2.1" fill="#1f77b4"/><circle cx="539.77" cy="641.6" r="2.1" fill="#1f77b4"/><circle cx="576.7" cy="629.56" r="2.1" fill="#1f77b4"/>
<rect x="518.7" y="627.5" width="61" height="53.7" fill="none" stroke="#000" stroke-width="0.8"/>
<line x1="521.3" y1="681.2" x2="521.3" y2="678.8" stroke="#000" stroke-width="0.6"/>
<text x="521.3" y="677" font-size="6.5" text-anchor="middle" letter-spacing="0" fill="#000">2</text>
<line x1="539.77" y1="681.2" x2="539.77" y2="678.8" stroke="#000" stroke-width="0.6"/>
<text x="539.77" y="677" font-size="6.5" text-anchor="middle" letter-spacing="0" fill="#000">4</text>
<line x1="576.7" y1="681.2" x2="576.7" y2="678.8" stroke="#000" stroke-width="0.6"/>
<text x="576.7" y="677" font-size="6.5" text-anchor="middle" letter-spacing="0" fill="#000">8</text>
<line x1="516.3" y1="675.3" x2="518.7" y2="675.3" stroke="#000" stroke-width="0.6"/>
<text x="514.3" y="677.8" font-size="6.5" text-anchor="end" letter-spacing="0" fill="#000">0.922</text>
<line x1="516.3" y1="659.25" x2="518.7" y2="659.25" stroke="#000" stroke-width="0.6"/>
<text x="514.3" y="661.75" font-size="6.5" text-anchor="end" letter-spacing="0" fill="#000">0.924</text>
<line x1="516.3" y1="643.2" x2="518.7" y2="643.2" stroke="#000" stroke-width="0.6"/>
<text x="514.3" y="645.7" font-size="6.5" text-anchor="end" letter-spacing="0" fill="#000">0.926</text>
<text x="549.2" y="689.2" font-size="6.75" text-anchor="middle" letter-spacing="0" fill="#000">Number of References</text>
<rect x="482.8" y="564.4" width="201.4" height="136.4" fill="none" stroke="#000" stroke-width="0.8"/>
<line x1="487.5" y1="700.8" x2="487.5" y2="703.2" stroke="#000" stroke-width="0.6"/>
<text x="487.5" y="710" font-size="6.5" text-anchor="middle" letter-spacing="0" fill="#000">0.0</text>
<line x1="522.3" y1="700.8" x2="522.3" y2="703.2" stroke="#000" stroke-width="0.6"/>
<text x="522.3" y="710" font-size="6.5" text-anchor="middle" letter-spacing="0" fill="#000">0.1</text>
<line x1="557.1" y1="700.8" x2="557.1" y2="703.2" stroke="#000" stroke-width="0.6"/>
<text x="557.1" y="710" font-size="6.5" text-anchor="middle" letter-spacing="0" fill="#000">0.2</text>
<line x1="591.9" y1="700.8" x2="591.9" y2="703.2" stroke="#000" stroke-width="0.6"/>
<text x="591.9" y="710" font-size="6.5" text-anchor="middle" letter-spacing="0" fill="#000">0.3</text>
<line x1="626.7" y1="700.8" x2="626.7" y2="703.2" stroke="#000" stroke-width="0.6"/>
<text x="626.7" y="710" font-size="6.5" text-anchor="middle" letter-spacing="0" fill="#000">0.4</text>
<line x1="661.5" y1="700.8" x2="661.5" y2="703.2" stroke="#000" stroke-width="0.6"/>
<text x="661.5" y="710" font-size="6.5" text-anchor="middle" letter-spacing="0" fill="#000">0.5</text>
<line x1="480.4" y1="679.5" x2="482.8" y2="679.5" stroke="#000" stroke-width="0.6"/>
<text x="478.2" y="682.1" font-size="6.5" text-anchor="end" letter-spacing="0" fill="#000">0.70</text>
<line x1="480.4" y1="656.23" x2="482.8" y2="656.23" stroke="#000" stroke-width="0.6"/>
<text x="478.2" y="658.83" font-size="6.5" text-anchor="end" letter-spacing="0" fill="#000">0.75</text>
<line x1="480.4" y1="632.95" x2="482.8" y2="632.95" stroke="#000" stroke-width="0.6"/>
<text x="478.2" y="635.55" font-size="6.5" text-anchor="end" letter-spacing="0" fill="#000">0.80</text>
<line x1="480.4" y1="609.67" x2="482.8" y2="609.67" stroke="#000" stroke-width="0.6"/>
<text x="478.2" y="612.27" font-size="6.5" text-anchor="end" letter-spacing="0" fill="#000">0.85</text>
<line x1="480.4" y1="586.4" x2="482.8" y2="586.4" stroke="#000" stroke-width="0.6"/>
<text x="478.2" y="589" font-size="6.5" text-anchor="end" letter-spacing="0" fill="#000">0.90</text>
<text x="483.4" y="560.9" font-size="11.9" text-anchor="start" fill="#000" letter-spacing="0.4">H.1</text>
<text x="583.5" y="717.8" font-size="6.75" text-anchor="middle" letter-spacing="0" fill="#000">Data Imbalance 1 − 2<tspan font-style="italic">N</tspan><tspan font-size="4.6" dy="1.4" font-style="italic">A</tspan><tspan dy="-1.4">/(</tspan><tspan font-style="italic">N</tspan><tspan font-size="4.6" dy="1.4" font-style="italic">A</tspan><tspan dy="-1.4"> + </tspan><tspan font-style="italic">N</tspan><tspan font-size="4.6" dy="1.4" font-style="italic">B</tspan><tspan dy="-1.4">)</tspan></text>
<text x="461.5" y="632.6" font-size="6.75" text-anchor="middle" transform="rotate(-90 461.5 632.6)" letter-spacing="0" fill="#000">ASW Label</text>
<rect x="1.4" y="731.6" width="537.2" height="36.4" rx="1.8" fill="#fff" stroke="#d6d6d6" stroke-width="0.8"/>
<line x1="2.1" y1="736.6" x2="17" y2="736.6" stroke="#1f77b4" stroke-width="2"/>
<text x="20.7" y="738.95" font-size="6.75" text-anchor="start" letter-spacing="0" fill="#000">BERT + limma (B+L)</text>
<line x1="2.1" y1="745.5" x2="17" y2="745.5" stroke="#ff7f0e" stroke-width="2"/>
<text x="20.7" y="747.85" font-size="6.75" text-anchor="start" letter-spacing="0" fill="#000">BERT + ComBat (B+C)</text>
<line x1="2.1" y1="754.2" x2="17" y2="754.2" stroke="#2ca02c" stroke-width="2"/>
<text x="20.7" y="756.55" font-size="6.75" text-anchor="start" letter-spacing="0" fill="#000">HarmonizR + limma (H+L)</text>
<line x1="2.1" y1="762.8" x2="17" y2="762.8" stroke="#d62728" stroke-width="2"/>
<text x="20.7" y="765.15" font-size="6.75" text-anchor="start" letter-spacing="0" fill="#000">HarmonizR + ComBat (H+C)</text>
<line x1="117.2" y1="736.6" x2="130.4" y2="736.6" stroke="#000" stroke-width="1.2"/><circle cx="123.8" cy="736.6" r="1.6" fill="#000"/>
<text x="134.9" y="738.95" font-size="6.75" text-anchor="start" letter-spacing="0" fill="#000">ideal scaling</text>
<line x1="117.2" y1="745.5" x2="130.4" y2="745.5" stroke="#000" stroke-width="1.2"/>
<text x="134.9" y="747.85" font-size="6.75" text-anchor="start" letter-spacing="0" fill="#000">(line style)</text>
<text x="173.8" y="747.85" font-size="6.75" text-anchor="start" letter-spacing="0" fill="#000">default mode</text>
<line x1="117.2" y1="754.2" x2="130.4" y2="754.2" stroke="#000" stroke-width="1.2" stroke-dasharray="3,1.6"/>
<text x="134.9" y="756.55" font-size="6.75" text-anchor="start" letter-spacing="0" fill="#000">(line style)</text>
<text x="173.8" y="756.55" font-size="6.75" text-anchor="start" letter-spacing="0" fill="#000">reference mode</text>
<line x1="117.2" y1="762.8" x2="130.4" y2="762.8" stroke="#000" stroke-width="1.2" stroke-dasharray="1,1.7"/>
<text x="134.9" y="765.15" font-size="6.75" text-anchor="start" letter-spacing="0" fill="#000">(line style)</text>
<text x="173.8" y="765.15" font-size="6.75" text-anchor="start" letter-spacing="0" fill="#000">block. 2 (HarmonizR)</text>
<line x1="248.2" y1="736.6" x2="260.4" y2="736.6" stroke="#000" stroke-width="1.2" stroke-dasharray="2.6,4.2,1.2,4.2"/>
<text x="265.5" y="738.95" font-size="6.75" text-anchor="start" letter-spacing="0" fill="#000">(line style)</text>
<text x="305" y="738.95" font-size="6.75" text-anchor="start" letter-spacing="0" fill="#000">block. 4 (HarmonizR)</text>
<rect x="248.2" y="743.5" width="12.4" height="4" fill="#8c564b"/>
<text x="265.5" y="747.85" font-size="6.75" text-anchor="start" letter-spacing="0" fill="#000">raw data</text>
<rect x="248.2" y="752.2" width="12.4" height="4" fill="#9467bd"/>
<text x="265.5" y="756.55" font-size="6.75" text-anchor="start" letter-spacing="0" fill="#000">BERT + Covariates + ComBat (B + Cov + C)</text>
<rect x="409.2" y="734.6" width="12.7" height="4" fill="#fff" stroke="#000" stroke-width="0.6"/>
<path d="M409.2,738.6L413.43,734.6M409.2,734.6L413.43,738.6M413.43,738.6L417.67,734.6M413.43,734.6L417.67,738.6M417.67,738.6L421.9,734.6M417.67,734.6L421.9,738.6" stroke="#000" stroke-width="0.8" fill="none"/>
<text x="426.5" y="738.95" font-size="6.75" text-anchor="start" letter-spacing="0" fill="#000">(hatch style, runtime)</text>
<text x="497.3" y="738.95" font-size="6.75" text-anchor="start" letter-spacing="0" fill="#000">16 processes</text>
<rect x="409.2" y="743.5" width="12.7" height="4" fill="#fff" stroke="#000" stroke-width="0.6"/>
<rect x="409.2" y="743.5" width="12.7" height="4" fill="url(#hd)"/>
<text x="426.5" y="747.85" font-size="6.75" text-anchor="start" letter-spacing="0" fill="#000">(hatch style, runtime)</text>
<text x="497.3" y="747.85" font-size="6.75" text-anchor="start" letter-spacing="0" fill="#000">sequential</text>
<circle cx="415.8" cy="754.2" r="2.4" fill="#8c8c8c"/>
<text x="426.5" y="756.55" font-size="6.75" text-anchor="start" letter-spacing="0" fill="#000">data point (bar chart)</text>
</svg></body></html>
